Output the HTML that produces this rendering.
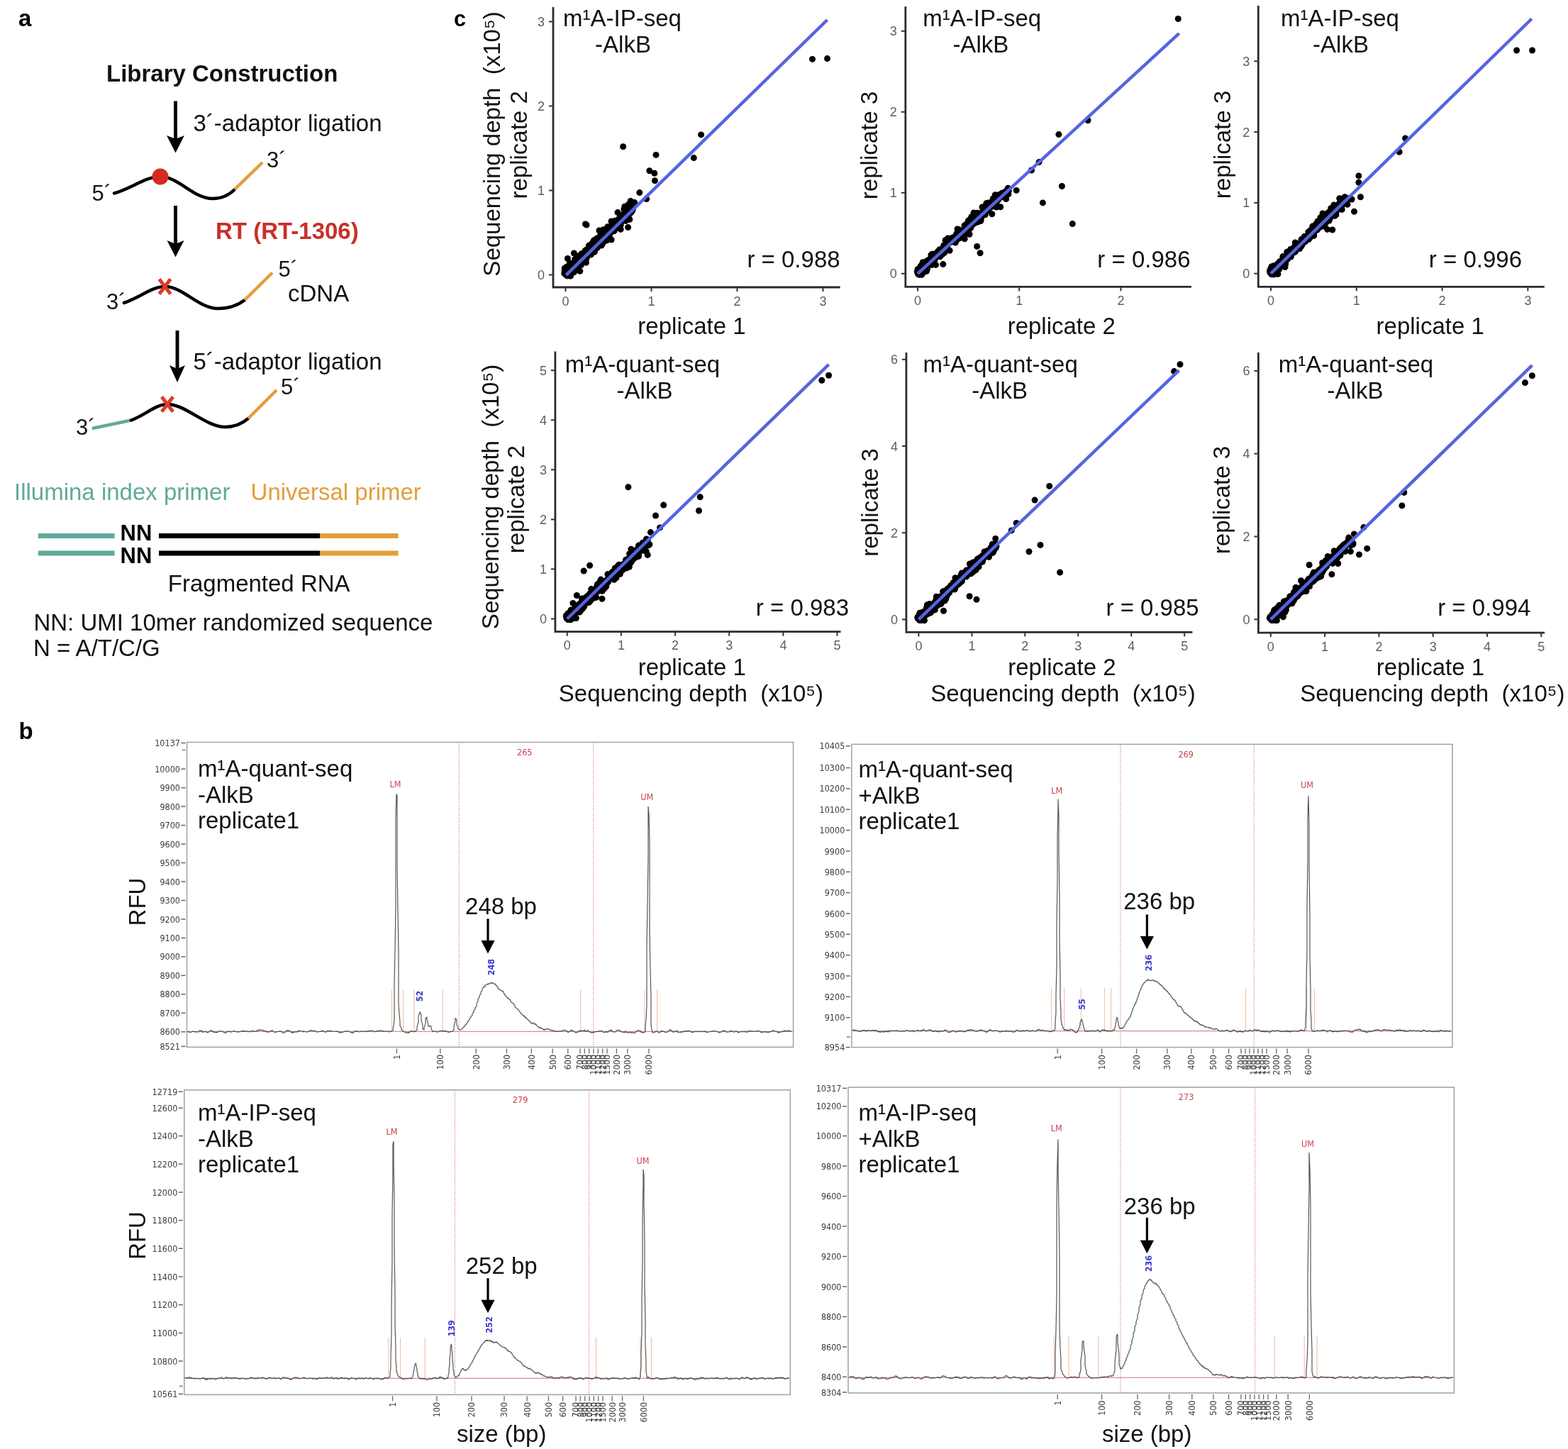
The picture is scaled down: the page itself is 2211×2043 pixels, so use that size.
<!DOCTYPE html>
<html><head><meta charset="utf-8"><title>Figure</title>
<style>
html,body{margin:0;padding:0;background:#fff;}
svg{display:block;}
text{font-family:"Liberation Sans", Arial, sans-serif;}
text.dj{font-family:"DejaVu Sans Condensed","DejaVu Sans",sans-serif;font-stretch:condensed;}
</style></head>
<body>
<svg width="2211" height="2043" viewBox="0 0 2211 2043">
<rect x="0" y="0" width="2211" height="2043" fill="#fff"/>
<text x="26.0" y="37.0" font-size="33" text-anchor="start" font-weight="bold" fill="#000" >a</text>
<text x="150.0" y="114.5" font-size="33" text-anchor="start" font-weight="bold" fill="#111" >Library Construction</text>
<line x1="247.5" y1="142.5" x2="247.5" y2="198.0" stroke="#000" stroke-width="4.9" />
<polygon points="235.0,191.0 247.5,196.0 260.0,191.0 247.5,215.5" fill="#000"/>
<text x="272.5" y="184.5" font-size="33" text-anchor="start" font-weight="normal" fill="#111" >3´-adaptor ligation</text>
<path d="M161,272.5 C185,266 205,249 226,249 C252,249 272,280 300,280 C314,280 324,274 331,267" fill="none" stroke="#000" stroke-width="4.5" stroke-linecap="round"/>
<line x1="331.0" y1="267.0" x2="370.0" y2="229.0" stroke="#e39d3b" stroke-width="4.5" />
<circle cx="226" cy="249" r="11.5" fill="#d42a20"/>
<text x="129.5" y="282.5" font-size="31" text-anchor="start" font-weight="normal" fill="#111" >5´</text>
<text x="376.0" y="236.0" font-size="31" text-anchor="start" font-weight="normal" fill="#111" >3´</text>
<line x1="247.5" y1="290.0" x2="247.5" y2="346.0" stroke="#000" stroke-width="4.9" />
<polygon points="235.5,339.0 247.5,344.0 259.5,339.0 247.5,362.5" fill="#000"/>
<text x="304.0" y="337.0" font-size="33" text-anchor="start" font-weight="bold" fill="#c9302a" >RT (RT-1306)</text>
<path d="M175,427 C198,419 215,404 232.5,404 C258,404 280,435 307.5,435 C323,435 336,430 345,423" fill="none" stroke="#000" stroke-width="4.5" stroke-linecap="round"/>
<line x1="345.0" y1="423.0" x2="384.0" y2="384.5" stroke="#e39d3b" stroke-width="4.5" />
<path d="M224.5,393.5 L240.5,414.5 M240.5,393.5 L224.5,414.5" stroke="#dc3b26" stroke-width="5" fill="none"/>
<text x="150.0" y="436.0" font-size="31" text-anchor="start" font-weight="normal" fill="#111" >3´</text>
<text x="392.5" y="390.0" font-size="31" text-anchor="start" font-weight="normal" fill="#111" >5´</text>
<text x="406.0" y="424.5" font-size="33" text-anchor="start" font-weight="normal" fill="#111" >cDNA</text>
<line x1="250.0" y1="466.0" x2="250.0" y2="522.0" stroke="#000" stroke-width="4.9" />
<polygon points="239.0,515.0 250.0,520.0 261.0,515.0 250.0,539.0" fill="#000"/>
<text x="272.5" y="521.0" font-size="33" text-anchor="start" font-weight="normal" fill="#111" >5´-adaptor ligation</text>
<line x1="130.0" y1="604.0" x2="185.0" y2="592.5" stroke="#62a99a" stroke-width="4.5" />
<path d="M185,592.5 C205,585 220,570 236,570 C262,570 290,602 317.5,602 C332,602 343,596 350,590" fill="none" stroke="#000" stroke-width="4.5" stroke-linecap="round"/>
<line x1="350.0" y1="590.0" x2="390.0" y2="550.0" stroke="#e39d3b" stroke-width="4.5" />
<path d="M228,559.5 L244,580.5 M244,559.5 L228,580.5" stroke="#dc3b26" stroke-width="5" fill="none"/>
<text x="107.0" y="612.5" font-size="31" text-anchor="start" font-weight="normal" fill="#111" >3´</text>
<text x="396.0" y="556.0" font-size="31" text-anchor="start" font-weight="normal" fill="#111" >5´</text>
<text x="20.0" y="704.8" font-size="33" text-anchor="start" font-weight="normal" fill="#62a99a" >Illumina index primer</text>
<text x="353.6" y="704.8" font-size="33" text-anchor="start" font-weight="normal" fill="#e39d3b" >Universal primer</text>
<line x1="53.8" y1="755.4" x2="161.6" y2="755.4" stroke="#62a99a" stroke-width="7" />
<line x1="224.0" y1="755.4" x2="451.0" y2="755.4" stroke="#000" stroke-width="7" />
<line x1="451.0" y1="755.4" x2="561.6" y2="755.4" stroke="#e39d3b" stroke-width="7" />
<line x1="53.8" y1="780.0" x2="161.6" y2="780.0" stroke="#62a99a" stroke-width="7" />
<line x1="224.0" y1="780.0" x2="451.0" y2="780.0" stroke="#000" stroke-width="7" />
<line x1="451.0" y1="780.0" x2="561.6" y2="780.0" stroke="#e39d3b" stroke-width="7" />
<text x="169.6" y="761.8" font-size="31" text-anchor="start" font-weight="bold" fill="#000" >NN</text>
<text x="169.6" y="794.4" font-size="31" text-anchor="start" font-weight="bold" fill="#000" >NN</text>
<text x="236.8" y="834.4" font-size="33" text-anchor="start" font-weight="normal" fill="#111" >Fragmented RNA</text>
<text x="47.4" y="888.8" font-size="33" text-anchor="start" font-weight="normal" fill="#111" >NN: UMI 10mer randomized sequence</text>
<text x="47.0" y="925.0" font-size="33" text-anchor="start" font-weight="normal" fill="#111" >N = A/T/C/G</text>
<text x="640.0" y="36.8" font-size="30.5" text-anchor="start" font-weight="bold" fill="#000" >c</text>
<path d="M780,10 L780,405 L1184.6,405" fill="none" stroke="#2b2b2b" stroke-width="2.8"/>
<line x1="797.5" y1="405.0" x2="797.5" y2="411.0" stroke="#333" stroke-width="2" />
<text x="797.5" y="430.5" font-size="18" text-anchor="middle" font-weight="normal" fill="#5c5c5c" >0</text>
<line x1="918.5" y1="405.0" x2="918.5" y2="411.0" stroke="#333" stroke-width="2" />
<text x="918.5" y="430.5" font-size="18" text-anchor="middle" font-weight="normal" fill="#5c5c5c" >1</text>
<line x1="1039.5" y1="405.0" x2="1039.5" y2="411.0" stroke="#333" stroke-width="2" />
<text x="1039.5" y="430.5" font-size="18" text-anchor="middle" font-weight="normal" fill="#5c5c5c" >2</text>
<line x1="1160.5" y1="405.0" x2="1160.5" y2="411.0" stroke="#333" stroke-width="2" />
<text x="1160.5" y="430.5" font-size="18" text-anchor="middle" font-weight="normal" fill="#5c5c5c" >3</text>
<line x1="774.0" y1="387.5" x2="780.0" y2="387.5" stroke="#333" stroke-width="2" />
<text x="768.0" y="394.0" font-size="18" text-anchor="end" font-weight="normal" fill="#5c5c5c" >0</text>
<line x1="774.0" y1="268.5" x2="780.0" y2="268.5" stroke="#333" stroke-width="2" />
<text x="768.0" y="275.0" font-size="18" text-anchor="end" font-weight="normal" fill="#5c5c5c" >1</text>
<line x1="774.0" y1="149.5" x2="780.0" y2="149.5" stroke="#333" stroke-width="2" />
<text x="768.0" y="156.0" font-size="18" text-anchor="end" font-weight="normal" fill="#5c5c5c" >2</text>
<line x1="774.0" y1="30.5" x2="780.0" y2="30.5" stroke="#333" stroke-width="2" />
<text x="768.0" y="37.0" font-size="18" text-anchor="end" font-weight="normal" fill="#5c5c5c" >3</text>
<g fill="#000"><circle cx="805.2" cy="386.2" r="4.5"/><circle cx="850.4" cy="331.6" r="4.5"/><circle cx="858.9" cy="333.7" r="4.5"/><circle cx="830.0" cy="350.4" r="4.5"/><circle cx="799.2" cy="385.5" r="4.5"/><circle cx="882.3" cy="302.4" r="4.5"/><circle cx="885.7" cy="301.7" r="4.5"/><circle cx="857.8" cy="323.2" r="4.5"/><circle cx="803.6" cy="378.3" r="4.5"/><circle cx="813.0" cy="367.7" r="4.5"/><circle cx="840.5" cy="340.4" r="4.5"/><circle cx="886.3" cy="299.7" r="4.5"/><circle cx="830.5" cy="346.1" r="4.5"/><circle cx="804.6" cy="384.1" r="4.5"/><circle cx="844.5" cy="339.4" r="4.5"/><circle cx="818.3" cy="365.0" r="4.5"/><circle cx="861.8" cy="325.8" r="4.5"/><circle cx="870.1" cy="316.1" r="4.5"/><circle cx="879.5" cy="305.2" r="4.5"/><circle cx="840.8" cy="338.1" r="4.5"/><circle cx="875.9" cy="304.8" r="4.5"/><circle cx="885.6" cy="295.2" r="4.5"/><circle cx="841.0" cy="344.9" r="4.5"/><circle cx="833.2" cy="359.0" r="4.5"/><circle cx="812.5" cy="376.1" r="4.5"/><circle cx="815.7" cy="371.1" r="4.5"/><circle cx="873.0" cy="315.6" r="4.5"/><circle cx="856.6" cy="323.7" r="4.5"/><circle cx="862.9" cy="316.3" r="4.5"/><circle cx="809.6" cy="378.3" r="4.5"/><circle cx="867.0" cy="311.3" r="4.5"/><circle cx="861.5" cy="327.3" r="4.5"/><circle cx="833.0" cy="357.5" r="4.5"/><circle cx="801.1" cy="381.9" r="4.5"/><circle cx="847.0" cy="335.4" r="4.5"/><circle cx="858.9" cy="328.0" r="4.5"/><circle cx="851.1" cy="332.2" r="4.5"/><circle cx="838.0" cy="345.0" r="4.5"/><circle cx="806.5" cy="379.4" r="4.5"/><circle cx="841.8" cy="336.1" r="4.5"/><circle cx="859.1" cy="329.5" r="4.5"/><circle cx="797.8" cy="387.2" r="4.5"/><circle cx="798.7" cy="382.4" r="4.5"/><circle cx="850.6" cy="328.2" r="4.5"/><circle cx="809.1" cy="383.2" r="4.5"/><circle cx="815.3" cy="361.0" r="4.5"/><circle cx="855.2" cy="334.6" r="4.5"/><circle cx="828.5" cy="360.3" r="4.5"/><circle cx="833.5" cy="351.4" r="4.5"/><circle cx="865.0" cy="322.5" r="4.5"/><circle cx="872.3" cy="309.5" r="4.5"/><circle cx="806.7" cy="375.8" r="4.5"/><circle cx="796.8" cy="381.9" r="4.5"/><circle cx="797.5" cy="380.3" r="4.5"/><circle cx="796.3" cy="382.7" r="4.5"/><circle cx="834.8" cy="353.7" r="4.5"/><circle cx="823.5" cy="359.5" r="4.5"/><circle cx="805.4" cy="381.2" r="4.5"/><circle cx="802.1" cy="383.0" r="4.5"/><circle cx="809.4" cy="383.7" r="4.5"/><circle cx="835.9" cy="342.3" r="4.5"/><circle cx="891.2" cy="297.3" r="4.5"/><circle cx="851.1" cy="331.1" r="4.5"/><circle cx="801.1" cy="377.3" r="4.5"/><circle cx="808.7" cy="374.8" r="4.5"/><circle cx="810.6" cy="376.7" r="4.5"/><circle cx="886.0" cy="288.4" r="4.5"/><circle cx="834.5" cy="349.5" r="4.5"/><circle cx="798.1" cy="384.4" r="4.5"/><circle cx="812.7" cy="375.1" r="4.5"/><circle cx="873.8" cy="316.5" r="4.5"/><circle cx="868.9" cy="320.4" r="4.5"/><circle cx="820.0" cy="357.8" r="4.5"/><circle cx="851.8" cy="327.3" r="4.5"/><circle cx="796.7" cy="379.9" r="4.5"/><circle cx="865.4" cy="322.4" r="4.5"/><circle cx="800.9" cy="382.0" r="4.5"/><circle cx="855.5" cy="329.3" r="4.5"/><circle cx="852.9" cy="334.6" r="4.5"/><circle cx="817.4" cy="366.4" r="4.5"/><circle cx="822.8" cy="360.3" r="4.5"/><circle cx="868.2" cy="313.8" r="4.5"/><circle cx="834.0" cy="350.9" r="4.5"/><circle cx="839.5" cy="337.9" r="4.5"/><circle cx="803.5" cy="385.4" r="4.5"/><circle cx="801.3" cy="385.3" r="4.5"/><circle cx="808.7" cy="370.5" r="4.5"/><circle cx="807.9" cy="380.4" r="4.5"/><circle cx="822.0" cy="369.1" r="4.5"/><circle cx="871.1" cy="311.8" r="4.5"/><circle cx="796.2" cy="381.9" r="4.5"/><circle cx="796.2" cy="385.4" r="4.5"/><circle cx="800.8" cy="380.8" r="4.5"/><circle cx="841.3" cy="341.6" r="4.5"/><circle cx="804.9" cy="387.9" r="4.5"/><circle cx="800.8" cy="382.1" r="4.5"/><circle cx="805.7" cy="384.2" r="4.5"/><circle cx="885.2" cy="300.4" r="4.5"/><circle cx="878.4" cy="311.4" r="4.5"/><circle cx="797.0" cy="381.4" r="4.5"/><circle cx="803.9" cy="387.6" r="4.5"/><circle cx="878.8" cy="304.0" r="4.5"/><circle cx="814.7" cy="379.5" r="4.5"/><circle cx="855.3" cy="328.4" r="4.5"/><circle cx="799.5" cy="388.2" r="4.5"/><circle cx="800.0" cy="388.9" r="4.5"/><circle cx="800.8" cy="383.6" r="4.5"/><circle cx="826.8" cy="358.2" r="4.5"/><circle cx="829.3" cy="354.2" r="4.5"/><circle cx="877.4" cy="306.2" r="4.5"/><circle cx="871.5" cy="314.4" r="4.5"/><circle cx="831.3" cy="353.3" r="4.5"/><circle cx="886.6" cy="297.9" r="4.5"/><circle cx="801.1" cy="388.4" r="4.5"/><circle cx="891.3" cy="295.7" r="4.5"/><circle cx="796.0" cy="385.4" r="4.5"/><circle cx="796.3" cy="378.1" r="4.5"/><circle cx="873.1" cy="307.9" r="4.5"/><circle cx="849.0" cy="332.5" r="4.5"/><circle cx="799.4" cy="385.1" r="4.5"/><circle cx="813.8" cy="369.1" r="4.5"/><circle cx="886.2" cy="305.8" r="4.5"/><circle cx="850.7" cy="330.0" r="4.5"/><circle cx="803.3" cy="378.0" r="4.5"/><circle cx="809.8" cy="376.4" r="4.5"/><circle cx="860.4" cy="328.8" r="4.5"/><circle cx="796.3" cy="385.0" r="4.5"/><circle cx="855.9" cy="327.8" r="4.5"/><circle cx="833.4" cy="351.8" r="4.5"/><circle cx="885.9" cy="293.6" r="4.5"/><circle cx="821.1" cy="362.4" r="4.5"/><circle cx="816.8" cy="365.8" r="4.5"/><circle cx="806.9" cy="373.6" r="4.5"/><circle cx="806.6" cy="379.7" r="4.5"/><circle cx="879.8" cy="295.1" r="4.5"/><circle cx="806.0" cy="373.6" r="4.5"/><circle cx="871.2" cy="313.0" r="4.5"/><circle cx="803.3" cy="381.1" r="4.5"/><circle cx="815.8" cy="369.7" r="4.5"/><circle cx="804.1" cy="382.7" r="4.5"/><circle cx="861.9" cy="325.9" r="4.5"/><circle cx="830.7" cy="354.1" r="4.5"/><circle cx="868.8" cy="315.5" r="4.5"/><circle cx="804.6" cy="389.0" r="4.5"/><circle cx="866.0" cy="325.7" r="4.5"/><circle cx="803.3" cy="371.1" r="4.5"/><circle cx="840.5" cy="350.6" r="4.5"/><circle cx="811.7" cy="375.4" r="4.5"/><circle cx="821.2" cy="367.5" r="4.5"/><circle cx="850.8" cy="323.8" r="4.5"/><circle cx="813.3" cy="369.2" r="4.5"/><circle cx="810.4" cy="379.8" r="4.5"/><circle cx="826.9" cy="354.2" r="4.5"/><circle cx="797.4" cy="383.8" r="4.5"/><circle cx="802.0" cy="388.2" r="4.5"/><circle cx="871.6" cy="319.4" r="4.5"/><circle cx="803.2" cy="376.0" r="4.5"/><circle cx="850.6" cy="335.3" r="4.5"/><circle cx="842.3" cy="349.3" r="4.5"/><circle cx="875.8" cy="308.0" r="4.5"/><circle cx="855.3" cy="339.0" r="4.5"/><circle cx="857.0" cy="328.1" r="4.5"/><circle cx="814.2" cy="364.4" r="4.5"/><circle cx="797.7" cy="386.2" r="4.5"/><circle cx="884.2" cy="295.3" r="4.5"/><circle cx="858.4" cy="328.4" r="4.5"/><circle cx="846.9" cy="330.4" r="4.5"/><circle cx="839.8" cy="339.3" r="4.5"/><circle cx="889.3" cy="300.0" r="4.5"/><circle cx="859.5" cy="324.6" r="4.5"/><circle cx="833.4" cy="349.6" r="4.5"/><circle cx="849.5" cy="335.9" r="4.5"/><circle cx="878.7" cy="305.5" r="4.5"/><circle cx="826.5" cy="355.4" r="4.5"/><circle cx="847.3" cy="341.1" r="4.5"/><circle cx="816.0" cy="372.1" r="4.5"/><circle cx="849.3" cy="329.3" r="4.5"/><circle cx="818.7" cy="365.4" r="4.5"/><circle cx="886.5" cy="296.0" r="4.5"/><circle cx="866.4" cy="312.8" r="4.5"/><circle cx="862.6" cy="322.2" r="4.5"/><circle cx="827.2" cy="364.1" r="4.5"/><circle cx="884.8" cy="295.3" r="4.5"/><circle cx="823.5" cy="360.2" r="4.5"/><circle cx="853.5" cy="331.7" r="4.5"/><circle cx="821.7" cy="358.9" r="4.5"/><circle cx="848.1" cy="346.0" r="4.5"/><circle cx="826.6" cy="359.1" r="4.5"/><circle cx="805.9" cy="380.5" r="4.5"/><circle cx="799.0" cy="388.1" r="4.5"/><circle cx="816.3" cy="361.9" r="4.5"/><circle cx="875.9" cy="304.6" r="4.5"/><circle cx="853.7" cy="328.1" r="4.5"/><circle cx="869.0" cy="316.6" r="4.5"/><circle cx="858.8" cy="325.4" r="4.5"/><circle cx="799.8" cy="377.9" r="4.5"/><circle cx="813.8" cy="374.5" r="4.5"/><circle cx="818.3" cy="366.1" r="4.5"/><circle cx="852.8" cy="332.7" r="4.5"/><circle cx="836.9" cy="349.4" r="4.5"/><circle cx="856.9" cy="319.7" r="4.5"/><circle cx="796.2" cy="385.4" r="4.5"/><circle cx="821.8" cy="362.7" r="4.5"/><circle cx="798.0" cy="384.6" r="4.5"/><circle cx="847.6" cy="337.4" r="4.5"/><circle cx="799.1" cy="378.2" r="4.5"/><circle cx="837.1" cy="339.5" r="4.5"/><circle cx="817.7" cy="369.2" r="4.5"/><circle cx="887.4" cy="300.2" r="4.5"/><circle cx="819.3" cy="361.2" r="4.5"/><circle cx="891.8" cy="296.6" r="4.5"/><circle cx="831.5" cy="349.8" r="4.5"/><circle cx="843.0" cy="340.8" r="4.5"/><circle cx="851.4" cy="340.7" r="4.5"/><circle cx="826.4" cy="370.3" r="4.5"/><circle cx="825.2" cy="353.4" r="4.5"/><circle cx="858.9" cy="326.2" r="4.5"/><circle cx="817.9" cy="365.2" r="4.5"/><circle cx="832.0" cy="354.7" r="4.5"/><circle cx="801.0" cy="380.3" r="4.5"/><circle cx="798.4" cy="386.4" r="4.5"/><circle cx="868.8" cy="321.8" r="4.5"/><circle cx="872.5" cy="312.3" r="4.5"/><circle cx="882.5" cy="311.4" r="4.5"/><circle cx="877.5" cy="303.1" r="4.5"/><circle cx="819.2" cy="373.9" r="4.5"/><circle cx="888.5" cy="289.8" r="4.5"/><circle cx="873.3" cy="317.2" r="4.5"/><circle cx="859.4" cy="330.5" r="4.5"/><circle cx="883.6" cy="304.3" r="4.5"/><circle cx="813.3" cy="377.3" r="4.5"/><circle cx="812.8" cy="379.8" r="4.5"/><circle cx="802.7" cy="382.5" r="4.5"/><circle cx="826.7" cy="352.3" r="4.5"/><circle cx="806.1" cy="377.2" r="4.5"/><circle cx="824.1" cy="356.9" r="4.5"/><circle cx="801.9" cy="383.2" r="4.5"/><circle cx="841.7" cy="340.1" r="4.5"/><circle cx="840.2" cy="341.6" r="4.5"/><circle cx="800.4" cy="364.5" r="4.5"/><circle cx="879.6" cy="307.4" r="4.5"/><circle cx="835.0" cy="343.1" r="4.5"/><circle cx="839.0" cy="349.8" r="4.5"/><circle cx="838.0" cy="338.8" r="4.5"/><circle cx="836.7" cy="351.3" r="4.5"/><circle cx="819.4" cy="363.9" r="4.5"/><circle cx="857.2" cy="331.3" r="4.5"/><circle cx="862.1" cy="338.0" r="4.5"/><circle cx="892.3" cy="295.0" r="4.5"/><circle cx="890.4" cy="291.5" r="4.5"/><circle cx="825.5" cy="366.9" r="4.5"/><circle cx="802.6" cy="385.4" r="4.5"/><circle cx="801.6" cy="384.9" r="4.5"/><circle cx="797.6" cy="384.9" r="4.5"/><circle cx="855.0" cy="334.6" r="4.5"/><circle cx="844.4" cy="341.6" r="4.5"/><circle cx="812.9" cy="374.1" r="4.5"/><circle cx="842.8" cy="338.7" r="4.5"/><circle cx="827.0" cy="362.3" r="4.5"/><circle cx="837.1" cy="350.0" r="4.5"/><circle cx="796.5" cy="384.7" r="4.5"/><circle cx="803.4" cy="388.9" r="4.5"/><circle cx="859.2" cy="331.7" r="4.5"/><circle cx="796.3" cy="383.2" r="4.5"/><circle cx="830.7" cy="346.6" r="4.5"/><circle cx="796.5" cy="381.4" r="4.5"/><circle cx="875.5" cy="307.2" r="4.5"/><circle cx="875.2" cy="317.2" r="4.5"/><circle cx="810.5" cy="373.7" r="4.5"/><circle cx="857.7" cy="327.6" r="4.5"/><circle cx="799.1" cy="376.2" r="4.5"/><circle cx="796.6" cy="384.0" r="4.5"/><circle cx="841.1" cy="337.2" r="4.5"/><circle cx="834.1" cy="351.4" r="4.5"/><circle cx="858.7" cy="326.1" r="4.5"/><circle cx="800.5" cy="388.5" r="4.5"/><circle cx="890.6" cy="295.5" r="4.5"/><circle cx="849.7" cy="340.2" r="4.5"/><circle cx="807.2" cy="376.0" r="4.5"/><circle cx="818.0" cy="364.3" r="4.5"/><circle cx="834.0" cy="347.5" r="4.5"/><circle cx="817.0" cy="364.8" r="4.5"/><circle cx="796.3" cy="385.8" r="4.5"/><circle cx="880.0" cy="307.8" r="4.5"/><circle cx="836.1" cy="348.7" r="4.5"/><circle cx="841.6" cy="340.8" r="4.5"/><circle cx="802.1" cy="386.0" r="4.5"/><circle cx="868.5" cy="317.9" r="4.5"/><circle cx="844.4" cy="346.2" r="4.5"/><circle cx="855.8" cy="327.2" r="4.5"/><circle cx="877.8" cy="308.8" r="4.5"/><circle cx="890.8" cy="298.3" r="4.5"/><circle cx="798.7" cy="386.7" r="4.5"/><circle cx="810.6" cy="365.7" r="4.5"/><circle cx="837.7" cy="344.8" r="4.5"/><circle cx="853.4" cy="328.2" r="4.5"/><circle cx="858.8" cy="328.9" r="4.5"/><circle cx="856.7" cy="329.5" r="4.5"/><circle cx="873.0" cy="312.5" r="4.5"/><circle cx="838.3" cy="355.2" r="4.5"/><circle cx="798.8" cy="382.3" r="4.5"/><circle cx="799.2" cy="388.0" r="4.5"/><circle cx="834.8" cy="356.0" r="4.5"/><circle cx="833.9" cy="348.9" r="4.5"/><circle cx="849.2" cy="344.3" r="4.5"/><circle cx="856.5" cy="331.0" r="4.5"/><circle cx="863.9" cy="321.0" r="4.5"/><circle cx="797.1" cy="384.1" r="4.5"/><circle cx="814.5" cy="365.9" r="4.5"/><circle cx="828.9" cy="357.7" r="4.5"/><circle cx="802.2" cy="378.6" r="4.5"/><circle cx="855.0" cy="333.4" r="4.5"/><circle cx="856.5" cy="330.3" r="4.5"/><circle cx="886.8" cy="297.7" r="4.5"/><circle cx="796.6" cy="385.2" r="4.5"/><circle cx="822.9" cy="363.5" r="4.5"/><circle cx="825.8" cy="363.8" r="4.5"/><circle cx="846.5" cy="334.8" r="4.5"/><circle cx="846.0" cy="333.9" r="4.5"/><circle cx="802.5" cy="378.9" r="4.5"/><circle cx="1145.5" cy="83.4" r="4.5"/><circle cx="1166.5" cy="82.6" r="4.5"/><circle cx="988.6" cy="189.9" r="4.5"/><circle cx="878.6" cy="206.7" r="4.5"/><circle cx="925.0" cy="218.4" r="4.5"/><circle cx="978.3" cy="222.6" r="4.5"/><circle cx="915.8" cy="240.8" r="4.5"/><circle cx="922.8" cy="244.2" r="4.5"/><circle cx="923.4" cy="254.8" r="4.5"/><circle cx="901.8" cy="271.6" r="4.5"/><circle cx="911.6" cy="280.6" r="4.5"/><circle cx="889.2" cy="283.4" r="4.5"/><circle cx="894.8" cy="285.6" r="4.5"/><circle cx="880.8" cy="291.2" r="4.5"/><circle cx="871.0" cy="299.6" r="4.5"/><circle cx="887.8" cy="309.4" r="4.5"/><circle cx="825.4" cy="315.9" r="4.5"/><circle cx="827.0" cy="317.0" r="4.5"/><circle cx="885.6" cy="320.6" r="4.5"/><circle cx="875.2" cy="323.4" r="4.5"/><circle cx="809.4" cy="357.0" r="4.5"/><circle cx="817.8" cy="382.2" r="4.5"/><circle cx="860.0" cy="328.0" r="4.5"/><circle cx="850.0" cy="335.0" r="4.5"/><circle cx="845.0" cy="325.0" r="4.5"/><circle cx="862.0" cy="312.0" r="4.5"/></g>
<line x1="798.2" y1="387.8" x2="1166.5" y2="28.0" stroke="#5763e0" stroke-width="4.5" />
<text x="877.5" y="37.0" font-size="33" text-anchor="middle" font-weight="normal" fill="#111" >m¹A-IP-seq</text>
<text x="878.5" y="73.5" font-size="33" text-anchor="middle" font-weight="normal" fill="#111" >-AlkB</text>
<text x="1184.6" y="376.8" font-size="33" text-anchor="end" font-weight="normal" fill="#111" >r = 0.988</text>
<text x="975.5" y="471.0" font-size="33" text-anchor="middle" font-weight="normal" fill="#111" >replicate 1</text>
<text transform="translate(705.4,203.0) rotate(-90)" x="0" y="0" font-size="33" text-anchor="middle" font-weight="normal" fill="#111">Sequencing depth&#160;&#160;(x10⁵)</text>
<text transform="translate(743.3,204.4) rotate(-90)" x="0" y="0" font-size="33" text-anchor="middle" font-weight="normal" fill="#111">replicate 2</text>
<path d="M1276.8,9.3 L1276.8,404.4 L1679.9,404.4" fill="none" stroke="#2b2b2b" stroke-width="2.8"/>
<line x1="1294.0" y1="404.4" x2="1294.0" y2="410.4" stroke="#333" stroke-width="2" />
<text x="1294.0" y="429.9" font-size="18" text-anchor="middle" font-weight="normal" fill="#5c5c5c" >0</text>
<line x1="1437.2" y1="404.4" x2="1437.2" y2="410.4" stroke="#333" stroke-width="2" />
<text x="1437.2" y="429.9" font-size="18" text-anchor="middle" font-weight="normal" fill="#5c5c5c" >1</text>
<line x1="1580.4" y1="404.4" x2="1580.4" y2="410.4" stroke="#333" stroke-width="2" />
<text x="1580.4" y="429.9" font-size="18" text-anchor="middle" font-weight="normal" fill="#5c5c5c" >2</text>
<line x1="1270.8" y1="385.8" x2="1276.8" y2="385.8" stroke="#333" stroke-width="2" />
<text x="1264.8" y="392.3" font-size="18" text-anchor="end" font-weight="normal" fill="#5c5c5c" >0</text>
<line x1="1270.8" y1="271.8" x2="1276.8" y2="271.8" stroke="#333" stroke-width="2" />
<text x="1264.8" y="278.3" font-size="18" text-anchor="end" font-weight="normal" fill="#5c5c5c" >1</text>
<line x1="1270.8" y1="157.8" x2="1276.8" y2="157.8" stroke="#333" stroke-width="2" />
<text x="1264.8" y="164.3" font-size="18" text-anchor="end" font-weight="normal" fill="#5c5c5c" >2</text>
<line x1="1270.8" y1="43.8" x2="1276.8" y2="43.8" stroke="#333" stroke-width="2" />
<text x="1264.8" y="50.3" font-size="18" text-anchor="end" font-weight="normal" fill="#5c5c5c" >3</text>
<g fill="#000"><circle cx="1349.0" cy="331.0" r="4.5"/><circle cx="1403.3" cy="274.8" r="4.5"/><circle cx="1335.6" cy="348.4" r="4.5"/><circle cx="1308.3" cy="374.4" r="4.5"/><circle cx="1314.2" cy="367.6" r="4.5"/><circle cx="1418.4" cy="273.4" r="4.5"/><circle cx="1295.8" cy="382.9" r="4.5"/><circle cx="1380.0" cy="304.5" r="4.5"/><circle cx="1324.1" cy="361.1" r="4.5"/><circle cx="1359.0" cy="324.8" r="4.5"/><circle cx="1326.2" cy="354.4" r="4.5"/><circle cx="1313.2" cy="363.3" r="4.5"/><circle cx="1297.1" cy="379.6" r="4.5"/><circle cx="1366.3" cy="324.2" r="4.5"/><circle cx="1402.2" cy="288.9" r="4.5"/><circle cx="1327.9" cy="351.5" r="4.5"/><circle cx="1327.0" cy="355.1" r="4.5"/><circle cx="1334.7" cy="348.2" r="4.5"/><circle cx="1344.4" cy="339.3" r="4.5"/><circle cx="1369.6" cy="315.0" r="4.5"/><circle cx="1294.9" cy="386.5" r="4.5"/><circle cx="1295.0" cy="385.2" r="4.5"/><circle cx="1302.5" cy="375.2" r="4.5"/><circle cx="1366.3" cy="317.8" r="4.5"/><circle cx="1375.8" cy="313.9" r="4.5"/><circle cx="1333.7" cy="344.2" r="4.5"/><circle cx="1337.8" cy="342.4" r="4.5"/><circle cx="1399.6" cy="290.6" r="4.5"/><circle cx="1367.9" cy="317.4" r="4.5"/><circle cx="1297.0" cy="382.8" r="4.5"/><circle cx="1297.2" cy="385.3" r="4.5"/><circle cx="1398.8" cy="287.7" r="4.5"/><circle cx="1371.0" cy="316.1" r="4.5"/><circle cx="1380.3" cy="303.2" r="4.5"/><circle cx="1303.8" cy="382.9" r="4.5"/><circle cx="1302.5" cy="375.5" r="4.5"/><circle cx="1405.6" cy="289.0" r="4.5"/><circle cx="1331.3" cy="349.1" r="4.5"/><circle cx="1415.2" cy="275.2" r="4.5"/><circle cx="1401.4" cy="287.3" r="4.5"/><circle cx="1345.4" cy="336.6" r="4.5"/><circle cx="1367.9" cy="318.1" r="4.5"/><circle cx="1312.1" cy="367.4" r="4.5"/><circle cx="1386.2" cy="292.3" r="4.5"/><circle cx="1307.2" cy="367.8" r="4.5"/><circle cx="1301.2" cy="369.7" r="4.5"/><circle cx="1400.3" cy="280.0" r="4.5"/><circle cx="1314.5" cy="361.4" r="4.5"/><circle cx="1399.9" cy="284.5" r="4.5"/><circle cx="1296.5" cy="385.8" r="4.5"/><circle cx="1337.1" cy="352.2" r="4.5"/><circle cx="1310.2" cy="373.3" r="4.5"/><circle cx="1313.5" cy="370.0" r="4.5"/><circle cx="1346.4" cy="341.4" r="4.5"/><circle cx="1317.1" cy="360.8" r="4.5"/><circle cx="1366.5" cy="319.8" r="4.5"/><circle cx="1403.3" cy="285.8" r="4.5"/><circle cx="1306.6" cy="372.7" r="4.5"/><circle cx="1295.2" cy="382.7" r="4.5"/><circle cx="1318.7" cy="360.8" r="4.5"/><circle cx="1325.5" cy="361.9" r="4.5"/><circle cx="1364.5" cy="318.4" r="4.5"/><circle cx="1369.1" cy="320.1" r="4.5"/><circle cx="1344.0" cy="334.7" r="4.5"/><circle cx="1301.2" cy="381.9" r="4.5"/><circle cx="1365.9" cy="320.1" r="4.5"/><circle cx="1374.8" cy="310.7" r="4.5"/><circle cx="1331.1" cy="346.7" r="4.5"/><circle cx="1313.9" cy="365.6" r="4.5"/><circle cx="1421.1" cy="268.0" r="4.5"/><circle cx="1378.6" cy="313.0" r="4.5"/><circle cx="1310.5" cy="367.7" r="4.5"/><circle cx="1367.6" cy="310.8" r="4.5"/><circle cx="1335.7" cy="349.0" r="4.5"/><circle cx="1418.9" cy="269.2" r="4.5"/><circle cx="1328.1" cy="354.5" r="4.5"/><circle cx="1333.3" cy="349.9" r="4.5"/><circle cx="1297.9" cy="376.0" r="4.5"/><circle cx="1376.5" cy="308.4" r="4.5"/><circle cx="1368.5" cy="317.8" r="4.5"/><circle cx="1313.4" cy="371.4" r="4.5"/><circle cx="1420.6" cy="273.6" r="4.5"/><circle cx="1387.4" cy="302.8" r="4.5"/><circle cx="1298.1" cy="375.7" r="4.5"/><circle cx="1372.8" cy="315.5" r="4.5"/><circle cx="1307.9" cy="370.8" r="4.5"/><circle cx="1306.4" cy="373.2" r="4.5"/><circle cx="1309.0" cy="373.1" r="4.5"/><circle cx="1302.7" cy="373.5" r="4.5"/><circle cx="1349.0" cy="329.1" r="4.5"/><circle cx="1361.8" cy="319.2" r="4.5"/><circle cx="1295.9" cy="386.0" r="4.5"/><circle cx="1307.5" cy="379.2" r="4.5"/><circle cx="1407.6" cy="281.5" r="4.5"/><circle cx="1340.4" cy="341.7" r="4.5"/><circle cx="1407.6" cy="275.4" r="4.5"/><circle cx="1314.5" cy="358.3" r="4.5"/><circle cx="1352.0" cy="335.5" r="4.5"/><circle cx="1336.0" cy="345.2" r="4.5"/><circle cx="1294.0" cy="383.7" r="4.5"/><circle cx="1356.8" cy="330.4" r="4.5"/><circle cx="1360.2" cy="336.8" r="4.5"/><circle cx="1422.4" cy="269.0" r="4.5"/><circle cx="1294.9" cy="383.0" r="4.5"/><circle cx="1319.5" cy="373.4" r="4.5"/><circle cx="1315.7" cy="367.5" r="4.5"/><circle cx="1308.7" cy="372.3" r="4.5"/><circle cx="1349.5" cy="338.1" r="4.5"/><circle cx="1298.5" cy="375.5" r="4.5"/><circle cx="1381.9" cy="311.6" r="4.5"/><circle cx="1410.7" cy="278.4" r="4.5"/><circle cx="1314.9" cy="365.0" r="4.5"/><circle cx="1404.7" cy="286.1" r="4.5"/><circle cx="1301.0" cy="378.2" r="4.5"/><circle cx="1306.5" cy="382.2" r="4.5"/><circle cx="1399.1" cy="285.1" r="4.5"/><circle cx="1378.7" cy="307.2" r="4.5"/><circle cx="1383.4" cy="305.6" r="4.5"/><circle cx="1307.9" cy="373.4" r="4.5"/><circle cx="1402.5" cy="285.6" r="4.5"/><circle cx="1302.1" cy="382.7" r="4.5"/><circle cx="1362.0" cy="326.0" r="4.5"/><circle cx="1368.8" cy="321.3" r="4.5"/><circle cx="1408.3" cy="274.8" r="4.5"/><circle cx="1352.3" cy="323.7" r="4.5"/><circle cx="1295.9" cy="384.4" r="4.5"/><circle cx="1362.2" cy="317.5" r="4.5"/><circle cx="1321.2" cy="356.9" r="4.5"/><circle cx="1390.8" cy="286.7" r="4.5"/><circle cx="1293.5" cy="382.9" r="4.5"/><circle cx="1294.4" cy="382.7" r="4.5"/><circle cx="1420.0" cy="269.4" r="4.5"/><circle cx="1391.0" cy="293.7" r="4.5"/><circle cx="1367.9" cy="318.6" r="4.5"/><circle cx="1385.4" cy="301.6" r="4.5"/><circle cx="1418.7" cy="273.8" r="4.5"/><circle cx="1374.5" cy="312.5" r="4.5"/><circle cx="1327.5" cy="357.4" r="4.5"/><circle cx="1381.1" cy="309.8" r="4.5"/><circle cx="1407.7" cy="281.2" r="4.5"/><circle cx="1328.4" cy="352.7" r="4.5"/><circle cx="1344.0" cy="340.2" r="4.5"/><circle cx="1368.2" cy="310.7" r="4.5"/><circle cx="1313.2" cy="367.1" r="4.5"/><circle cx="1358.3" cy="327.6" r="4.5"/><circle cx="1412.7" cy="277.6" r="4.5"/><circle cx="1307.6" cy="369.7" r="4.5"/><circle cx="1294.1" cy="381.7" r="4.5"/><circle cx="1297.8" cy="381.5" r="4.5"/><circle cx="1346.0" cy="339.2" r="4.5"/><circle cx="1404.7" cy="290.6" r="4.5"/><circle cx="1390.2" cy="294.6" r="4.5"/><circle cx="1299.1" cy="374.1" r="4.5"/><circle cx="1396.1" cy="288.1" r="4.5"/><circle cx="1395.8" cy="292.7" r="4.5"/><circle cx="1417.0" cy="276.9" r="4.5"/><circle cx="1375.4" cy="309.6" r="4.5"/><circle cx="1299.8" cy="387.2" r="4.5"/><circle cx="1296.5" cy="387.2" r="4.5"/><circle cx="1340.1" cy="336.3" r="4.5"/><circle cx="1348.7" cy="336.1" r="4.5"/><circle cx="1397.4" cy="285.0" r="4.5"/><circle cx="1421.9" cy="273.9" r="4.5"/><circle cx="1298.1" cy="383.5" r="4.5"/><circle cx="1304.0" cy="383.0" r="4.5"/><circle cx="1300.4" cy="382.1" r="4.5"/><circle cx="1302.7" cy="380.6" r="4.5"/><circle cx="1300.5" cy="379.2" r="4.5"/><circle cx="1305.0" cy="381.4" r="4.5"/><circle cx="1301.2" cy="375.2" r="4.5"/><circle cx="1385.6" cy="298.2" r="4.5"/><circle cx="1363.5" cy="319.9" r="4.5"/><circle cx="1294.3" cy="385.9" r="4.5"/><circle cx="1306.9" cy="371.2" r="4.5"/><circle cx="1399.6" cy="284.6" r="4.5"/><circle cx="1403.0" cy="279.5" r="4.5"/><circle cx="1308.3" cy="369.7" r="4.5"/><circle cx="1382.6" cy="306.4" r="4.5"/><circle cx="1353.3" cy="335.7" r="4.5"/><circle cx="1365.1" cy="312.9" r="4.5"/><circle cx="1318.4" cy="365.7" r="4.5"/><circle cx="1314.1" cy="368.1" r="4.5"/><circle cx="1409.8" cy="276.4" r="4.5"/><circle cx="1407.0" cy="281.7" r="4.5"/><circle cx="1370.5" cy="312.9" r="4.5"/><circle cx="1330.7" cy="351.3" r="4.5"/><circle cx="1400.4" cy="285.2" r="4.5"/><circle cx="1333.1" cy="351.4" r="4.5"/><circle cx="1408.2" cy="279.7" r="4.5"/><circle cx="1327.2" cy="352.8" r="4.5"/><circle cx="1363.2" cy="315.7" r="4.5"/><circle cx="1296.8" cy="387.1" r="4.5"/><circle cx="1352.0" cy="329.9" r="4.5"/><circle cx="1324.5" cy="352.1" r="4.5"/><circle cx="1357.2" cy="329.7" r="4.5"/><circle cx="1365.9" cy="316.6" r="4.5"/><circle cx="1392.6" cy="286.2" r="4.5"/><circle cx="1389.6" cy="296.7" r="4.5"/><circle cx="1296.5" cy="385.3" r="4.5"/><circle cx="1322.4" cy="359.6" r="4.5"/><circle cx="1399.5" cy="290.9" r="4.5"/><circle cx="1396.8" cy="292.2" r="4.5"/><circle cx="1303.4" cy="380.9" r="4.5"/><circle cx="1386.5" cy="297.9" r="4.5"/><circle cx="1376.8" cy="304.9" r="4.5"/><circle cx="1358.7" cy="325.0" r="4.5"/><circle cx="1312.9" cy="359.4" r="4.5"/><circle cx="1331.7" cy="356.3" r="4.5"/><circle cx="1293.5" cy="383.2" r="4.5"/><circle cx="1363.1" cy="329.0" r="4.5"/><circle cx="1321.9" cy="358.9" r="4.5"/><circle cx="1348.7" cy="333.5" r="4.5"/><circle cx="1384.8" cy="302.0" r="4.5"/><circle cx="1335.5" cy="348.0" r="4.5"/><circle cx="1305.2" cy="371.7" r="4.5"/><circle cx="1392.0" cy="292.0" r="4.5"/><circle cx="1336.6" cy="336.0" r="4.5"/><circle cx="1312.8" cy="366.8" r="4.5"/><circle cx="1403.6" cy="289.7" r="4.5"/><circle cx="1300.9" cy="379.1" r="4.5"/><circle cx="1304.3" cy="376.6" r="4.5"/><circle cx="1328.8" cy="354.5" r="4.5"/><circle cx="1347.6" cy="332.9" r="4.5"/><circle cx="1379.0" cy="311.2" r="4.5"/><circle cx="1381.6" cy="302.2" r="4.5"/><circle cx="1307.1" cy="372.2" r="4.5"/><circle cx="1322.8" cy="358.7" r="4.5"/><circle cx="1390.2" cy="296.4" r="4.5"/><circle cx="1301.0" cy="375.1" r="4.5"/><circle cx="1417.1" cy="270.8" r="4.5"/><circle cx="1345.3" cy="339.2" r="4.5"/><circle cx="1299.9" cy="376.8" r="4.5"/><circle cx="1369.5" cy="315.4" r="4.5"/><circle cx="1343.9" cy="340.6" r="4.5"/><circle cx="1294.1" cy="379.8" r="4.5"/><circle cx="1316.4" cy="358.3" r="4.5"/><circle cx="1322.0" cy="355.0" r="4.5"/><circle cx="1372.8" cy="314.9" r="4.5"/><circle cx="1348.1" cy="331.8" r="4.5"/><circle cx="1314.0" cy="373.4" r="4.5"/><circle cx="1297.3" cy="384.2" r="4.5"/><circle cx="1302.8" cy="372.4" r="4.5"/><circle cx="1298.1" cy="380.8" r="4.5"/><circle cx="1340.8" cy="339.5" r="4.5"/><circle cx="1310.9" cy="365.4" r="4.5"/><circle cx="1375.3" cy="306.4" r="4.5"/><circle cx="1339.1" cy="353.2" r="4.5"/><circle cx="1400.7" cy="284.7" r="4.5"/><circle cx="1420.3" cy="271.9" r="4.5"/><circle cx="1412.8" cy="272.3" r="4.5"/><circle cx="1364.4" cy="314.8" r="4.5"/><circle cx="1356.5" cy="328.5" r="4.5"/><circle cx="1393.5" cy="296.9" r="4.5"/><circle cx="1370.6" cy="310.4" r="4.5"/><circle cx="1369.9" cy="305.8" r="4.5"/><circle cx="1294.1" cy="382.6" r="4.5"/><circle cx="1362.9" cy="321.3" r="4.5"/><circle cx="1369.1" cy="308.5" r="4.5"/><circle cx="1307.3" cy="376.4" r="4.5"/><circle cx="1303.0" cy="373.4" r="4.5"/><circle cx="1328.2" cy="351.7" r="4.5"/><circle cx="1322.7" cy="356.3" r="4.5"/><circle cx="1389.2" cy="302.8" r="4.5"/><circle cx="1396.8" cy="290.3" r="4.5"/><circle cx="1329.9" cy="357.1" r="4.5"/><circle cx="1347.2" cy="342.1" r="4.5"/><circle cx="1394.4" cy="291.4" r="4.5"/><circle cx="1365.4" cy="319.6" r="4.5"/><circle cx="1330.7" cy="346.1" r="4.5"/><circle cx="1297.5" cy="378.4" r="4.5"/><circle cx="1410.0" cy="275.8" r="4.5"/><circle cx="1365.5" cy="311.0" r="4.5"/><circle cx="1371.7" cy="310.6" r="4.5"/><circle cx="1352.4" cy="328.0" r="4.5"/><circle cx="1318.5" cy="362.5" r="4.5"/><circle cx="1334.9" cy="343.5" r="4.5"/><circle cx="1353.4" cy="326.6" r="4.5"/><circle cx="1362.4" cy="327.5" r="4.5"/><circle cx="1298.5" cy="380.8" r="4.5"/><circle cx="1388.0" cy="293.4" r="4.5"/><circle cx="1383.3" cy="308.9" r="4.5"/><circle cx="1309.2" cy="371.5" r="4.5"/><circle cx="1382.8" cy="302.3" r="4.5"/><circle cx="1394.0" cy="288.2" r="4.5"/><circle cx="1386.9" cy="302.0" r="4.5"/><circle cx="1393.4" cy="292.7" r="4.5"/><circle cx="1399.0" cy="287.6" r="4.5"/><circle cx="1417.6" cy="272.8" r="4.5"/><circle cx="1328.6" cy="358.9" r="4.5"/><circle cx="1396.4" cy="291.3" r="4.5"/><circle cx="1385.9" cy="299.3" r="4.5"/><circle cx="1296.2" cy="384.3" r="4.5"/><circle cx="1301.3" cy="384.2" r="4.5"/><circle cx="1331.4" cy="351.8" r="4.5"/><circle cx="1378.4" cy="300.3" r="4.5"/><circle cx="1317.0" cy="361.9" r="4.5"/><circle cx="1329.7" cy="349.2" r="4.5"/><circle cx="1352.8" cy="327.7" r="4.5"/><circle cx="1301.6" cy="379.3" r="4.5"/><circle cx="1360.6" cy="329.9" r="4.5"/><circle cx="1361.7" cy="319.9" r="4.5"/><circle cx="1345.3" cy="336.9" r="4.5"/><circle cx="1384.3" cy="304.7" r="4.5"/><circle cx="1306.3" cy="379.0" r="4.5"/><circle cx="1345.0" cy="337.6" r="4.5"/><circle cx="1300.1" cy="382.7" r="4.5"/><circle cx="1312.0" cy="367.7" r="4.5"/><circle cx="1330.1" cy="354.3" r="4.5"/><circle cx="1366.2" cy="317.4" r="4.5"/><circle cx="1408.4" cy="277.6" r="4.5"/><circle cx="1308.5" cy="372.7" r="4.5"/><circle cx="1329.7" cy="357.5" r="4.5"/><circle cx="1353.8" cy="333.7" r="4.5"/><circle cx="1333.1" cy="338.8" r="4.5"/><circle cx="1386.7" cy="300.1" r="4.5"/><circle cx="1309.9" cy="370.4" r="4.5"/><circle cx="1413.2" cy="276.7" r="4.5"/><circle cx="1367.5" cy="313.8" r="4.5"/><circle cx="1372.0" cy="315.4" r="4.5"/><circle cx="1308.7" cy="369.3" r="4.5"/><circle cx="1661.3" cy="26.5" r="4.5"/><circle cx="1534.0" cy="169.7" r="4.5"/><circle cx="1492.9" cy="189.6" r="4.5"/><circle cx="1465.1" cy="228.6" r="4.5"/><circle cx="1454.5" cy="240.0" r="4.5"/><circle cx="1497.4" cy="262.5" r="4.5"/><circle cx="1433.2" cy="268.4" r="4.5"/><circle cx="1421.3" cy="265.2" r="4.5"/><circle cx="1470.4" cy="285.9" r="4.5"/><circle cx="1418.7" cy="280.6" r="4.5"/><circle cx="1410.7" cy="291.7" r="4.5"/><circle cx="1398.8" cy="301.8" r="4.5"/><circle cx="1512.3" cy="315.6" r="4.5"/><circle cx="1382.9" cy="311.6" r="4.5"/><circle cx="1377.6" cy="347.4" r="4.5"/><circle cx="1382.1" cy="356.7" r="4.5"/><circle cx="1367.0" cy="330.2" r="4.5"/><circle cx="1329.8" cy="372.6" r="4.5"/><circle cx="1405.0" cy="292.0" r="4.5"/><circle cx="1395.0" cy="286.0" r="4.5"/><circle cx="1385.0" cy="292.0" r="4.5"/><circle cx="1373.0" cy="300.0" r="4.5"/><circle cx="1360.0" cy="318.0" r="4.5"/><circle cx="1350.0" cy="323.0" r="4.5"/></g>
<line x1="1294.0" y1="385.8" x2="1662.6" y2="47.2" stroke="#5763e0" stroke-width="4.5" />
<text x="1384.8" y="37.0" font-size="33" text-anchor="middle" font-weight="normal" fill="#111" >m¹A-IP-seq</text>
<text x="1382.8" y="73.5" font-size="33" text-anchor="middle" font-weight="normal" fill="#111" >-AlkB</text>
<text x="1678.5" y="376.8" font-size="33" text-anchor="end" font-weight="normal" fill="#111" >r = 0.986</text>
<text x="1496.8" y="471.0" font-size="33" text-anchor="middle" font-weight="normal" fill="#111" >replicate 2</text>
<text transform="translate(1237.0,205.0) rotate(-90)" x="0" y="0" font-size="33" text-anchor="middle" font-weight="normal" fill="#111">replicate 3</text>
<path d="M1774.3,8 L1774.3,404.3 L2177.8,404.3" fill="none" stroke="#2b2b2b" stroke-width="2.8"/>
<line x1="1792.0" y1="404.3" x2="1792.0" y2="410.3" stroke="#333" stroke-width="2" />
<text x="1792.0" y="429.8" font-size="18" text-anchor="middle" font-weight="normal" fill="#5c5c5c" >0</text>
<line x1="1912.8" y1="404.3" x2="1912.8" y2="410.3" stroke="#333" stroke-width="2" />
<text x="1912.8" y="429.8" font-size="18" text-anchor="middle" font-weight="normal" fill="#5c5c5c" >1</text>
<line x1="2033.6" y1="404.3" x2="2033.6" y2="410.3" stroke="#333" stroke-width="2" />
<text x="2033.6" y="429.8" font-size="18" text-anchor="middle" font-weight="normal" fill="#5c5c5c" >2</text>
<line x1="2154.4" y1="404.3" x2="2154.4" y2="410.3" stroke="#333" stroke-width="2" />
<text x="2154.4" y="429.8" font-size="18" text-anchor="middle" font-weight="normal" fill="#5c5c5c" >3</text>
<line x1="1768.3" y1="385.7" x2="1774.3" y2="385.7" stroke="#333" stroke-width="2" />
<text x="1762.3" y="392.2" font-size="18" text-anchor="end" font-weight="normal" fill="#5c5c5c" >0</text>
<line x1="1768.3" y1="285.9" x2="1774.3" y2="285.9" stroke="#333" stroke-width="2" />
<text x="1762.3" y="292.4" font-size="18" text-anchor="end" font-weight="normal" fill="#5c5c5c" >1</text>
<line x1="1768.3" y1="186.1" x2="1774.3" y2="186.1" stroke="#333" stroke-width="2" />
<text x="1762.3" y="192.6" font-size="18" text-anchor="end" font-weight="normal" fill="#5c5c5c" >2</text>
<line x1="1768.3" y1="86.3" x2="1774.3" y2="86.3" stroke="#333" stroke-width="2" />
<text x="1762.3" y="92.8" font-size="18" text-anchor="end" font-weight="normal" fill="#5c5c5c" >3</text>
<g fill="#000"><circle cx="1798.3" cy="379.8" r="4.5"/><circle cx="1857.3" cy="322.0" r="4.5"/><circle cx="1844.6" cy="336.7" r="4.5"/><circle cx="1835.9" cy="338.1" r="4.5"/><circle cx="1794.8" cy="386.6" r="4.5"/><circle cx="1832.4" cy="345.8" r="4.5"/><circle cx="1881.0" cy="297.8" r="4.5"/><circle cx="1804.8" cy="375.3" r="4.5"/><circle cx="1795.2" cy="379.1" r="4.5"/><circle cx="1845.5" cy="337.2" r="4.5"/><circle cx="1824.4" cy="355.2" r="4.5"/><circle cx="1833.2" cy="344.1" r="4.5"/><circle cx="1799.2" cy="381.0" r="4.5"/><circle cx="1852.6" cy="328.6" r="4.5"/><circle cx="1803.2" cy="370.6" r="4.5"/><circle cx="1852.3" cy="323.6" r="4.5"/><circle cx="1830.8" cy="346.4" r="4.5"/><circle cx="1820.5" cy="360.3" r="4.5"/><circle cx="1884.5" cy="292.7" r="4.5"/><circle cx="1839.3" cy="336.0" r="4.5"/><circle cx="1847.9" cy="334.0" r="4.5"/><circle cx="1822.1" cy="353.0" r="4.5"/><circle cx="1848.0" cy="324.4" r="4.5"/><circle cx="1848.9" cy="333.1" r="4.5"/><circle cx="1824.4" cy="348.9" r="4.5"/><circle cx="1845.6" cy="333.2" r="4.5"/><circle cx="1879.9" cy="300.0" r="4.5"/><circle cx="1862.4" cy="318.8" r="4.5"/><circle cx="1839.6" cy="333.5" r="4.5"/><circle cx="1834.9" cy="345.0" r="4.5"/><circle cx="1897.4" cy="285.0" r="4.5"/><circle cx="1890.1" cy="289.1" r="4.5"/><circle cx="1890.5" cy="287.4" r="4.5"/><circle cx="1876.9" cy="300.1" r="4.5"/><circle cx="1882.3" cy="298.2" r="4.5"/><circle cx="1851.8" cy="324.0" r="4.5"/><circle cx="1889.7" cy="287.9" r="4.5"/><circle cx="1847.9" cy="325.8" r="4.5"/><circle cx="1803.4" cy="374.9" r="4.5"/><circle cx="1826.8" cy="349.3" r="4.5"/><circle cx="1801.7" cy="371.7" r="4.5"/><circle cx="1796.7" cy="377.9" r="4.5"/><circle cx="1794.6" cy="379.5" r="4.5"/><circle cx="1809.2" cy="364.4" r="4.5"/><circle cx="1859.9" cy="320.3" r="4.5"/><circle cx="1799.5" cy="375.6" r="4.5"/><circle cx="1808.9" cy="367.9" r="4.5"/><circle cx="1827.0" cy="352.6" r="4.5"/><circle cx="1868.9" cy="307.2" r="4.5"/><circle cx="1877.0" cy="304.8" r="4.5"/><circle cx="1847.0" cy="330.3" r="4.5"/><circle cx="1798.1" cy="376.7" r="4.5"/><circle cx="1870.2" cy="313.3" r="4.5"/><circle cx="1892.3" cy="281.9" r="4.5"/><circle cx="1887.2" cy="291.8" r="4.5"/><circle cx="1807.0" cy="369.5" r="4.5"/><circle cx="1804.1" cy="375.8" r="4.5"/><circle cx="1889.6" cy="293.6" r="4.5"/><circle cx="1853.0" cy="319.7" r="4.5"/><circle cx="1827.4" cy="351.0" r="4.5"/><circle cx="1874.8" cy="304.4" r="4.5"/><circle cx="1855.5" cy="316.0" r="4.5"/><circle cx="1877.8" cy="298.3" r="4.5"/><circle cx="1891.3" cy="286.5" r="4.5"/><circle cx="1799.5" cy="381.7" r="4.5"/><circle cx="1826.9" cy="348.8" r="4.5"/><circle cx="1879.2" cy="296.0" r="4.5"/><circle cx="1797.1" cy="380.2" r="4.5"/><circle cx="1887.5" cy="293.7" r="4.5"/><circle cx="1796.5" cy="379.1" r="4.5"/><circle cx="1792.7" cy="386.2" r="4.5"/><circle cx="1837.1" cy="341.8" r="4.5"/><circle cx="1892.2" cy="295.4" r="4.5"/><circle cx="1792.7" cy="382.7" r="4.5"/><circle cx="1862.8" cy="314.9" r="4.5"/><circle cx="1796.5" cy="385.9" r="4.5"/><circle cx="1841.6" cy="336.0" r="4.5"/><circle cx="1827.0" cy="351.3" r="4.5"/><circle cx="1876.7" cy="293.8" r="4.5"/><circle cx="1852.8" cy="320.5" r="4.5"/><circle cx="1794.3" cy="383.2" r="4.5"/><circle cx="1851.6" cy="321.3" r="4.5"/><circle cx="1846.1" cy="327.7" r="4.5"/><circle cx="1801.1" cy="374.6" r="4.5"/><circle cx="1798.8" cy="376.5" r="4.5"/><circle cx="1895.7" cy="282.0" r="4.5"/><circle cx="1792.9" cy="375.9" r="4.5"/><circle cx="1814.4" cy="365.8" r="4.5"/><circle cx="1893.8" cy="284.3" r="4.5"/><circle cx="1805.3" cy="373.8" r="4.5"/><circle cx="1795.1" cy="381.0" r="4.5"/><circle cx="1854.7" cy="325.3" r="4.5"/><circle cx="1852.1" cy="322.1" r="4.5"/><circle cx="1791.6" cy="379.5" r="4.5"/><circle cx="1897.9" cy="279.1" r="4.5"/><circle cx="1797.2" cy="386.2" r="4.5"/><circle cx="1871.6" cy="302.1" r="4.5"/><circle cx="1895.4" cy="283.6" r="4.5"/><circle cx="1796.2" cy="387.1" r="4.5"/><circle cx="1817.2" cy="358.5" r="4.5"/><circle cx="1824.7" cy="355.7" r="4.5"/><circle cx="1870.3" cy="306.7" r="4.5"/><circle cx="1895.2" cy="283.1" r="4.5"/><circle cx="1867.9" cy="307.0" r="4.5"/><circle cx="1859.8" cy="315.9" r="4.5"/><circle cx="1888.8" cy="294.8" r="4.5"/><circle cx="1876.6" cy="303.7" r="4.5"/><circle cx="1795.1" cy="383.5" r="4.5"/><circle cx="1875.4" cy="298.0" r="4.5"/><circle cx="1809.1" cy="373.6" r="4.5"/><circle cx="1859.0" cy="316.6" r="4.5"/><circle cx="1792.2" cy="385.1" r="4.5"/><circle cx="1798.6" cy="376.7" r="4.5"/><circle cx="1869.4" cy="303.4" r="4.5"/><circle cx="1873.6" cy="308.4" r="4.5"/><circle cx="1900.0" cy="288.2" r="4.5"/><circle cx="1820.4" cy="351.5" r="4.5"/><circle cx="1805.8" cy="373.5" r="4.5"/><circle cx="1839.0" cy="336.6" r="4.5"/><circle cx="1869.2" cy="305.7" r="4.5"/><circle cx="1793.3" cy="386.8" r="4.5"/><circle cx="1808.1" cy="369.5" r="4.5"/><circle cx="1794.7" cy="384.9" r="4.5"/><circle cx="1794.8" cy="382.0" r="4.5"/><circle cx="1819.2" cy="358.4" r="4.5"/><circle cx="1867.5" cy="311.9" r="4.5"/><circle cx="1795.6" cy="384.2" r="4.5"/><circle cx="1877.1" cy="300.5" r="4.5"/><circle cx="1883.0" cy="295.7" r="4.5"/><circle cx="1812.9" cy="366.9" r="4.5"/><circle cx="1875.2" cy="308.2" r="4.5"/><circle cx="1858.3" cy="319.9" r="4.5"/><circle cx="1803.8" cy="379.6" r="4.5"/><circle cx="1809.1" cy="361.6" r="4.5"/><circle cx="1875.9" cy="302.0" r="4.5"/><circle cx="1829.7" cy="347.0" r="4.5"/><circle cx="1810.2" cy="371.6" r="4.5"/><circle cx="1793.9" cy="386.0" r="4.5"/><circle cx="1832.4" cy="350.4" r="4.5"/><circle cx="1872.7" cy="299.9" r="4.5"/><circle cx="1881.7" cy="296.9" r="4.5"/><circle cx="1845.9" cy="335.1" r="4.5"/><circle cx="1835.9" cy="343.5" r="4.5"/><circle cx="1846.9" cy="328.5" r="4.5"/><circle cx="1883.3" cy="295.0" r="4.5"/><circle cx="1796.4" cy="376.6" r="4.5"/><circle cx="1815.9" cy="362.2" r="4.5"/><circle cx="1847.0" cy="329.5" r="4.5"/><circle cx="1812.7" cy="363.1" r="4.5"/><circle cx="1860.8" cy="319.6" r="4.5"/><circle cx="1895.7" cy="281.4" r="4.5"/><circle cx="1893.7" cy="282.0" r="4.5"/><circle cx="1819.6" cy="358.3" r="4.5"/><circle cx="1872.3" cy="304.0" r="4.5"/><circle cx="1809.8" cy="363.5" r="4.5"/><circle cx="1801.2" cy="378.5" r="4.5"/><circle cx="1896.2" cy="277.7" r="4.5"/><circle cx="1843.7" cy="337.4" r="4.5"/><circle cx="1861.2" cy="314.5" r="4.5"/><circle cx="1804.5" cy="372.8" r="4.5"/><circle cx="1868.1" cy="319.1" r="4.5"/><circle cx="1871.3" cy="301.6" r="4.5"/><circle cx="1830.8" cy="343.7" r="4.5"/><circle cx="1839.8" cy="333.4" r="4.5"/><circle cx="1838.9" cy="337.8" r="4.5"/><circle cx="1884.8" cy="297.7" r="4.5"/><circle cx="1839.3" cy="334.5" r="4.5"/><circle cx="1796.0" cy="374.7" r="4.5"/><circle cx="1883.7" cy="292.6" r="4.5"/><circle cx="1801.6" cy="376.0" r="4.5"/><circle cx="1856.9" cy="324.4" r="4.5"/><circle cx="1861.5" cy="315.5" r="4.5"/><circle cx="1810.8" cy="362.8" r="4.5"/><circle cx="1878.8" cy="296.2" r="4.5"/><circle cx="1891.0" cy="282.9" r="4.5"/><circle cx="1809.4" cy="363.6" r="4.5"/><circle cx="1895.8" cy="284.3" r="4.5"/><circle cx="1811.4" cy="364.3" r="4.5"/><circle cx="1830.0" cy="344.3" r="4.5"/><circle cx="1809.0" cy="362.1" r="4.5"/><circle cx="1860.4" cy="317.0" r="4.5"/><circle cx="1847.3" cy="326.1" r="4.5"/><circle cx="1802.3" cy="375.9" r="4.5"/><circle cx="1814.8" cy="355.3" r="4.5"/><circle cx="1815.7" cy="365.3" r="4.5"/><circle cx="1880.4" cy="301.8" r="4.5"/><circle cx="1835.0" cy="337.6" r="4.5"/><circle cx="1891.2" cy="293.6" r="4.5"/><circle cx="1887.9" cy="292.6" r="4.5"/><circle cx="1820.3" cy="362.0" r="4.5"/><circle cx="1793.4" cy="379.6" r="4.5"/><circle cx="1813.5" cy="365.1" r="4.5"/><circle cx="1835.3" cy="341.8" r="4.5"/><circle cx="1798.9" cy="384.4" r="4.5"/><circle cx="1861.9" cy="306.7" r="4.5"/><circle cx="1892.3" cy="290.0" r="4.5"/><circle cx="1836.4" cy="337.2" r="4.5"/><circle cx="1877.7" cy="303.7" r="4.5"/><circle cx="1898.8" cy="281.3" r="4.5"/><circle cx="1861.1" cy="315.5" r="4.5"/><circle cx="1888.2" cy="287.0" r="4.5"/><circle cx="1825.1" cy="354.3" r="4.5"/><circle cx="1795.2" cy="379.4" r="4.5"/><circle cx="1797.1" cy="381.7" r="4.5"/><circle cx="1793.1" cy="379.8" r="4.5"/><circle cx="1868.7" cy="311.0" r="4.5"/><circle cx="1796.3" cy="386.1" r="4.5"/><circle cx="1864.5" cy="312.8" r="4.5"/><circle cx="1803.6" cy="379.6" r="4.5"/><circle cx="1885.7" cy="292.0" r="4.5"/><circle cx="1797.7" cy="385.3" r="4.5"/><circle cx="1846.3" cy="335.3" r="4.5"/><circle cx="1867.4" cy="311.9" r="4.5"/><circle cx="1790.9" cy="382.7" r="4.5"/><circle cx="1801.9" cy="379.1" r="4.5"/><circle cx="1890.3" cy="288.1" r="4.5"/><circle cx="1857.8" cy="319.2" r="4.5"/><circle cx="1794.3" cy="383.1" r="4.5"/><circle cx="1792.5" cy="385.5" r="4.5"/><circle cx="1861.9" cy="320.1" r="4.5"/><circle cx="1857.8" cy="323.5" r="4.5"/><circle cx="1856.3" cy="319.8" r="4.5"/><circle cx="1839.0" cy="334.9" r="4.5"/><circle cx="1880.1" cy="300.9" r="4.5"/><circle cx="1873.5" cy="308.1" r="4.5"/><circle cx="1875.5" cy="302.8" r="4.5"/><circle cx="1791.0" cy="383.8" r="4.5"/><circle cx="1839.9" cy="339.3" r="4.5"/><circle cx="1835.0" cy="347.0" r="4.5"/><circle cx="1852.7" cy="332.2" r="4.5"/><circle cx="1800.1" cy="378.5" r="4.5"/><circle cx="1816.5" cy="359.4" r="4.5"/><circle cx="1861.9" cy="319.0" r="4.5"/><circle cx="1880.4" cy="302.1" r="4.5"/><circle cx="1899.5" cy="279.4" r="4.5"/><circle cx="1844.8" cy="327.1" r="4.5"/><circle cx="1790.6" cy="382.6" r="4.5"/><circle cx="1851.0" cy="326.2" r="4.5"/><circle cx="1793.8" cy="378.8" r="4.5"/><circle cx="1894.0" cy="283.4" r="4.5"/><circle cx="1858.3" cy="319.2" r="4.5"/><circle cx="1840.7" cy="340.6" r="4.5"/><circle cx="1850.8" cy="319.1" r="4.5"/><circle cx="1824.9" cy="354.2" r="4.5"/><circle cx="1883.9" cy="302.9" r="4.5"/><circle cx="1814.9" cy="361.5" r="4.5"/><circle cx="1818.6" cy="360.9" r="4.5"/><circle cx="1898.8" cy="280.3" r="4.5"/><circle cx="1836.6" cy="344.4" r="4.5"/><circle cx="1823.2" cy="355.0" r="4.5"/><circle cx="1826.5" cy="354.9" r="4.5"/><circle cx="1818.4" cy="353.7" r="4.5"/><circle cx="1806.5" cy="374.7" r="4.5"/><circle cx="1816.1" cy="356.0" r="4.5"/><circle cx="1843.6" cy="337.4" r="4.5"/><circle cx="1844.8" cy="331.4" r="4.5"/><circle cx="1859.0" cy="314.4" r="4.5"/><circle cx="1824.7" cy="355.6" r="4.5"/><circle cx="1840.6" cy="334.8" r="4.5"/><circle cx="1802.2" cy="373.8" r="4.5"/><circle cx="1865.7" cy="313.5" r="4.5"/><circle cx="1832.5" cy="344.7" r="4.5"/><circle cx="1805.1" cy="368.7" r="4.5"/><circle cx="1796.9" cy="376.6" r="4.5"/><circle cx="1794.0" cy="382.5" r="4.5"/><circle cx="1847.7" cy="326.9" r="4.5"/><circle cx="1803.6" cy="373.4" r="4.5"/><circle cx="1840.7" cy="338.6" r="4.5"/><circle cx="1836.5" cy="337.2" r="4.5"/><circle cx="1900.8" cy="280.6" r="4.5"/><circle cx="1854.7" cy="320.6" r="4.5"/><circle cx="1836.7" cy="337.9" r="4.5"/><circle cx="1847.7" cy="332.7" r="4.5"/><circle cx="1832.5" cy="348.1" r="4.5"/><circle cx="1799.7" cy="379.4" r="4.5"/><circle cx="1802.0" cy="386.4" r="4.5"/><circle cx="1826.3" cy="341.9" r="4.5"/><circle cx="1832.6" cy="350.6" r="4.5"/><circle cx="1813.2" cy="361.6" r="4.5"/><circle cx="1818.9" cy="360.4" r="4.5"/><circle cx="1825.3" cy="347.7" r="4.5"/><circle cx="1840.6" cy="333.8" r="4.5"/><circle cx="1845.5" cy="333.3" r="4.5"/><circle cx="1898.7" cy="280.4" r="4.5"/><circle cx="1874.2" cy="311.0" r="4.5"/><circle cx="1801.9" cy="376.9" r="4.5"/><circle cx="1815.5" cy="363.8" r="4.5"/><circle cx="1795.5" cy="379.3" r="4.5"/><circle cx="1882.2" cy="304.3" r="4.5"/><circle cx="1819.7" cy="351.6" r="4.5"/><circle cx="1845.3" cy="335.4" r="4.5"/><circle cx="1869.3" cy="308.7" r="4.5"/><circle cx="1844.6" cy="333.5" r="4.5"/><circle cx="1850.2" cy="331.6" r="4.5"/><circle cx="1857.5" cy="315.2" r="4.5"/><circle cx="1794.5" cy="382.3" r="4.5"/><circle cx="1816.0" cy="360.5" r="4.5"/><circle cx="1793.8" cy="379.5" r="4.5"/><circle cx="1857.1" cy="320.7" r="4.5"/><circle cx="1798.1" cy="376.0" r="4.5"/><circle cx="1873.5" cy="305.2" r="4.5"/><circle cx="1805.0" cy="368.5" r="4.5"/><circle cx="1876.5" cy="304.8" r="4.5"/><circle cx="1824.2" cy="354.2" r="4.5"/><circle cx="1790.9" cy="380.9" r="4.5"/><circle cx="1836.0" cy="339.9" r="4.5"/><circle cx="1863.0" cy="314.8" r="4.5"/><circle cx="1874.3" cy="299.2" r="4.5"/><circle cx="1791.3" cy="384.9" r="4.5"/><circle cx="1792.8" cy="385.5" r="4.5"/><circle cx="1830.3" cy="349.7" r="4.5"/><circle cx="1845.2" cy="330.0" r="4.5"/><circle cx="1792.3" cy="385.6" r="4.5"/><circle cx="1891.4" cy="288.5" r="4.5"/><circle cx="1826.1" cy="350.0" r="4.5"/><circle cx="1817.9" cy="354.7" r="4.5"/><circle cx="1793.2" cy="382.8" r="4.5"/><circle cx="1877.2" cy="305.0" r="4.5"/><circle cx="1860.9" cy="312.9" r="4.5"/><circle cx="1812.7" cy="372.0" r="4.5"/><circle cx="2138.6" cy="71.0" r="4.5"/><circle cx="2160.6" cy="71.0" r="4.5"/><circle cx="1981.6" cy="194.9" r="4.5"/><circle cx="1973.1" cy="214.2" r="4.5"/><circle cx="1915.9" cy="247.9" r="4.5"/><circle cx="1915.9" cy="257.2" r="4.5"/><circle cx="1918.5" cy="277.8" r="4.5"/><circle cx="1906.1" cy="281.0" r="4.5"/><circle cx="1909.5" cy="298.2" r="4.5"/><circle cx="1871.6" cy="323.4" r="4.5"/><circle cx="1878.8" cy="324.0" r="4.5"/><circle cx="1865.0" cy="300.9" r="4.5"/><circle cx="1888.8" cy="279.7" r="4.5"/><circle cx="1895.5" cy="279.7" r="4.5"/><circle cx="1880.9" cy="289.0" r="4.5"/><circle cx="1812.0" cy="376.5" r="4.5"/><circle cx="1870.0" cy="305.0" r="4.5"/><circle cx="1858.0" cy="312.0" r="4.5"/></g>
<line x1="1792.0" y1="385.7" x2="2159.8" y2="26.5" stroke="#5763e0" stroke-width="4.5" />
<text x="1889.5" y="37.0" font-size="33" text-anchor="middle" font-weight="normal" fill="#111" >m¹A-IP-seq</text>
<text x="1890.5" y="73.5" font-size="33" text-anchor="middle" font-weight="normal" fill="#111" >-AlkB</text>
<text x="2146.0" y="376.5" font-size="33" text-anchor="end" font-weight="normal" fill="#111" >r = 0.996</text>
<text x="2016.7" y="471.0" font-size="33" text-anchor="middle" font-weight="normal" fill="#111" >replicate 1</text>
<text transform="translate(1735.0,204.0) rotate(-90)" x="0" y="0" font-size="33" text-anchor="middle" font-weight="normal" fill="#111">replicate 3</text>
<path d="M782.9,495.5 L782.9,890.7 L1185.5,890.7" fill="none" stroke="#2b2b2b" stroke-width="2.8"/>
<line x1="799.8" y1="890.7" x2="799.8" y2="896.7" stroke="#333" stroke-width="2" />
<text x="799.8" y="916.2" font-size="18" text-anchor="middle" font-weight="normal" fill="#5c5c5c" >0</text>
<line x1="875.9" y1="890.7" x2="875.9" y2="896.7" stroke="#333" stroke-width="2" />
<text x="875.9" y="916.2" font-size="18" text-anchor="middle" font-weight="normal" fill="#5c5c5c" >1</text>
<line x1="952.1" y1="890.7" x2="952.1" y2="896.7" stroke="#333" stroke-width="2" />
<text x="952.1" y="916.2" font-size="18" text-anchor="middle" font-weight="normal" fill="#5c5c5c" >2</text>
<line x1="1028.2" y1="890.7" x2="1028.2" y2="896.7" stroke="#333" stroke-width="2" />
<text x="1028.2" y="916.2" font-size="18" text-anchor="middle" font-weight="normal" fill="#5c5c5c" >3</text>
<line x1="1104.4" y1="890.7" x2="1104.4" y2="896.7" stroke="#333" stroke-width="2" />
<text x="1104.4" y="916.2" font-size="18" text-anchor="middle" font-weight="normal" fill="#5c5c5c" >4</text>
<line x1="1180.5" y1="890.7" x2="1180.5" y2="896.7" stroke="#333" stroke-width="2" />
<text x="1180.5" y="916.2" font-size="18" text-anchor="middle" font-weight="normal" fill="#5c5c5c" >5</text>
<line x1="776.9" y1="872.5" x2="782.9" y2="872.5" stroke="#333" stroke-width="2" />
<text x="770.9" y="879.0" font-size="18" text-anchor="end" font-weight="normal" fill="#5c5c5c" >0</text>
<line x1="776.9" y1="802.4" x2="782.9" y2="802.4" stroke="#333" stroke-width="2" />
<text x="770.9" y="808.9" font-size="18" text-anchor="end" font-weight="normal" fill="#5c5c5c" >1</text>
<line x1="776.9" y1="732.4" x2="782.9" y2="732.4" stroke="#333" stroke-width="2" />
<text x="770.9" y="738.9" font-size="18" text-anchor="end" font-weight="normal" fill="#5c5c5c" >2</text>
<line x1="776.9" y1="662.3" x2="782.9" y2="662.3" stroke="#333" stroke-width="2" />
<text x="770.9" y="668.8" font-size="18" text-anchor="end" font-weight="normal" fill="#5c5c5c" >3</text>
<line x1="776.9" y1="592.3" x2="782.9" y2="592.3" stroke="#333" stroke-width="2" />
<text x="770.9" y="598.8" font-size="18" text-anchor="end" font-weight="normal" fill="#5c5c5c" >4</text>
<line x1="776.9" y1="522.2" x2="782.9" y2="522.2" stroke="#333" stroke-width="2" />
<text x="770.9" y="528.7" font-size="18" text-anchor="end" font-weight="normal" fill="#5c5c5c" >5</text>
<g fill="#000"><circle cx="914.5" cy="768.8" r="4.5"/><circle cx="871.6" cy="802.2" r="4.5"/><circle cx="809.4" cy="859.6" r="4.5"/><circle cx="804.0" cy="867.1" r="4.5"/><circle cx="824.3" cy="843.6" r="4.5"/><circle cx="807.9" cy="871.5" r="4.5"/><circle cx="802.5" cy="869.9" r="4.5"/><circle cx="798.4" cy="868.8" r="4.5"/><circle cx="804.7" cy="867.1" r="4.5"/><circle cx="842.9" cy="830.2" r="4.5"/><circle cx="870.3" cy="801.4" r="4.5"/><circle cx="873.9" cy="808.1" r="4.5"/><circle cx="848.2" cy="823.1" r="4.5"/><circle cx="886.5" cy="789.6" r="4.5"/><circle cx="849.0" cy="822.0" r="4.5"/><circle cx="907.4" cy="772.7" r="4.5"/><circle cx="816.5" cy="860.9" r="4.5"/><circle cx="816.2" cy="855.3" r="4.5"/><circle cx="889.9" cy="774.2" r="4.5"/><circle cx="900.5" cy="782.5" r="4.5"/><circle cx="819.5" cy="855.9" r="4.5"/><circle cx="837.4" cy="834.7" r="4.5"/><circle cx="813.3" cy="857.3" r="4.5"/><circle cx="803.3" cy="868.9" r="4.5"/><circle cx="884.8" cy="792.2" r="4.5"/><circle cx="865.4" cy="806.1" r="4.5"/><circle cx="912.8" cy="761.4" r="4.5"/><circle cx="915.9" cy="767.6" r="4.5"/><circle cx="870.1" cy="808.3" r="4.5"/><circle cx="821.2" cy="858.4" r="4.5"/><circle cx="829.6" cy="846.6" r="4.5"/><circle cx="888.5" cy="794.2" r="4.5"/><circle cx="801.2" cy="870.2" r="4.5"/><circle cx="831.5" cy="837.2" r="4.5"/><circle cx="892.9" cy="781.7" r="4.5"/><circle cx="849.0" cy="831.4" r="4.5"/><circle cx="814.2" cy="862.2" r="4.5"/><circle cx="830.6" cy="849.3" r="4.5"/><circle cx="828.7" cy="848.6" r="4.5"/><circle cx="839.5" cy="837.9" r="4.5"/><circle cx="861.7" cy="809.0" r="4.5"/><circle cx="823.6" cy="854.0" r="4.5"/><circle cx="849.1" cy="833.4" r="4.5"/><circle cx="913.2" cy="767.0" r="4.5"/><circle cx="805.0" cy="860.1" r="4.5"/><circle cx="825.3" cy="848.6" r="4.5"/><circle cx="856.1" cy="820.2" r="4.5"/><circle cx="890.5" cy="779.7" r="4.5"/><circle cx="824.8" cy="851.8" r="4.5"/><circle cx="822.9" cy="852.5" r="4.5"/><circle cx="801.6" cy="873.3" r="4.5"/><circle cx="896.0" cy="782.1" r="4.5"/><circle cx="833.5" cy="842.9" r="4.5"/><circle cx="817.1" cy="854.7" r="4.5"/><circle cx="872.2" cy="805.9" r="4.5"/><circle cx="874.5" cy="802.6" r="4.5"/><circle cx="842.1" cy="829.9" r="4.5"/><circle cx="830.9" cy="846.7" r="4.5"/><circle cx="882.5" cy="795.5" r="4.5"/><circle cx="829.3" cy="840.5" r="4.5"/><circle cx="894.6" cy="776.3" r="4.5"/><circle cx="868.8" cy="814.9" r="4.5"/><circle cx="904.9" cy="774.1" r="4.5"/><circle cx="801.0" cy="873.5" r="4.5"/><circle cx="822.5" cy="851.8" r="4.5"/><circle cx="817.1" cy="863.1" r="4.5"/><circle cx="891.1" cy="783.6" r="4.5"/><circle cx="807.9" cy="850.4" r="4.5"/><circle cx="879.0" cy="795.7" r="4.5"/><circle cx="846.7" cy="827.3" r="4.5"/><circle cx="903.3" cy="772.4" r="4.5"/><circle cx="842.2" cy="828.0" r="4.5"/><circle cx="877.7" cy="803.7" r="4.5"/><circle cx="883.1" cy="792.9" r="4.5"/><circle cx="831.6" cy="839.8" r="4.5"/><circle cx="876.4" cy="797.4" r="4.5"/><circle cx="854.3" cy="827.6" r="4.5"/><circle cx="837.1" cy="835.5" r="4.5"/><circle cx="858.0" cy="811.5" r="4.5"/><circle cx="843.5" cy="833.1" r="4.5"/><circle cx="911.1" cy="777.2" r="4.5"/><circle cx="805.2" cy="870.0" r="4.5"/><circle cx="863.2" cy="806.6" r="4.5"/><circle cx="815.7" cy="854.2" r="4.5"/><circle cx="878.0" cy="799.8" r="4.5"/><circle cx="801.9" cy="872.0" r="4.5"/><circle cx="880.5" cy="794.5" r="4.5"/><circle cx="840.9" cy="828.5" r="4.5"/><circle cx="822.5" cy="853.5" r="4.5"/><circle cx="825.8" cy="850.5" r="4.5"/><circle cx="803.6" cy="868.3" r="4.5"/><circle cx="861.3" cy="815.9" r="4.5"/><circle cx="866.7" cy="804.6" r="4.5"/><circle cx="818.6" cy="859.0" r="4.5"/><circle cx="820.9" cy="852.0" r="4.5"/><circle cx="861.0" cy="811.0" r="4.5"/><circle cx="803.4" cy="867.9" r="4.5"/><circle cx="864.8" cy="813.9" r="4.5"/><circle cx="833.7" cy="830.6" r="4.5"/><circle cx="865.9" cy="817.3" r="4.5"/><circle cx="868.1" cy="808.6" r="4.5"/><circle cx="858.0" cy="815.0" r="4.5"/><circle cx="874.7" cy="800.6" r="4.5"/><circle cx="827.8" cy="840.8" r="4.5"/><circle cx="886.4" cy="790.6" r="4.5"/><circle cx="871.1" cy="798.6" r="4.5"/><circle cx="905.0" cy="773.0" r="4.5"/><circle cx="832.4" cy="842.4" r="4.5"/><circle cx="814.0" cy="858.1" r="4.5"/><circle cx="897.5" cy="779.5" r="4.5"/><circle cx="801.6" cy="873.2" r="4.5"/><circle cx="838.1" cy="840.4" r="4.5"/><circle cx="801.4" cy="873.5" r="4.5"/><circle cx="813.4" cy="855.9" r="4.5"/><circle cx="887.5" cy="793.3" r="4.5"/><circle cx="817.2" cy="858.4" r="4.5"/><circle cx="820.7" cy="856.0" r="4.5"/><circle cx="907.0" cy="768.8" r="4.5"/><circle cx="810.4" cy="860.2" r="4.5"/><circle cx="894.1" cy="784.4" r="4.5"/><circle cx="892.8" cy="788.6" r="4.5"/><circle cx="833.5" cy="834.9" r="4.5"/><circle cx="821.1" cy="856.9" r="4.5"/><circle cx="815.8" cy="862.7" r="4.5"/><circle cx="881.3" cy="795.7" r="4.5"/><circle cx="860.9" cy="814.8" r="4.5"/><circle cx="818.8" cy="861.1" r="4.5"/><circle cx="870.9" cy="798.8" r="4.5"/><circle cx="869.4" cy="806.9" r="4.5"/><circle cx="811.7" cy="858.9" r="4.5"/><circle cx="851.2" cy="820.8" r="4.5"/><circle cx="874.0" cy="806.9" r="4.5"/><circle cx="803.1" cy="869.9" r="4.5"/><circle cx="800.4" cy="870.7" r="4.5"/><circle cx="812.9" cy="858.6" r="4.5"/><circle cx="807.7" cy="868.2" r="4.5"/><circle cx="884.4" cy="788.4" r="4.5"/><circle cx="900.5" cy="769.1" r="4.5"/><circle cx="800.8" cy="873.2" r="4.5"/><circle cx="810.5" cy="857.0" r="4.5"/><circle cx="891.4" cy="784.9" r="4.5"/><circle cx="810.6" cy="863.2" r="4.5"/><circle cx="843.0" cy="830.0" r="4.5"/><circle cx="826.9" cy="849.8" r="4.5"/><circle cx="800.8" cy="872.5" r="4.5"/><circle cx="825.2" cy="843.7" r="4.5"/><circle cx="851.3" cy="826.6" r="4.5"/><circle cx="804.1" cy="873.3" r="4.5"/><circle cx="856.9" cy="816.7" r="4.5"/><circle cx="829.2" cy="844.2" r="4.5"/><circle cx="873.2" cy="805.7" r="4.5"/><circle cx="799.7" cy="870.9" r="4.5"/><circle cx="891.1" cy="786.0" r="4.5"/><circle cx="906.9" cy="767.1" r="4.5"/><circle cx="847.3" cy="817.1" r="4.5"/><circle cx="845.8" cy="822.4" r="4.5"/><circle cx="821.2" cy="857.1" r="4.5"/><circle cx="850.8" cy="824.5" r="4.5"/><circle cx="833.3" cy="846.1" r="4.5"/><circle cx="817.4" cy="852.0" r="4.5"/><circle cx="887.1" cy="789.2" r="4.5"/><circle cx="812.4" cy="871.6" r="4.5"/><circle cx="892.2" cy="784.7" r="4.5"/><circle cx="901.3" cy="777.8" r="4.5"/><circle cx="840.6" cy="833.0" r="4.5"/><circle cx="913.4" cy="760.9" r="4.5"/><circle cx="882.2" cy="792.8" r="4.5"/><circle cx="798.8" cy="867.9" r="4.5"/><circle cx="895.9" cy="786.0" r="4.5"/><circle cx="899.9" cy="777.5" r="4.5"/><circle cx="840.6" cy="842.2" r="4.5"/><circle cx="906.7" cy="776.1" r="4.5"/><circle cx="873.5" cy="799.4" r="4.5"/><circle cx="828.5" cy="843.2" r="4.5"/><circle cx="810.8" cy="869.2" r="4.5"/><circle cx="854.8" cy="826.0" r="4.5"/><circle cx="800.8" cy="872.4" r="4.5"/><circle cx="870.3" cy="810.7" r="4.5"/><circle cx="812.0" cy="857.9" r="4.5"/><circle cx="803.8" cy="873.7" r="4.5"/><circle cx="883.2" cy="801.1" r="4.5"/><circle cx="809.2" cy="867.0" r="4.5"/><circle cx="808.0" cy="871.0" r="4.5"/><circle cx="875.3" cy="796.9" r="4.5"/><circle cx="804.0" cy="873.0" r="4.5"/><circle cx="845.5" cy="831.7" r="4.5"/><circle cx="802.4" cy="868.2" r="4.5"/><circle cx="820.7" cy="848.5" r="4.5"/><circle cx="912.7" cy="768.0" r="4.5"/><circle cx="809.8" cy="864.3" r="4.5"/><circle cx="845.8" cy="832.4" r="4.5"/><circle cx="909.7" cy="767.2" r="4.5"/><circle cx="841.5" cy="832.4" r="4.5"/><circle cx="890.4" cy="792.0" r="4.5"/><circle cx="801.5" cy="866.7" r="4.5"/><circle cx="808.8" cy="866.5" r="4.5"/><circle cx="850.9" cy="820.1" r="4.5"/><circle cx="803.2" cy="869.0" r="4.5"/><circle cx="805.5" cy="873.4" r="4.5"/><circle cx="872.7" cy="796.3" r="4.5"/><circle cx="857.4" cy="820.7" r="4.5"/><circle cx="852.8" cy="820.2" r="4.5"/><circle cx="843.7" cy="831.8" r="4.5"/><circle cx="842.2" cy="824.1" r="4.5"/><circle cx="864.2" cy="810.5" r="4.5"/><circle cx="822.5" cy="850.5" r="4.5"/><circle cx="873.6" cy="806.7" r="4.5"/><circle cx="845.5" cy="826.3" r="4.5"/><circle cx="805.5" cy="872.2" r="4.5"/><circle cx="876.4" cy="798.8" r="4.5"/><circle cx="900.8" cy="770.2" r="4.5"/><circle cx="867.3" cy="801.0" r="4.5"/><circle cx="907.4" cy="765.9" r="4.5"/><circle cx="836.8" cy="838.1" r="4.5"/><circle cx="842.5" cy="827.7" r="4.5"/><circle cx="799.9" cy="870.3" r="4.5"/><circle cx="831.9" cy="847.6" r="4.5"/><circle cx="882.5" cy="789.4" r="4.5"/><circle cx="887.6" cy="780.7" r="4.5"/><circle cx="836.2" cy="835.1" r="4.5"/><circle cx="802.9" cy="867.9" r="4.5"/><circle cx="845.3" cy="826.4" r="4.5"/><circle cx="828.5" cy="842.1" r="4.5"/><circle cx="823.7" cy="855.1" r="4.5"/><circle cx="896.5" cy="782.4" r="4.5"/><circle cx="837.6" cy="843.1" r="4.5"/><circle cx="809.6" cy="867.4" r="4.5"/><circle cx="844.5" cy="828.4" r="4.5"/><circle cx="839.8" cy="830.6" r="4.5"/><circle cx="897.4" cy="775.5" r="4.5"/><circle cx="891.1" cy="785.9" r="4.5"/><circle cx="826.5" cy="847.9" r="4.5"/><circle cx="816.7" cy="851.8" r="4.5"/><circle cx="905.3" cy="770.5" r="4.5"/><circle cx="912.5" cy="764.9" r="4.5"/><circle cx="894.3" cy="778.0" r="4.5"/><circle cx="845.8" cy="824.5" r="4.5"/><circle cx="807.8" cy="866.3" r="4.5"/><circle cx="824.0" cy="851.0" r="4.5"/><circle cx="841.1" cy="832.4" r="4.5"/><circle cx="820.2" cy="858.1" r="4.5"/><circle cx="839.3" cy="839.6" r="4.5"/><circle cx="804.4" cy="870.4" r="4.5"/><circle cx="888.1" cy="787.3" r="4.5"/><circle cx="810.8" cy="860.6" r="4.5"/><circle cx="906.2" cy="765.2" r="4.5"/><circle cx="848.6" cy="823.7" r="4.5"/><circle cx="812.6" cy="860.9" r="4.5"/><circle cx="806.2" cy="870.3" r="4.5"/><circle cx="801.4" cy="873.1" r="4.5"/><circle cx="856.3" cy="820.2" r="4.5"/><circle cx="856.9" cy="809.6" r="4.5"/><circle cx="803.0" cy="864.2" r="4.5"/><circle cx="821.4" cy="851.9" r="4.5"/><circle cx="880.6" cy="798.4" r="4.5"/><circle cx="866.8" cy="808.5" r="4.5"/><circle cx="819.0" cy="859.3" r="4.5"/><circle cx="837.7" cy="837.7" r="4.5"/><circle cx="804.0" cy="870.4" r="4.5"/><circle cx="813.4" cy="854.0" r="4.5"/><circle cx="909.0" cy="765.4" r="4.5"/><circle cx="843.9" cy="833.2" r="4.5"/><circle cx="892.2" cy="780.2" r="4.5"/><circle cx="873.6" cy="807.7" r="4.5"/><circle cx="901.4" cy="777.2" r="4.5"/><circle cx="855.2" cy="817.9" r="4.5"/><circle cx="798.7" cy="867.8" r="4.5"/><circle cx="826.5" cy="845.8" r="4.5"/><circle cx="849.7" cy="823.9" r="4.5"/><circle cx="895.6" cy="783.5" r="4.5"/><circle cx="911.3" cy="760.1" r="4.5"/><circle cx="852.0" cy="828.6" r="4.5"/><circle cx="834.2" cy="838.2" r="4.5"/><circle cx="810.9" cy="859.6" r="4.5"/><circle cx="820.4" cy="844.1" r="4.5"/><circle cx="829.2" cy="840.7" r="4.5"/><circle cx="802.1" cy="868.5" r="4.5"/><circle cx="801.4" cy="869.1" r="4.5"/><circle cx="864.5" cy="813.0" r="4.5"/><circle cx="820.4" cy="848.3" r="4.5"/><circle cx="826.5" cy="844.6" r="4.5"/><circle cx="901.8" cy="777.8" r="4.5"/><circle cx="864.1" cy="811.5" r="4.5"/><circle cx="851.9" cy="830.0" r="4.5"/><circle cx="820.8" cy="853.9" r="4.5"/><circle cx="815.1" cy="860.1" r="4.5"/><circle cx="882.8" cy="792.7" r="4.5"/><circle cx="880.0" cy="796.6" r="4.5"/><circle cx="833.9" cy="838.5" r="4.5"/><circle cx="846.0" cy="819.9" r="4.5"/><circle cx="813.9" cy="858.8" r="4.5"/><circle cx="868.8" cy="807.6" r="4.5"/><circle cx="871.5" cy="804.5" r="4.5"/><circle cx="821.7" cy="857.4" r="4.5"/><circle cx="812.1" cy="861.6" r="4.5"/><circle cx="803.5" cy="873.4" r="4.5"/><circle cx="884.1" cy="798.3" r="4.5"/><circle cx="839.2" cy="837.9" r="4.5"/><circle cx="883.7" cy="797.5" r="4.5"/><circle cx="815.7" cy="856.9" r="4.5"/><circle cx="811.8" cy="854.4" r="4.5"/><circle cx="802.4" cy="872.4" r="4.5"/><circle cx="891.6" cy="782.9" r="4.5"/><circle cx="905.5" cy="771.2" r="4.5"/><circle cx="816.7" cy="855.2" r="4.5"/><circle cx="802.3" cy="868.9" r="4.5"/><circle cx="798.9" cy="871.5" r="4.5"/><circle cx="800.2" cy="869.2" r="4.5"/><circle cx="874.8" cy="798.0" r="4.5"/><circle cx="808.3" cy="865.6" r="4.5"/><circle cx="802.6" cy="866.2" r="4.5"/><circle cx="802.6" cy="871.2" r="4.5"/><circle cx="801.1" cy="864.7" r="4.5"/><circle cx="807.7" cy="866.1" r="4.5"/><circle cx="830.4" cy="843.8" r="4.5"/><circle cx="826.6" cy="850.2" r="4.5"/><circle cx="888.3" cy="789.4" r="4.5"/><circle cx="844.3" cy="832.3" r="4.5"/><circle cx="889.5" cy="789.9" r="4.5"/><circle cx="812.1" cy="862.8" r="4.5"/><circle cx="1158.8" cy="536.3" r="4.5"/><circle cx="1168.6" cy="529.2" r="4.5"/><circle cx="885.9" cy="686.8" r="4.5"/><circle cx="987.2" cy="700.8" r="4.5"/><circle cx="985.5" cy="720.0" r="4.5"/><circle cx="935.7" cy="712.1" r="4.5"/><circle cx="924.5" cy="727.0" r="4.5"/><circle cx="930.6" cy="743.9" r="4.5"/><circle cx="917.4" cy="750.6" r="4.5"/><circle cx="823.2" cy="805.0" r="4.5"/><circle cx="831.6" cy="797.3" r="4.5"/><circle cx="813.3" cy="839.5" r="4.5"/><circle cx="849.0" cy="844.3" r="4.5"/><circle cx="913.2" cy="782.4" r="4.5"/><circle cx="902.0" cy="769.8" r="4.5"/><circle cx="900.5" cy="784.4" r="4.5"/><circle cx="887.3" cy="799.3" r="4.5"/><circle cx="874.4" cy="809.2" r="4.5"/></g>
<line x1="799.8" y1="872.5" x2="1168.6" y2="513.8" stroke="#5763e0" stroke-width="4.5" />
<text x="906.0" y="525.0" font-size="33" text-anchor="middle" font-weight="normal" fill="#111" >m¹A-quant-seq</text>
<text x="909.0" y="561.5" font-size="33" text-anchor="middle" font-weight="normal" fill="#111" >-AlkB</text>
<text x="1197.0" y="868.2" font-size="33" text-anchor="end" font-weight="normal" fill="#111" >r = 0.983</text>
<text x="975.8" y="951.5" font-size="33" text-anchor="middle" font-weight="normal" fill="#111" >replicate 1</text>
<text x="974.4" y="988.5" font-size="33" text-anchor="middle" font-weight="normal" fill="#111" >Sequencing depth&#160;&#160;(x10⁵)</text>
<text transform="translate(702.5,700.5) rotate(-90)" x="0" y="0" font-size="33" text-anchor="middle" font-weight="normal" fill="#111">Sequencing depth&#160;&#160;(x10⁵)</text>
<text transform="translate(738.5,704.0) rotate(-90)" x="0" y="0" font-size="33" text-anchor="middle" font-weight="normal" fill="#111">replicate 2</text>
<path d="M1277.9,496.9 L1277.9,891.4 L1681.4,891.4" fill="none" stroke="#2b2b2b" stroke-width="2.8"/>
<line x1="1295.4" y1="891.4" x2="1295.4" y2="897.4" stroke="#333" stroke-width="2" />
<text x="1295.4" y="916.9" font-size="18" text-anchor="middle" font-weight="normal" fill="#5c5c5c" >0</text>
<line x1="1370.4" y1="891.4" x2="1370.4" y2="897.4" stroke="#333" stroke-width="2" />
<text x="1370.4" y="916.9" font-size="18" text-anchor="middle" font-weight="normal" fill="#5c5c5c" >1</text>
<line x1="1445.3" y1="891.4" x2="1445.3" y2="897.4" stroke="#333" stroke-width="2" />
<text x="1445.3" y="916.9" font-size="18" text-anchor="middle" font-weight="normal" fill="#5c5c5c" >2</text>
<line x1="1520.3" y1="891.4" x2="1520.3" y2="897.4" stroke="#333" stroke-width="2" />
<text x="1520.3" y="916.9" font-size="18" text-anchor="middle" font-weight="normal" fill="#5c5c5c" >3</text>
<line x1="1595.2" y1="891.4" x2="1595.2" y2="897.4" stroke="#333" stroke-width="2" />
<text x="1595.2" y="916.9" font-size="18" text-anchor="middle" font-weight="normal" fill="#5c5c5c" >4</text>
<line x1="1670.2" y1="891.4" x2="1670.2" y2="897.4" stroke="#333" stroke-width="2" />
<text x="1670.2" y="916.9" font-size="18" text-anchor="middle" font-weight="normal" fill="#5c5c5c" >5</text>
<line x1="1271.9" y1="873.4" x2="1277.9" y2="873.4" stroke="#333" stroke-width="2" />
<text x="1265.9" y="879.9" font-size="18" text-anchor="end" font-weight="normal" fill="#5c5c5c" >0</text>
<line x1="1271.9" y1="751.2" x2="1277.9" y2="751.2" stroke="#333" stroke-width="2" />
<text x="1265.9" y="757.7" font-size="18" text-anchor="end" font-weight="normal" fill="#5c5c5c" >2</text>
<line x1="1271.9" y1="629.0" x2="1277.9" y2="629.0" stroke="#333" stroke-width="2" />
<text x="1265.9" y="635.5" font-size="18" text-anchor="end" font-weight="normal" fill="#5c5c5c" >4</text>
<line x1="1271.9" y1="506.8" x2="1277.9" y2="506.8" stroke="#333" stroke-width="2" />
<text x="1265.9" y="513.3" font-size="18" text-anchor="end" font-weight="normal" fill="#5c5c5c" >6</text>
<g fill="#000"><circle cx="1397.0" cy="772.2" r="4.5"/><circle cx="1309.5" cy="864.2" r="4.5"/><circle cx="1317.1" cy="854.1" r="4.5"/><circle cx="1298.8" cy="873.8" r="4.5"/><circle cx="1296.6" cy="865.7" r="4.5"/><circle cx="1355.1" cy="818.8" r="4.5"/><circle cx="1381.3" cy="786.7" r="4.5"/><circle cx="1345.5" cy="828.0" r="4.5"/><circle cx="1348.4" cy="820.7" r="4.5"/><circle cx="1352.0" cy="822.7" r="4.5"/><circle cx="1337.6" cy="830.9" r="4.5"/><circle cx="1308.9" cy="858.5" r="4.5"/><circle cx="1296.8" cy="867.9" r="4.5"/><circle cx="1345.2" cy="823.6" r="4.5"/><circle cx="1312.6" cy="863.4" r="4.5"/><circle cx="1323.4" cy="843.7" r="4.5"/><circle cx="1404.9" cy="770.2" r="4.5"/><circle cx="1305.0" cy="863.7" r="4.5"/><circle cx="1355.9" cy="816.4" r="4.5"/><circle cx="1377.5" cy="799.8" r="4.5"/><circle cx="1392.4" cy="782.2" r="4.5"/><circle cx="1404.0" cy="767.6" r="4.5"/><circle cx="1294.3" cy="870.5" r="4.5"/><circle cx="1320.4" cy="848.2" r="4.5"/><circle cx="1349.0" cy="820.5" r="4.5"/><circle cx="1298.0" cy="870.7" r="4.5"/><circle cx="1376.0" cy="795.9" r="4.5"/><circle cx="1306.4" cy="858.4" r="4.5"/><circle cx="1361.3" cy="808.2" r="4.5"/><circle cx="1352.7" cy="822.9" r="4.5"/><circle cx="1363.3" cy="809.8" r="4.5"/><circle cx="1312.9" cy="853.6" r="4.5"/><circle cx="1385.3" cy="792.1" r="4.5"/><circle cx="1386.8" cy="783.6" r="4.5"/><circle cx="1338.8" cy="835.5" r="4.5"/><circle cx="1365.0" cy="807.6" r="4.5"/><circle cx="1392.3" cy="781.1" r="4.5"/><circle cx="1307.1" cy="866.1" r="4.5"/><circle cx="1298.3" cy="870.2" r="4.5"/><circle cx="1346.6" cy="830.0" r="4.5"/><circle cx="1349.9" cy="824.8" r="4.5"/><circle cx="1318.3" cy="859.9" r="4.5"/><circle cx="1353.2" cy="821.8" r="4.5"/><circle cx="1378.0" cy="788.9" r="4.5"/><circle cx="1305.9" cy="863.0" r="4.5"/><circle cx="1303.2" cy="867.1" r="4.5"/><circle cx="1297.2" cy="869.7" r="4.5"/><circle cx="1305.9" cy="863.0" r="4.5"/><circle cx="1372.7" cy="796.8" r="4.5"/><circle cx="1297.9" cy="870.7" r="4.5"/><circle cx="1334.5" cy="834.9" r="4.5"/><circle cx="1308.8" cy="863.2" r="4.5"/><circle cx="1305.3" cy="864.5" r="4.5"/><circle cx="1329.6" cy="834.0" r="4.5"/><circle cx="1340.3" cy="827.2" r="4.5"/><circle cx="1326.9" cy="851.6" r="4.5"/><circle cx="1335.0" cy="838.2" r="4.5"/><circle cx="1322.3" cy="846.9" r="4.5"/><circle cx="1368.7" cy="799.9" r="4.5"/><circle cx="1348.9" cy="823.5" r="4.5"/><circle cx="1297.0" cy="864.3" r="4.5"/><circle cx="1318.1" cy="850.4" r="4.5"/><circle cx="1333.6" cy="844.7" r="4.5"/><circle cx="1297.3" cy="874.5" r="4.5"/><circle cx="1298.1" cy="873.2" r="4.5"/><circle cx="1295.7" cy="872.1" r="4.5"/><circle cx="1372.9" cy="797.3" r="4.5"/><circle cx="1315.3" cy="856.6" r="4.5"/><circle cx="1298.0" cy="874.4" r="4.5"/><circle cx="1373.8" cy="797.7" r="4.5"/><circle cx="1335.3" cy="839.7" r="4.5"/><circle cx="1375.1" cy="792.3" r="4.5"/><circle cx="1296.0" cy="870.1" r="4.5"/><circle cx="1313.8" cy="854.0" r="4.5"/><circle cx="1332.0" cy="847.1" r="4.5"/><circle cx="1353.9" cy="813.2" r="4.5"/><circle cx="1400.2" cy="775.1" r="4.5"/><circle cx="1343.4" cy="829.3" r="4.5"/><circle cx="1303.3" cy="867.6" r="4.5"/><circle cx="1394.8" cy="779.3" r="4.5"/><circle cx="1312.8" cy="854.8" r="4.5"/><circle cx="1306.6" cy="864.2" r="4.5"/><circle cx="1307.4" cy="859.0" r="4.5"/><circle cx="1369.3" cy="808.8" r="4.5"/><circle cx="1342.6" cy="826.6" r="4.5"/><circle cx="1295.0" cy="871.7" r="4.5"/><circle cx="1392.3" cy="776.8" r="4.5"/><circle cx="1294.2" cy="871.3" r="4.5"/><circle cx="1301.6" cy="862.7" r="4.5"/><circle cx="1296.3" cy="870.2" r="4.5"/><circle cx="1296.4" cy="874.3" r="4.5"/><circle cx="1358.3" cy="808.8" r="4.5"/><circle cx="1296.3" cy="872.9" r="4.5"/><circle cx="1326.2" cy="846.1" r="4.5"/><circle cx="1325.9" cy="845.9" r="4.5"/><circle cx="1367.6" cy="808.1" r="4.5"/><circle cx="1400.3" cy="778.8" r="4.5"/><circle cx="1335.7" cy="833.1" r="4.5"/><circle cx="1336.5" cy="834.3" r="4.5"/><circle cx="1354.7" cy="813.0" r="4.5"/><circle cx="1328.1" cy="843.9" r="4.5"/><circle cx="1388.8" cy="785.3" r="4.5"/><circle cx="1328.7" cy="841.3" r="4.5"/><circle cx="1312.7" cy="860.5" r="4.5"/><circle cx="1299.3" cy="874.0" r="4.5"/><circle cx="1372.1" cy="793.0" r="4.5"/><circle cx="1375.2" cy="803.9" r="4.5"/><circle cx="1378.6" cy="788.1" r="4.5"/><circle cx="1379.5" cy="797.9" r="4.5"/><circle cx="1301.4" cy="869.1" r="4.5"/><circle cx="1295.5" cy="872.1" r="4.5"/><circle cx="1335.4" cy="835.0" r="4.5"/><circle cx="1399.4" cy="779.6" r="4.5"/><circle cx="1369.0" cy="805.9" r="4.5"/><circle cx="1396.9" cy="777.1" r="4.5"/><circle cx="1391.3" cy="777.5" r="4.5"/><circle cx="1316.9" cy="854.0" r="4.5"/><circle cx="1303.8" cy="868.9" r="4.5"/><circle cx="1305.8" cy="864.0" r="4.5"/><circle cx="1386.3" cy="785.8" r="4.5"/><circle cx="1318.5" cy="850.9" r="4.5"/><circle cx="1294.0" cy="870.0" r="4.5"/><circle cx="1300.3" cy="872.6" r="4.5"/><circle cx="1322.5" cy="846.4" r="4.5"/><circle cx="1312.1" cy="857.5" r="4.5"/><circle cx="1304.7" cy="866.5" r="4.5"/><circle cx="1382.1" cy="791.7" r="4.5"/><circle cx="1318.8" cy="849.3" r="4.5"/><circle cx="1307.8" cy="862.1" r="4.5"/><circle cx="1294.8" cy="871.8" r="4.5"/><circle cx="1344.7" cy="825.6" r="4.5"/><circle cx="1340.6" cy="830.6" r="4.5"/><circle cx="1347.8" cy="825.9" r="4.5"/><circle cx="1403.6" cy="771.1" r="4.5"/><circle cx="1303.0" cy="863.7" r="4.5"/><circle cx="1401.2" cy="774.9" r="4.5"/><circle cx="1335.4" cy="838.3" r="4.5"/><circle cx="1297.4" cy="870.6" r="4.5"/><circle cx="1306.6" cy="857.2" r="4.5"/><circle cx="1335.0" cy="833.6" r="4.5"/><circle cx="1331.8" cy="839.9" r="4.5"/><circle cx="1368.9" cy="803.4" r="4.5"/><circle cx="1394.5" cy="785.4" r="4.5"/><circle cx="1343.4" cy="826.8" r="4.5"/><circle cx="1391.6" cy="777.1" r="4.5"/><circle cx="1305.5" cy="864.4" r="4.5"/><circle cx="1385.0" cy="785.4" r="4.5"/><circle cx="1297.3" cy="868.7" r="4.5"/><circle cx="1362.0" cy="805.7" r="4.5"/><circle cx="1325.6" cy="844.5" r="4.5"/><circle cx="1325.1" cy="850.7" r="4.5"/><circle cx="1298.5" cy="872.3" r="4.5"/><circle cx="1401.2" cy="776.9" r="4.5"/><circle cx="1359.0" cy="810.4" r="4.5"/><circle cx="1313.8" cy="854.9" r="4.5"/><circle cx="1364.0" cy="808.7" r="4.5"/><circle cx="1303.0" cy="863.6" r="4.5"/><circle cx="1313.8" cy="861.5" r="4.5"/><circle cx="1381.4" cy="791.1" r="4.5"/><circle cx="1303.5" cy="874.8" r="4.5"/><circle cx="1324.4" cy="848.8" r="4.5"/><circle cx="1302.2" cy="870.8" r="4.5"/><circle cx="1299.0" cy="874.2" r="4.5"/><circle cx="1318.9" cy="849.4" r="4.5"/><circle cx="1298.1" cy="867.6" r="4.5"/><circle cx="1397.4" cy="774.0" r="4.5"/><circle cx="1343.1" cy="829.3" r="4.5"/><circle cx="1307.5" cy="852.8" r="4.5"/><circle cx="1301.0" cy="867.5" r="4.5"/><circle cx="1391.7" cy="780.8" r="4.5"/><circle cx="1336.0" cy="830.1" r="4.5"/><circle cx="1297.8" cy="871.7" r="4.5"/><circle cx="1320.8" cy="850.2" r="4.5"/><circle cx="1297.0" cy="870.1" r="4.5"/><circle cx="1355.6" cy="810.0" r="4.5"/><circle cx="1311.2" cy="864.3" r="4.5"/><circle cx="1348.8" cy="822.5" r="4.5"/><circle cx="1388.0" cy="777.9" r="4.5"/><circle cx="1294.2" cy="871.9" r="4.5"/><circle cx="1399.3" cy="767.3" r="4.5"/><circle cx="1379.2" cy="788.7" r="4.5"/><circle cx="1368.9" cy="801.2" r="4.5"/><circle cx="1345.9" cy="831.1" r="4.5"/><circle cx="1297.8" cy="872.8" r="4.5"/><circle cx="1340.5" cy="825.8" r="4.5"/><circle cx="1319.6" cy="851.0" r="4.5"/><circle cx="1298.8" cy="866.0" r="4.5"/><circle cx="1400.0" cy="776.8" r="4.5"/><circle cx="1401.0" cy="775.0" r="4.5"/><circle cx="1380.1" cy="799.0" r="4.5"/><circle cx="1368.3" cy="808.3" r="4.5"/><circle cx="1370.4" cy="798.9" r="4.5"/><circle cx="1309.9" cy="858.4" r="4.5"/><circle cx="1323.5" cy="851.2" r="4.5"/><circle cx="1326.3" cy="842.7" r="4.5"/><circle cx="1296.8" cy="872.8" r="4.5"/><circle cx="1331.4" cy="833.4" r="4.5"/><circle cx="1390.4" cy="778.2" r="4.5"/><circle cx="1320.5" cy="852.5" r="4.5"/><circle cx="1384.8" cy="783.7" r="4.5"/><circle cx="1350.2" cy="818.4" r="4.5"/><circle cx="1331.6" cy="840.8" r="4.5"/><circle cx="1358.2" cy="813.5" r="4.5"/><circle cx="1320.3" cy="853.1" r="4.5"/><circle cx="1382.3" cy="792.5" r="4.5"/><circle cx="1311.2" cy="862.1" r="4.5"/><circle cx="1318.5" cy="849.0" r="4.5"/><circle cx="1297.7" cy="869.8" r="4.5"/><circle cx="1308.8" cy="863.9" r="4.5"/><circle cx="1383.3" cy="792.6" r="4.5"/><circle cx="1343.1" cy="829.6" r="4.5"/><circle cx="1377.3" cy="792.2" r="4.5"/><circle cx="1294.7" cy="872.1" r="4.5"/><circle cx="1299.9" cy="865.8" r="4.5"/><circle cx="1321.7" cy="845.5" r="4.5"/><circle cx="1382.2" cy="786.2" r="4.5"/><circle cx="1322.4" cy="847.6" r="4.5"/><circle cx="1299.4" cy="869.8" r="4.5"/><circle cx="1301.3" cy="867.2" r="4.5"/><circle cx="1344.5" cy="829.3" r="4.5"/><circle cx="1385.8" cy="790.3" r="4.5"/><circle cx="1340.8" cy="831.4" r="4.5"/><circle cx="1356.1" cy="819.1" r="4.5"/><circle cx="1302.2" cy="869.4" r="4.5"/><circle cx="1401.3" cy="773.2" r="4.5"/><circle cx="1376.2" cy="803.4" r="4.5"/><circle cx="1309.1" cy="864.9" r="4.5"/><circle cx="1302.7" cy="864.8" r="4.5"/><circle cx="1379.3" cy="797.9" r="4.5"/><circle cx="1392.0" cy="780.7" r="4.5"/><circle cx="1316.4" cy="855.9" r="4.5"/><circle cx="1296.9" cy="867.8" r="4.5"/><circle cx="1308.3" cy="858.6" r="4.5"/><circle cx="1347.0" cy="814.8" r="4.5"/><circle cx="1374.9" cy="799.4" r="4.5"/><circle cx="1321.3" cy="851.0" r="4.5"/><circle cx="1399.3" cy="777.8" r="4.5"/><circle cx="1327.9" cy="845.5" r="4.5"/><circle cx="1389.5" cy="782.4" r="4.5"/><circle cx="1356.1" cy="808.1" r="4.5"/><circle cx="1362.1" cy="805.4" r="4.5"/><circle cx="1338.3" cy="832.5" r="4.5"/><circle cx="1326.7" cy="846.7" r="4.5"/><circle cx="1372.3" cy="806.1" r="4.5"/><circle cx="1307.5" cy="861.5" r="4.5"/><circle cx="1352.9" cy="819.3" r="4.5"/><circle cx="1304.5" cy="866.7" r="4.5"/><circle cx="1299.2" cy="865.5" r="4.5"/><circle cx="1364.3" cy="810.8" r="4.5"/><circle cx="1334.7" cy="841.2" r="4.5"/><circle cx="1380.4" cy="792.3" r="4.5"/><circle cx="1356.3" cy="819.6" r="4.5"/><circle cx="1310.8" cy="861.1" r="4.5"/><circle cx="1302.0" cy="868.7" r="4.5"/><circle cx="1345.4" cy="822.0" r="4.5"/><circle cx="1303.7" cy="867.3" r="4.5"/><circle cx="1350.9" cy="818.5" r="4.5"/><circle cx="1362.9" cy="803.9" r="4.5"/><circle cx="1306.5" cy="863.9" r="4.5"/><circle cx="1353.0" cy="814.6" r="4.5"/><circle cx="1356.8" cy="810.0" r="4.5"/><circle cx="1395.1" cy="779.5" r="4.5"/><circle cx="1306.3" cy="863.1" r="4.5"/><circle cx="1367.4" cy="795.0" r="4.5"/><circle cx="1321.2" cy="846.1" r="4.5"/><circle cx="1323.6" cy="845.4" r="4.5"/><circle cx="1298.9" cy="873.5" r="4.5"/><circle cx="1317.9" cy="853.5" r="4.5"/><circle cx="1322.0" cy="845.5" r="4.5"/><circle cx="1347.6" cy="823.8" r="4.5"/><circle cx="1296.7" cy="871.1" r="4.5"/><circle cx="1393.6" cy="780.5" r="4.5"/><circle cx="1325.7" cy="846.0" r="4.5"/><circle cx="1369.1" cy="806.7" r="4.5"/><circle cx="1403.4" cy="766.5" r="4.5"/><circle cx="1320.3" cy="851.5" r="4.5"/><circle cx="1359.7" cy="811.3" r="4.5"/><circle cx="1333.4" cy="840.1" r="4.5"/><circle cx="1349.9" cy="822.0" r="4.5"/><circle cx="1344.0" cy="821.6" r="4.5"/><circle cx="1299.5" cy="872.6" r="4.5"/><circle cx="1301.2" cy="869.7" r="4.5"/><circle cx="1303.0" cy="864.5" r="4.5"/><circle cx="1303.3" cy="865.0" r="4.5"/><circle cx="1373.3" cy="800.3" r="4.5"/><circle cx="1331.0" cy="839.7" r="4.5"/><circle cx="1309.4" cy="864.0" r="4.5"/><circle cx="1320.3" cy="844.4" r="4.5"/><circle cx="1354.9" cy="819.8" r="4.5"/><circle cx="1324.5" cy="845.7" r="4.5"/><circle cx="1331.3" cy="841.2" r="4.5"/><circle cx="1322.0" cy="853.7" r="4.5"/><circle cx="1300.9" cy="864.9" r="4.5"/><circle cx="1313.2" cy="859.1" r="4.5"/><circle cx="1390.5" cy="783.6" r="4.5"/><circle cx="1326.3" cy="840.9" r="4.5"/><circle cx="1311.5" cy="857.9" r="4.5"/><circle cx="1320.4" cy="841.2" r="4.5"/><circle cx="1325.7" cy="844.4" r="4.5"/><circle cx="1362.5" cy="813.1" r="4.5"/><circle cx="1313.4" cy="855.2" r="4.5"/><circle cx="1388.3" cy="782.0" r="4.5"/><circle cx="1309.7" cy="856.3" r="4.5"/><circle cx="1310.7" cy="851.5" r="4.5"/><circle cx="1311.9" cy="852.4" r="4.5"/><circle cx="1360.4" cy="811.5" r="4.5"/><circle cx="1332.3" cy="846.2" r="4.5"/><circle cx="1331.8" cy="836.5" r="4.5"/><circle cx="1309.8" cy="863.6" r="4.5"/><circle cx="1317.9" cy="849.3" r="4.5"/><circle cx="1347.8" cy="825.0" r="4.5"/><circle cx="1369.4" cy="801.0" r="4.5"/><circle cx="1373.1" cy="803.8" r="4.5"/><circle cx="1404.0" cy="772.8" r="4.5"/><circle cx="1322.8" cy="846.9" r="4.5"/><circle cx="1365.0" cy="804.5" r="4.5"/><circle cx="1307.0" cy="855.7" r="4.5"/><circle cx="1302.4" cy="867.1" r="4.5"/><circle cx="1369.5" cy="805.7" r="4.5"/><circle cx="1305.6" cy="864.1" r="4.5"/><circle cx="1664.0" cy="513.8" r="4.5"/><circle cx="1655.6" cy="523.6" r="4.5"/><circle cx="1479.7" cy="685.4" r="4.5"/><circle cx="1459.1" cy="705.1" r="4.5"/><circle cx="1433.2" cy="737.5" r="4.5"/><circle cx="1426.2" cy="747.9" r="4.5"/><circle cx="1467.0" cy="768.4" r="4.5"/><circle cx="1451.0" cy="777.7" r="4.5"/><circle cx="1494.6" cy="807.0" r="4.5"/><circle cx="1367.1" cy="840.7" r="4.5"/><circle cx="1377.0" cy="845.2" r="4.5"/><circle cx="1330.5" cy="861.3" r="4.5"/><circle cx="1403.7" cy="759.4" r="4.5"/><circle cx="1398.1" cy="778.3" r="4.5"/></g>
<line x1="1295.4" y1="873.4" x2="1662.6" y2="522.2" stroke="#5763e0" stroke-width="4.5" />
<text x="1410.7" y="525.0" font-size="33" text-anchor="middle" font-weight="normal" fill="#111" >m¹A-quant-seq</text>
<text x="1409.7" y="561.5" font-size="33" text-anchor="middle" font-weight="normal" fill="#111" >-AlkB</text>
<text x="1690.7" y="868.3" font-size="33" text-anchor="end" font-weight="normal" fill="#111" >r = 0.985</text>
<text x="1497.4" y="951.5" font-size="33" text-anchor="middle" font-weight="normal" fill="#111" >replicate 2</text>
<text x="1499.0" y="988.5" font-size="33" text-anchor="middle" font-weight="normal" fill="#111" >Sequencing depth&#160;&#160;(x10⁵)</text>
<text transform="translate(1237.5,708.6) rotate(-90)" x="0" y="0" font-size="33" text-anchor="middle" font-weight="normal" fill="#111">replicate 3</text>
<path d="M1774.4,496.9 L1774.4,892.1 L2178.1,892.1" fill="none" stroke="#2b2b2b" stroke-width="2.8"/>
<line x1="1791.8" y1="892.1" x2="1791.8" y2="898.1" stroke="#333" stroke-width="2" />
<text x="1791.8" y="917.6" font-size="18" text-anchor="middle" font-weight="normal" fill="#5c5c5c" >0</text>
<line x1="1868.1" y1="892.1" x2="1868.1" y2="898.1" stroke="#333" stroke-width="2" />
<text x="1868.1" y="917.6" font-size="18" text-anchor="middle" font-weight="normal" fill="#5c5c5c" >1</text>
<line x1="1944.4" y1="892.1" x2="1944.4" y2="898.1" stroke="#333" stroke-width="2" />
<text x="1944.4" y="917.6" font-size="18" text-anchor="middle" font-weight="normal" fill="#5c5c5c" >2</text>
<line x1="2020.7" y1="892.1" x2="2020.7" y2="898.1" stroke="#333" stroke-width="2" />
<text x="2020.7" y="917.6" font-size="18" text-anchor="middle" font-weight="normal" fill="#5c5c5c" >3</text>
<line x1="2097.0" y1="892.1" x2="2097.0" y2="898.1" stroke="#333" stroke-width="2" />
<text x="2097.0" y="917.6" font-size="18" text-anchor="middle" font-weight="normal" fill="#5c5c5c" >4</text>
<line x1="2173.3" y1="892.1" x2="2173.3" y2="898.1" stroke="#333" stroke-width="2" />
<text x="2173.3" y="917.6" font-size="18" text-anchor="middle" font-weight="normal" fill="#5c5c5c" >5</text>
<line x1="1768.4" y1="873.3" x2="1774.4" y2="873.3" stroke="#333" stroke-width="2" />
<text x="1762.4" y="879.8" font-size="18" text-anchor="end" font-weight="normal" fill="#5c5c5c" >0</text>
<line x1="1768.4" y1="756.5" x2="1774.4" y2="756.5" stroke="#333" stroke-width="2" />
<text x="1762.4" y="763.0" font-size="18" text-anchor="end" font-weight="normal" fill="#5c5c5c" >2</text>
<line x1="1768.4" y1="639.7" x2="1774.4" y2="639.7" stroke="#333" stroke-width="2" />
<text x="1762.4" y="646.2" font-size="18" text-anchor="end" font-weight="normal" fill="#5c5c5c" >4</text>
<line x1="1768.4" y1="522.9" x2="1774.4" y2="522.9" stroke="#333" stroke-width="2" />
<text x="1762.4" y="529.4" font-size="18" text-anchor="end" font-weight="normal" fill="#5c5c5c" >6</text>
<g fill="#000"><circle cx="1887.7" cy="783.9" r="4.5"/><circle cx="1895.3" cy="767.6" r="4.5"/><circle cx="1811.5" cy="853.7" r="4.5"/><circle cx="1801.0" cy="867.6" r="4.5"/><circle cx="1815.3" cy="850.5" r="4.5"/><circle cx="1854.0" cy="814.9" r="4.5"/><circle cx="1814.7" cy="849.2" r="4.5"/><circle cx="1817.6" cy="844.9" r="4.5"/><circle cx="1824.5" cy="835.5" r="4.5"/><circle cx="1806.9" cy="864.1" r="4.5"/><circle cx="1907.5" cy="767.9" r="4.5"/><circle cx="1879.1" cy="794.4" r="4.5"/><circle cx="1835.4" cy="831.0" r="4.5"/><circle cx="1901.7" cy="758.1" r="4.5"/><circle cx="1845.7" cy="815.9" r="4.5"/><circle cx="1866.0" cy="796.7" r="4.5"/><circle cx="1881.2" cy="776.7" r="4.5"/><circle cx="1864.7" cy="803.9" r="4.5"/><circle cx="1822.0" cy="848.2" r="4.5"/><circle cx="1868.0" cy="800.1" r="4.5"/><circle cx="1847.4" cy="817.2" r="4.5"/><circle cx="1845.5" cy="825.0" r="4.5"/><circle cx="1898.8" cy="767.2" r="4.5"/><circle cx="1862.6" cy="812.6" r="4.5"/><circle cx="1798.1" cy="869.8" r="4.5"/><circle cx="1806.4" cy="857.6" r="4.5"/><circle cx="1795.4" cy="866.6" r="4.5"/><circle cx="1869.6" cy="795.0" r="4.5"/><circle cx="1881.8" cy="781.2" r="4.5"/><circle cx="1792.5" cy="873.6" r="4.5"/><circle cx="1797.9" cy="860.5" r="4.5"/><circle cx="1811.2" cy="851.9" r="4.5"/><circle cx="1864.4" cy="807.3" r="4.5"/><circle cx="1880.9" cy="785.3" r="4.5"/><circle cx="1850.4" cy="811.8" r="4.5"/><circle cx="1814.9" cy="848.6" r="4.5"/><circle cx="1902.2" cy="766.3" r="4.5"/><circle cx="1891.7" cy="773.6" r="4.5"/><circle cx="1819.4" cy="840.8" r="4.5"/><circle cx="1890.9" cy="773.8" r="4.5"/><circle cx="1829.4" cy="833.1" r="4.5"/><circle cx="1811.3" cy="848.1" r="4.5"/><circle cx="1802.1" cy="856.1" r="4.5"/><circle cx="1803.8" cy="859.6" r="4.5"/><circle cx="1798.4" cy="870.6" r="4.5"/><circle cx="1903.4" cy="760.6" r="4.5"/><circle cx="1803.9" cy="863.6" r="4.5"/><circle cx="1884.2" cy="785.5" r="4.5"/><circle cx="1832.1" cy="837.0" r="4.5"/><circle cx="1839.7" cy="833.1" r="4.5"/><circle cx="1827.6" cy="836.3" r="4.5"/><circle cx="1857.6" cy="809.3" r="4.5"/><circle cx="1868.1" cy="800.2" r="4.5"/><circle cx="1865.8" cy="801.9" r="4.5"/><circle cx="1879.3" cy="784.5" r="4.5"/><circle cx="1855.8" cy="815.8" r="4.5"/><circle cx="1816.2" cy="851.1" r="4.5"/><circle cx="1849.9" cy="815.1" r="4.5"/><circle cx="1813.9" cy="850.9" r="4.5"/><circle cx="1808.5" cy="859.6" r="4.5"/><circle cx="1795.3" cy="871.1" r="4.5"/><circle cx="1874.3" cy="786.9" r="4.5"/><circle cx="1889.4" cy="773.1" r="4.5"/><circle cx="1839.4" cy="825.8" r="4.5"/><circle cx="1812.9" cy="847.7" r="4.5"/><circle cx="1812.8" cy="854.9" r="4.5"/><circle cx="1880.2" cy="791.2" r="4.5"/><circle cx="1828.7" cy="836.0" r="4.5"/><circle cx="1825.9" cy="833.5" r="4.5"/><circle cx="1810.2" cy="854.3" r="4.5"/><circle cx="1825.2" cy="838.7" r="4.5"/><circle cx="1791.8" cy="869.1" r="4.5"/><circle cx="1791.5" cy="871.8" r="4.5"/><circle cx="1852.6" cy="807.0" r="4.5"/><circle cx="1860.2" cy="803.5" r="4.5"/><circle cx="1862.9" cy="802.1" r="4.5"/><circle cx="1865.9" cy="802.7" r="4.5"/><circle cx="1818.3" cy="847.1" r="4.5"/><circle cx="1895.4" cy="768.8" r="4.5"/><circle cx="1817.3" cy="851.7" r="4.5"/><circle cx="1846.9" cy="823.3" r="4.5"/><circle cx="1882.7" cy="786.8" r="4.5"/><circle cx="1837.7" cy="823.9" r="4.5"/><circle cx="1856.8" cy="806.8" r="4.5"/><circle cx="1800.4" cy="874.8" r="4.5"/><circle cx="1852.1" cy="816.3" r="4.5"/><circle cx="1856.9" cy="813.8" r="4.5"/><circle cx="1903.5" cy="764.3" r="4.5"/><circle cx="1809.6" cy="857.6" r="4.5"/><circle cx="1833.7" cy="832.2" r="4.5"/><circle cx="1855.2" cy="815.3" r="4.5"/><circle cx="1811.8" cy="863.2" r="4.5"/><circle cx="1803.7" cy="863.8" r="4.5"/><circle cx="1890.2" cy="775.2" r="4.5"/><circle cx="1809.4" cy="869.7" r="4.5"/><circle cx="1820.4" cy="843.1" r="4.5"/><circle cx="1828.7" cy="840.3" r="4.5"/><circle cx="1811.8" cy="852.3" r="4.5"/><circle cx="1878.6" cy="787.6" r="4.5"/><circle cx="1874.5" cy="792.8" r="4.5"/><circle cx="1864.0" cy="806.8" r="4.5"/><circle cx="1828.0" cy="836.2" r="4.5"/><circle cx="1808.2" cy="860.5" r="4.5"/><circle cx="1843.1" cy="822.1" r="4.5"/><circle cx="1814.6" cy="852.1" r="4.5"/><circle cx="1904.5" cy="764.4" r="4.5"/><circle cx="1793.7" cy="874.6" r="4.5"/><circle cx="1795.2" cy="866.1" r="4.5"/><circle cx="1801.3" cy="864.8" r="4.5"/><circle cx="1812.4" cy="851.6" r="4.5"/><circle cx="1903.7" cy="760.4" r="4.5"/><circle cx="1899.6" cy="767.8" r="4.5"/><circle cx="1837.3" cy="823.4" r="4.5"/><circle cx="1867.8" cy="798.8" r="4.5"/><circle cx="1796.2" cy="868.1" r="4.5"/><circle cx="1890.0" cy="776.9" r="4.5"/><circle cx="1827.6" cy="838.2" r="4.5"/><circle cx="1791.5" cy="869.5" r="4.5"/><circle cx="1796.6" cy="860.7" r="4.5"/><circle cx="1866.7" cy="798.3" r="4.5"/><circle cx="1827.1" cy="842.3" r="4.5"/><circle cx="1804.0" cy="863.6" r="4.5"/><circle cx="1839.1" cy="823.4" r="4.5"/><circle cx="1838.8" cy="832.6" r="4.5"/><circle cx="1824.4" cy="835.9" r="4.5"/><circle cx="1822.0" cy="850.8" r="4.5"/><circle cx="1844.9" cy="820.6" r="4.5"/><circle cx="1864.2" cy="801.4" r="4.5"/><circle cx="1863.4" cy="806.7" r="4.5"/><circle cx="1797.2" cy="872.1" r="4.5"/><circle cx="1819.4" cy="846.1" r="4.5"/><circle cx="1799.0" cy="865.2" r="4.5"/><circle cx="1821.6" cy="847.5" r="4.5"/><circle cx="1794.0" cy="866.3" r="4.5"/><circle cx="1803.4" cy="867.5" r="4.5"/><circle cx="1819.7" cy="846.7" r="4.5"/><circle cx="1877.1" cy="788.1" r="4.5"/><circle cx="1844.6" cy="817.3" r="4.5"/><circle cx="1815.2" cy="853.5" r="4.5"/><circle cx="1869.0" cy="794.5" r="4.5"/><circle cx="1832.5" cy="830.7" r="4.5"/><circle cx="1794.8" cy="871.4" r="4.5"/><circle cx="1794.6" cy="866.3" r="4.5"/><circle cx="1798.2" cy="874.5" r="4.5"/><circle cx="1846.5" cy="826.7" r="4.5"/><circle cx="1906.4" cy="763.6" r="4.5"/><circle cx="1799.4" cy="865.8" r="4.5"/><circle cx="1824.6" cy="836.8" r="4.5"/><circle cx="1904.2" cy="768.8" r="4.5"/><circle cx="1843.5" cy="823.0" r="4.5"/><circle cx="1801.8" cy="868.2" r="4.5"/><circle cx="1837.8" cy="829.8" r="4.5"/><circle cx="1873.2" cy="787.7" r="4.5"/><circle cx="1802.7" cy="860.7" r="4.5"/><circle cx="1791.0" cy="871.8" r="4.5"/><circle cx="1797.5" cy="859.8" r="4.5"/><circle cx="1825.6" cy="842.7" r="4.5"/><circle cx="1884.2" cy="778.5" r="4.5"/><circle cx="1834.6" cy="818.8" r="4.5"/><circle cx="1846.6" cy="820.1" r="4.5"/><circle cx="1837.1" cy="828.9" r="4.5"/><circle cx="1849.7" cy="818.9" r="4.5"/><circle cx="1896.5" cy="777.6" r="4.5"/><circle cx="1792.6" cy="873.2" r="4.5"/><circle cx="1881.6" cy="787.5" r="4.5"/><circle cx="1834.2" cy="828.5" r="4.5"/><circle cx="1879.8" cy="787.6" r="4.5"/><circle cx="1884.9" cy="779.0" r="4.5"/><circle cx="1857.8" cy="811.2" r="4.5"/><circle cx="1859.2" cy="814.0" r="4.5"/><circle cx="1799.2" cy="865.8" r="4.5"/><circle cx="1806.7" cy="863.3" r="4.5"/><circle cx="1904.4" cy="768.0" r="4.5"/><circle cx="1792.2" cy="869.8" r="4.5"/><circle cx="1817.2" cy="848.7" r="4.5"/><circle cx="1857.6" cy="806.9" r="4.5"/><circle cx="1820.0" cy="846.0" r="4.5"/><circle cx="1888.4" cy="777.3" r="4.5"/><circle cx="1809.1" cy="859.5" r="4.5"/><circle cx="1873.4" cy="792.9" r="4.5"/><circle cx="1790.3" cy="871.4" r="4.5"/><circle cx="1805.5" cy="864.0" r="4.5"/><circle cx="1868.2" cy="797.7" r="4.5"/><circle cx="1847.0" cy="819.2" r="4.5"/><circle cx="1803.7" cy="858.1" r="4.5"/><circle cx="1795.1" cy="865.3" r="4.5"/><circle cx="1869.4" cy="790.2" r="4.5"/><circle cx="1881.3" cy="786.9" r="4.5"/><circle cx="1866.5" cy="803.5" r="4.5"/><circle cx="1836.5" cy="828.8" r="4.5"/><circle cx="1852.7" cy="818.8" r="4.5"/><circle cx="1795.1" cy="866.4" r="4.5"/><circle cx="1842.8" cy="828.1" r="4.5"/><circle cx="1807.8" cy="859.7" r="4.5"/><circle cx="1805.3" cy="863.4" r="4.5"/><circle cx="1869.6" cy="799.8" r="4.5"/><circle cx="1908.1" cy="766.5" r="4.5"/><circle cx="1821.2" cy="845.9" r="4.5"/><circle cx="1853.5" cy="814.2" r="4.5"/><circle cx="1877.3" cy="790.9" r="4.5"/><circle cx="1860.4" cy="806.3" r="4.5"/><circle cx="1818.6" cy="845.0" r="4.5"/><circle cx="1818.8" cy="841.4" r="4.5"/><circle cx="1834.6" cy="835.0" r="4.5"/><circle cx="1856.7" cy="812.6" r="4.5"/><circle cx="1809.3" cy="855.7" r="4.5"/><circle cx="1872.7" cy="790.6" r="4.5"/><circle cx="1812.6" cy="852.0" r="4.5"/><circle cx="1814.3" cy="848.8" r="4.5"/><circle cx="1800.3" cy="869.7" r="4.5"/><circle cx="1904.7" cy="762.7" r="4.5"/><circle cx="1795.0" cy="870.4" r="4.5"/><circle cx="1817.1" cy="846.6" r="4.5"/><circle cx="1881.3" cy="784.1" r="4.5"/><circle cx="1821.7" cy="840.5" r="4.5"/><circle cx="1886.8" cy="794.5" r="4.5"/><circle cx="1885.3" cy="787.4" r="4.5"/><circle cx="1892.1" cy="775.5" r="4.5"/><circle cx="1796.8" cy="870.2" r="4.5"/><circle cx="1901.2" cy="766.5" r="4.5"/><circle cx="1846.1" cy="819.3" r="4.5"/><circle cx="1842.8" cy="821.9" r="4.5"/><circle cx="1820.1" cy="842.4" r="4.5"/><circle cx="1828.0" cy="839.3" r="4.5"/><circle cx="1851.3" cy="814.0" r="4.5"/><circle cx="1810.4" cy="848.5" r="4.5"/><circle cx="1796.6" cy="874.6" r="4.5"/><circle cx="1813.1" cy="858.5" r="4.5"/><circle cx="1842.9" cy="825.6" r="4.5"/><circle cx="1810.6" cy="848.0" r="4.5"/><circle cx="1851.1" cy="816.0" r="4.5"/><circle cx="1800.1" cy="858.0" r="4.5"/><circle cx="1896.5" cy="769.7" r="4.5"/><circle cx="1856.9" cy="806.8" r="4.5"/><circle cx="1820.2" cy="845.2" r="4.5"/><circle cx="1905.7" cy="764.8" r="4.5"/><circle cx="1833.3" cy="831.3" r="4.5"/><circle cx="1822.4" cy="845.0" r="4.5"/><circle cx="1827.1" cy="828.3" r="4.5"/><circle cx="1822.4" cy="847.5" r="4.5"/><circle cx="1820.7" cy="846.1" r="4.5"/><circle cx="1797.1" cy="867.0" r="4.5"/><circle cx="1865.1" cy="796.8" r="4.5"/><circle cx="1821.2" cy="840.4" r="4.5"/><circle cx="1801.6" cy="864.5" r="4.5"/><circle cx="1848.7" cy="816.2" r="4.5"/><circle cx="1808.6" cy="860.1" r="4.5"/><circle cx="1849.3" cy="820.0" r="4.5"/><circle cx="1795.0" cy="870.4" r="4.5"/><circle cx="1824.5" cy="843.9" r="4.5"/><circle cx="1895.1" cy="768.4" r="4.5"/><circle cx="1828.1" cy="838.4" r="4.5"/><circle cx="1838.2" cy="833.7" r="4.5"/><circle cx="1813.3" cy="860.1" r="4.5"/><circle cx="1793.4" cy="874.5" r="4.5"/><circle cx="1833.2" cy="835.0" r="4.5"/><circle cx="1815.2" cy="850.5" r="4.5"/><circle cx="1890.0" cy="783.0" r="4.5"/><circle cx="1845.8" cy="823.0" r="4.5"/><circle cx="1807.2" cy="854.9" r="4.5"/><circle cx="1798.2" cy="863.9" r="4.5"/><circle cx="1841.6" cy="824.1" r="4.5"/><circle cx="1881.4" cy="786.8" r="4.5"/><circle cx="1842.7" cy="820.4" r="4.5"/><circle cx="1818.0" cy="848.3" r="4.5"/><circle cx="1801.6" cy="863.7" r="4.5"/><circle cx="1799.9" cy="866.8" r="4.5"/><circle cx="1804.1" cy="853.2" r="4.5"/><circle cx="1849.8" cy="819.0" r="4.5"/><circle cx="1850.4" cy="818.3" r="4.5"/><circle cx="1892.5" cy="770.3" r="4.5"/><circle cx="1815.6" cy="848.6" r="4.5"/><circle cx="1821.2" cy="842.7" r="4.5"/><circle cx="1814.7" cy="852.9" r="4.5"/><circle cx="1891.8" cy="772.1" r="4.5"/><circle cx="1851.2" cy="817.6" r="4.5"/><circle cx="1797.1" cy="864.5" r="4.5"/><circle cx="1886.7" cy="776.5" r="4.5"/><circle cx="1868.7" cy="797.6" r="4.5"/><circle cx="1851.8" cy="808.8" r="4.5"/><circle cx="1824.3" cy="840.9" r="4.5"/><circle cx="1870.9" cy="792.8" r="4.5"/><circle cx="1895.7" cy="770.2" r="4.5"/><circle cx="1795.6" cy="866.4" r="4.5"/><circle cx="1825.6" cy="843.3" r="4.5"/><circle cx="1800.4" cy="866.7" r="4.5"/><circle cx="1796.3" cy="868.9" r="4.5"/><circle cx="1791.6" cy="870.5" r="4.5"/><circle cx="1815.8" cy="846.2" r="4.5"/><circle cx="1882.2" cy="784.7" r="4.5"/><circle cx="1863.7" cy="800.8" r="4.5"/><circle cx="1836.2" cy="826.3" r="4.5"/><circle cx="1805.1" cy="858.1" r="4.5"/><circle cx="1896.4" cy="774.2" r="4.5"/><circle cx="1811.3" cy="859.0" r="4.5"/><circle cx="1875.6" cy="790.9" r="4.5"/><circle cx="1824.5" cy="846.6" r="4.5"/><circle cx="1870.9" cy="797.7" r="4.5"/><circle cx="1816.8" cy="847.8" r="4.5"/><circle cx="1814.4" cy="852.8" r="4.5"/><circle cx="1869.9" cy="798.7" r="4.5"/><circle cx="1799.5" cy="869.1" r="4.5"/><circle cx="1905.3" cy="763.6" r="4.5"/><circle cx="1840.0" cy="826.5" r="4.5"/><circle cx="1809.9" cy="852.9" r="4.5"/><circle cx="1850.7" cy="820.3" r="4.5"/><circle cx="1864.7" cy="793.5" r="4.5"/><circle cx="1800.1" cy="863.9" r="4.5"/><circle cx="1825.1" cy="840.8" r="4.5"/><circle cx="1808.0" cy="860.5" r="4.5"/><circle cx="1890.6" cy="775.1" r="4.5"/><circle cx="1798.3" cy="860.2" r="4.5"/><circle cx="1894.0" cy="774.6" r="4.5"/><circle cx="1830.0" cy="840.4" r="4.5"/><circle cx="1879.6" cy="787.0" r="4.5"/><circle cx="1828.7" cy="835.0" r="4.5"/><circle cx="1900.9" cy="766.4" r="4.5"/><circle cx="1794.6" cy="873.6" r="4.5"/><circle cx="1821.3" cy="848.9" r="4.5"/><circle cx="1793.2" cy="871.2" r="4.5"/><circle cx="2150.5" cy="539.6" r="4.5"/><circle cx="2160.4" cy="529.8" r="4.5"/><circle cx="1979.8" cy="694.4" r="4.5"/><circle cx="1976.9" cy="712.9" r="4.5"/><circle cx="1922.9" cy="743.6" r="4.5"/><circle cx="1909.4" cy="752.9" r="4.5"/><circle cx="1927.7" cy="773.4" r="4.5"/><circle cx="1916.5" cy="781.9" r="4.5"/><circle cx="1904.4" cy="777.6" r="4.5"/><circle cx="1846.1" cy="796.5" r="4.5"/><circle cx="1877.9" cy="809.7" r="4.5"/><circle cx="1841.9" cy="833.6" r="4.5"/><circle cx="1899.6" cy="764.1" r="4.5"/><circle cx="1872.3" cy="784.4" r="4.5"/></g>
<line x1="1791.8" y1="873.3" x2="2160.4" y2="515.2" stroke="#5763e0" stroke-width="4.5" />
<text x="1912.0" y="525.0" font-size="33" text-anchor="middle" font-weight="normal" fill="#111" >m¹A-quant-seq</text>
<text x="1911.0" y="561.5" font-size="33" text-anchor="middle" font-weight="normal" fill="#111" >-AlkB</text>
<text x="2158.4" y="867.7" font-size="33" text-anchor="end" font-weight="normal" fill="#111" >r = 0.994</text>
<text x="2017.0" y="951.5" font-size="33" text-anchor="middle" font-weight="normal" fill="#111" >replicate 1</text>
<text x="2019.8" y="988.5" font-size="33" text-anchor="middle" font-weight="normal" fill="#111" >Sequencing depth&#160;&#160;(x10⁵)</text>
<text transform="translate(1734.0,705.0) rotate(-90)" x="0" y="0" font-size="33" text-anchor="middle" font-weight="normal" fill="#111">replicate 3</text>
<text x="26.4" y="1042.0" font-size="33" text-anchor="start" font-weight="bold" fill="#000" >b</text>
<rect x="263.5" y="1046.5" width="855.0999999999999" height="429.9000000000001" fill="none" stroke="#a6a6a6" stroke-width="1.6"/>
<line x1="255.5" y1="1047.5" x2="261.5" y2="1047.5" stroke="#666" stroke-width="1.5" />
<text x="254.0" y="1052.0" font-size="12.5" text-anchor="end" font-weight="normal" fill="#3c3c3c" class="dj">10137</text>
<line x1="255.5" y1="1084.2" x2="261.5" y2="1084.2" stroke="#666" stroke-width="1.5" />
<text x="254.0" y="1088.7" font-size="12.5" text-anchor="end" font-weight="normal" fill="#3c3c3c" class="dj">10000</text>
<line x1="255.5" y1="1110.7" x2="261.5" y2="1110.7" stroke="#666" stroke-width="1.5" />
<text x="254.0" y="1115.2" font-size="12.5" text-anchor="end" font-weight="normal" fill="#3c3c3c" class="dj">9900</text>
<line x1="255.5" y1="1137.1" x2="261.5" y2="1137.1" stroke="#666" stroke-width="1.5" />
<text x="254.0" y="1141.6" font-size="12.5" text-anchor="end" font-weight="normal" fill="#3c3c3c" class="dj">9800</text>
<line x1="255.5" y1="1163.6" x2="261.5" y2="1163.6" stroke="#666" stroke-width="1.5" />
<text x="254.0" y="1168.1" font-size="12.5" text-anchor="end" font-weight="normal" fill="#3c3c3c" class="dj">9700</text>
<line x1="255.5" y1="1190.1" x2="261.5" y2="1190.1" stroke="#666" stroke-width="1.5" />
<text x="254.0" y="1194.6" font-size="12.5" text-anchor="end" font-weight="normal" fill="#3c3c3c" class="dj">9600</text>
<line x1="255.5" y1="1216.5" x2="261.5" y2="1216.5" stroke="#666" stroke-width="1.5" />
<text x="254.0" y="1221.0" font-size="12.5" text-anchor="end" font-weight="normal" fill="#3c3c3c" class="dj">9500</text>
<line x1="255.5" y1="1243.0" x2="261.5" y2="1243.0" stroke="#666" stroke-width="1.5" />
<text x="254.0" y="1247.5" font-size="12.5" text-anchor="end" font-weight="normal" fill="#3c3c3c" class="dj">9400</text>
<line x1="255.5" y1="1269.5" x2="261.5" y2="1269.5" stroke="#666" stroke-width="1.5" />
<text x="254.0" y="1274.0" font-size="12.5" text-anchor="end" font-weight="normal" fill="#3c3c3c" class="dj">9300</text>
<line x1="255.5" y1="1296.0" x2="261.5" y2="1296.0" stroke="#666" stroke-width="1.5" />
<text x="254.0" y="1300.5" font-size="12.5" text-anchor="end" font-weight="normal" fill="#3c3c3c" class="dj">9200</text>
<line x1="255.5" y1="1322.4" x2="261.5" y2="1322.4" stroke="#666" stroke-width="1.5" />
<text x="254.0" y="1326.9" font-size="12.5" text-anchor="end" font-weight="normal" fill="#3c3c3c" class="dj">9100</text>
<line x1="255.5" y1="1348.9" x2="261.5" y2="1348.9" stroke="#666" stroke-width="1.5" />
<text x="254.0" y="1353.4" font-size="12.5" text-anchor="end" font-weight="normal" fill="#3c3c3c" class="dj">9000</text>
<line x1="255.5" y1="1375.4" x2="261.5" y2="1375.4" stroke="#666" stroke-width="1.5" />
<text x="254.0" y="1379.9" font-size="12.5" text-anchor="end" font-weight="normal" fill="#3c3c3c" class="dj">8900</text>
<line x1="255.5" y1="1401.8" x2="261.5" y2="1401.8" stroke="#666" stroke-width="1.5" />
<text x="254.0" y="1406.3" font-size="12.5" text-anchor="end" font-weight="normal" fill="#3c3c3c" class="dj">8800</text>
<line x1="255.5" y1="1428.3" x2="261.5" y2="1428.3" stroke="#666" stroke-width="1.5" />
<text x="254.0" y="1432.8" font-size="12.5" text-anchor="end" font-weight="normal" fill="#3c3c3c" class="dj">8700</text>
<line x1="255.5" y1="1454.8" x2="261.5" y2="1454.8" stroke="#666" stroke-width="1.5" />
<text x="254.0" y="1459.3" font-size="12.5" text-anchor="end" font-weight="normal" fill="#3c3c3c" class="dj">8600</text>
<line x1="255.5" y1="1475.4" x2="261.5" y2="1475.4" stroke="#666" stroke-width="1.5" />
<text x="254.0" y="1479.9" font-size="12.5" text-anchor="end" font-weight="normal" fill="#3c3c3c" class="dj">8521</text>
<line x1="256.5" y1="1057.5" x2="261.5" y2="1057.5" stroke="#777" stroke-width="1.4" />
<line x1="647.3" y1="1046.5" x2="647.3" y2="1476.4" stroke="#e08e98" stroke-width="1.2" stroke-dasharray="1.6,1.6"/>
<line x1="836.8" y1="1046.5" x2="836.8" y2="1476.4" stroke="#e08e98" stroke-width="1.2" stroke-dasharray="1.6,1.6"/>
<text x="739.8" y="1064.5" font-size="12.5" text-anchor="middle" font-weight="normal" fill="#c8414e" class="dj">265</text>
<line x1="552.5" y1="1395.0" x2="552.5" y2="1454.3" stroke="#f0bfa8" stroke-width="1.1" />
<line x1="568.7" y1="1395.0" x2="568.7" y2="1454.3" stroke="#f0bfa8" stroke-width="1.1" />
<line x1="584.0" y1="1395.0" x2="584.0" y2="1454.3" stroke="#f0bfa8" stroke-width="1.1" />
<line x1="624.2" y1="1395.0" x2="624.2" y2="1454.3" stroke="#f0bfa8" stroke-width="1.1" />
<line x1="818.7" y1="1395.0" x2="818.7" y2="1454.3" stroke="#f0bfa8" stroke-width="1.1" />
<line x1="908.8" y1="1395.0" x2="908.8" y2="1454.3" stroke="#f0bfa8" stroke-width="1.1" />
<line x1="926.6" y1="1395.0" x2="926.6" y2="1454.3" stroke="#f0bfa8" stroke-width="1.1" />
<line x1="264.5" y1="1454.3" x2="1117.6" y2="1454.3" stroke="#d98c90" stroke-width="1.2" />
<polyline fill="none" stroke="#505050" stroke-width="1.15" points="264,1454.6 265,1454.5 266,1454.4 266,1454.7 266,1455.1 267,1455.4 268,1455.5 268,1455.6 268,1455.5 269,1455.5 270,1455.1 270,1455.3 270,1454.7 271,1454.5 272,1454.1 272,1454.4 272,1454.2 273,1454.5 274,1454.6 274,1454.7 274,1454.6 275,1454.9 276,1454.9 276,1455.2 276,1455.2 277,1454.5 278,1454.5 278,1454.6 278,1454.8 279,1455.2 280,1455.0 280,1454.7 280,1454.5 281,1453.6 282,1453.2 282,1453.2 282,1452.8 283,1453.3 284,1453.2 284,1453.8 284,1454.3 285,1453.9 286,1454.4 286,1455.6 286,1455.6 287,1455.3 288,1454.6 288,1454.6 288,1454.6 289,1454.4 290,1454.4 290,1455.1 290,1455.0 291,1454.9 292,1455.5 292,1455.8 292,1456.0 293,1455.6 294,1455.4 294,1455.4 294,1455.1 295,1454.8 296,1454.0 296,1453.6 296,1453.4 297,1452.8 298,1453.1 298,1453.2 298,1453.7 299,1453.7 300,1453.6 300,1454.4 300,1454.8 301,1454.7 302,1454.8 302,1454.7 302,1455.4 303,1455.1 304,1455.4 304,1455.4 304,1455.5 305,1455.4 306,1455.5 306,1455.6 306,1455.6 307,1454.7 308,1454.8 308,1454.5 308,1454.3 309,1454.2 310,1454.0 310,1454.0 310,1454.0 311,1453.8 312,1453.7 312,1453.6 312,1453.6 313,1454.0 314,1454.3 314,1454.4 314,1454.6 315,1454.9 316,1455.4 316,1456.1 316,1456.1 317,1456.1 318,1456.1 318,1456.1 318,1456.2 319,1455.9 320,1455.6 320,1454.9 320,1454.3 321,1454.2 322,1454.2 322,1454.6 322,1454.1 323,1454.1 324,1454.1 324,1453.8 324,1454.7 325,1455.2 326,1455.2 326,1454.8 326,1454.5 327,1454.2 328,1454.2 328,1454.4 328,1454.3 329,1453.7 330,1453.5 330,1453.3 330,1453.8 331,1453.9 332,1454.4 332,1454.3 332,1454.6 333,1454.8 334,1454.7 334,1454.8 334,1454.7 335,1454.6 336,1454.7 336,1454.7 336,1455.3 337,1454.7 338,1454.7 338,1454.5 338,1454.5 339,1454.7 340,1454.5 340,1453.9 340,1453.9 341,1453.5 342,1453.4 342,1453.7 342,1453.8 343,1453.7 344,1453.9 344,1453.7 344,1454.1 345,1453.7 346,1453.4 346,1454.0 346,1454.0 347,1454.5 348,1454.5 348,1454.2 348,1454.1 349,1453.8 350,1454.2 350,1454.3 350,1454.5 351,1454.6 352,1454.6 352,1454.6 352,1454.2 353,1454.4 354,1454.7 354,1454.5 354,1454.4 355,1453.4 356,1453.1 356,1453.1 356,1453.5 357,1454.0 358,1453.9 358,1454.0 358,1454.2 359,1454.0 360,1454.7 360,1454.8 360,1454.3 361,1454.1 362,1454.2 362,1454.2 362,1453.3 363,1452.7 364,1453.3 364,1452.7 364,1452.5 365,1452.5 366,1452.1 366,1452.1 366,1451.7 367,1452.5 368,1452.6 368,1452.1 368,1452.2 369,1452.2 370,1452.6 370,1452.6 370,1452.4 371,1453.4 372,1453.1 372,1453.0 372,1453.3 373,1453.6 374,1453.6 374,1453.2 374,1453.8 375,1454.4 376,1454.0 376,1454.2 376,1455.0 377,1454.7 378,1454.7 378,1454.9 378,1455.3 379,1455.5 380,1454.8 380,1454.5 380,1454.4 381,1453.8 382,1453.8 382,1454.0 382,1453.5 383,1453.4 384,1452.7 384,1453.2 384,1453.7 385,1454.2 386,1454.4 386,1454.5 386,1454.6 387,1455.2 388,1455.2 388,1455.8 388,1455.7 389,1455.5 390,1455.0 390,1454.8 390,1454.8 391,1454.7 392,1454.4 392,1454.5 392,1454.3 393,1454.3 394,1454.1 394,1454.1 394,1454.3 395,1454.3 396,1453.9 396,1454.1 396,1454.3 397,1454.8 398,1454.6 398,1455.4 398,1455.7 399,1456.1 400,1456.3 400,1457.1 400,1456.8 401,1455.9 402,1455.5 402,1455.4 402,1454.7 403,1454.7 404,1454.3 404,1453.7 404,1452.8 405,1452.9 406,1453.5 406,1453.1 406,1453.0 407,1453.3 408,1452.9 408,1452.9 408,1453.9 409,1454.2 410,1454.5 410,1454.3 410,1455.1 411,1455.4 412,1455.2 412,1455.8 412,1456.3 413,1455.9 414,1455.9 414,1455.4 414,1455.0 415,1454.8 416,1455.0 416,1455.3 416,1455.3 417,1455.0 418,1454.9 418,1454.7 418,1454.6 419,1454.9 420,1454.7 420,1454.0 420,1453.7 421,1453.1 422,1453.4 422,1453.1 422,1453.2 423,1453.6 424,1453.7 424,1453.2 424,1453.7 425,1453.7 426,1454.0 426,1454.0 426,1454.1 427,1454.3 428,1453.9 428,1454.2 428,1454.9 429,1454.2 430,1454.2 430,1454.6 430,1454.5 431,1454.8 432,1454.9 432,1455.1 432,1455.1 433,1454.8 434,1455.0 434,1455.5 434,1455.1 435,1454.4 436,1454.4 436,1454.0 436,1453.8 437,1453.1 438,1453.2 438,1453.1 438,1452.7 439,1453.1 440,1453.4 440,1453.3 440,1453.3 441,1453.0 442,1453.5 442,1453.3 442,1453.2 443,1453.1 444,1453.2 444,1453.6 444,1453.5 445,1453.7 446,1454.5 446,1454.4 446,1454.4 447,1454.9 448,1455.0 448,1454.9 448,1454.6 449,1454.7 450,1454.6 450,1454.2 450,1454.5 451,1454.4 452,1454.0 452,1453.8 452,1453.7 453,1453.7 454,1453.5 454,1453.8 454,1453.7 455,1453.4 456,1453.4 456,1454.0 456,1454.4 457,1454.8 458,1455.0 458,1454.8 458,1454.8 459,1455.1 460,1455.1 460,1454.6 460,1454.1 461,1454.0 462,1453.1 462,1452.7 462,1453.6 463,1453.3 464,1453.4 464,1453.4 464,1453.6 465,1453.6 466,1453.6 466,1454.0 466,1454.1 467,1453.5 468,1453.7 468,1453.7 468,1453.7 469,1454.1 470,1454.3 470,1454.5 470,1454.3 471,1454.5 472,1454.5 472,1454.4 472,1454.4 473,1454.3 474,1454.0 474,1454.2 474,1453.9 475,1454.4 476,1454.2 476,1454.8 476,1454.1 477,1454.2 478,1455.1 478,1455.7 478,1455.9 479,1455.6 480,1455.8 480,1455.9 480,1455.4 481,1456.4 482,1456.1 482,1455.9 482,1455.6 483,1455.0 484,1455.2 484,1454.9 484,1454.7 485,1454.6 486,1454.1 486,1454.5 486,1454.3 487,1454.0 488,1454.0 488,1454.0 488,1453.9 489,1454.1 490,1454.0 490,1454.2 490,1454.0 491,1454.3 492,1454.5 492,1454.5 492,1454.3 493,1454.5 494,1454.7 494,1455.4 494,1455.2 495,1455.8 496,1455.6 496,1455.8 496,1456.2 497,1456.7 498,1456.4 498,1455.3 498,1455.1 499,1455.2 500,1454.8 500,1454.7 500,1454.0 501,1453.7 502,1453.8 502,1453.5 502,1453.9 503,1453.9 504,1454.4 504,1454.1 504,1453.8 505,1454.2 506,1454.4 506,1453.9 506,1454.4 507,1455.0 508,1454.3 508,1453.7 508,1454.1 509,1454.4 510,1454.4 510,1454.0 510,1454.0 511,1454.0 512,1454.0 512,1454.6 512,1454.3 513,1454.1 514,1454.3 514,1454.0 514,1454.3 515,1454.6 516,1454.1 516,1454.3 516,1454.2 517,1454.3 518,1454.1 518,1453.9 518,1453.7 519,1454.0 520,1453.6 520,1453.9 520,1453.5 521,1453.8 522,1453.6 522,1453.5 522,1453.2 523,1453.6 524,1453.5 524,1453.2 524,1453.1 525,1453.3 526,1453.4 526,1453.4 526,1453.6 527,1454.1 528,1454.2 528,1454.2 528,1454.7 529,1454.4 530,1454.4 530,1454.1 530,1454.2 531,1454.4 532,1453.3 532,1453.5 532,1453.7 533,1453.8 534,1454.2 534,1454.2 534,1453.8 535,1453.6 536,1453.1 536,1453.7 536,1453.4 537,1453.2 538,1453.0 538,1453.1 538,1453.0 539,1453.4 540,1453.6 540,1454.4 540,1454.5 541,1454.3 542,1454.2 542,1454.6 542,1454.4 543,1454.1 544,1454.3 544,1454.8 544,1454.3 545,1454.0 546,1454.3 546,1454.1 546,1454.2 547,1454.5 548,1454.7 548,1454.7 548,1454.1 549,1454.1 550,1454.2 550,1454.2 550,1454.7 551,1454.2 552,1454.1 552,1453.8 552,1453.3 553,1453.2 554,1452.8 554,1452.1 554,1450.5 555,1446.6 556,1436.9 556,1418.0 556,1386.4 557,1338.9 558,1277.0 558,1209.8 558,1152.6 559,1119.5 560,1122.3 560,1159.1 560,1218.2 561,1284.2 562,1342.6 562,1386.3 562,1414.6 563,1430.7 564,1439.7 564,1443.7 564,1446.1 565,1448.0 566,1449.3 566,1450.5 566,1451.7 567,1452.6 568,1453.6 568,1453.8 568,1453.8 569,1454.6 570,1454.6 570,1454.4 570,1454.9 571,1455.1 572,1455.8 572,1455.4 572,1455.5 573,1455.7 574,1455.8 574,1455.9 574,1456.3 575,1456.7 576,1456.6 576,1456.0 576,1455.3 577,1455.7 578,1455.3 578,1454.5 578,1454.7 579,1454.3 580,1453.4 580,1452.9 580,1453.2 581,1454.1 582,1454.0 582,1453.8 582,1454.5 583,1454.0 584,1454.3 584,1454.3 584,1454.6 585,1454.6 586,1454.1 586,1453.8 586,1453.8 587,1452.9 588,1452.2 588,1450.6 588,1448.1 589,1444.7 590,1441.2 590,1437.6 590,1433.4 591,1430.3 592,1427.7 592,1426.8 592,1426.6 593,1428.5 594,1431.4 594,1434.6 594,1438.4 595,1442.2 596,1445.4 596,1448.1 596,1449.9 597,1451.6 598,1451.9 598,1451.2 598,1449.1 599,1446.4 600,1443.2 600,1439.7 600,1436.5 601,1434.5 602,1434.3 602,1435.2 602,1438.0 603,1441.2 604,1444.1 604,1446.5 604,1447.3 605,1447.2 606,1446.7 606,1445.7 606,1446.0 607,1446.5 608,1447.5 608,1449.0 608,1450.3 609,1452.2 610,1453.8 610,1454.6 610,1454.6 611,1454.2 612,1454.2 612,1454.3 612,1454.0 613,1454.2 614,1454.3 614,1454.0 614,1453.9 615,1454.5 616,1455.1 616,1454.7 616,1454.9 617,1455.0 618,1454.8 618,1454.4 618,1454.4 619,1454.1 620,1453.9 620,1453.5 620,1453.7 621,1453.6 622,1453.3 622,1453.2 622,1453.3 623,1453.0 624,1453.6 624,1453.7 624,1454.0 625,1453.6 626,1453.7 626,1453.9 626,1453.6 627,1453.9 628,1454.2 628,1454.0 628,1453.6 629,1453.5 630,1454.0 630,1454.0 630,1454.1 631,1455.0 632,1454.7 632,1454.9 632,1454.7 633,1455.3 634,1455.3 634,1454.8 634,1455.0 635,1454.4 636,1454.3 636,1454.1 636,1454.3 637,1454.3 638,1454.4 638,1454.3 638,1454.2 639,1453.4 640,1452.1 640,1449.4 640,1447.0 641,1443.1 642,1440.0 642,1436.7 642,1435.9 643,1436.3 644,1438.0 644,1441.1 644,1444.2 645,1446.7 646,1448.8 646,1449.8 646,1451.0 647,1451.0 648,1451.2 648,1451.4 648,1451.7 649,1452.1 650,1451.6 650,1451.9 650,1451.2 651,1451.0 652,1450.7 652,1450.8 652,1449.8 653,1449.1 654,1448.5 654,1448.1 654,1447.3 655,1447.2 656,1446.4 656,1445.7 656,1444.7 657,1444.4 658,1444.1 658,1443.4 658,1442.8 659,1441.8 660,1440.8 660,1440.3 660,1439.4 661,1439.1 662,1437.9 662,1437.1 662,1436.3 663,1435.4 664,1434.6 664,1434.4 664,1433.3 665,1432.4 666,1431.2 666,1430.7 666,1429.5 667,1428.0 668,1427.3 668,1426.4 668,1424.8 669,1424.0 670,1422.8 670,1422.1 670,1421.2 671,1419.8 672,1418.8 672,1416.6 672,1415.3 673,1413.8 674,1412.2 674,1411.0 674,1408.7 675,1407.3 676,1406.1 676,1405.0 676,1404.2 677,1402.4 678,1401.3 678,1400.1 678,1399.0 679,1397.7 680,1396.7 680,1395.7 680,1394.3 681,1393.0 682,1392.5 682,1392.1 682,1391.2 683,1390.8 684,1391.2 684,1390.0 684,1389.2 685,1388.7 686,1388.6 686,1388.5 686,1388.1 687,1388.1 688,1387.9 688,1387.0 688,1386.9 689,1387.2 690,1387.2 690,1387.2 690,1386.6 691,1386.4 692,1386.0 692,1385.7 692,1385.6 693,1386.1 694,1385.5 694,1385.5 694,1386.0 695,1386.4 696,1386.4 696,1386.8 696,1386.9 697,1387.2 698,1387.0 698,1387.5 698,1388.3 699,1388.5 700,1389.3 700,1389.4 700,1390.2 701,1390.5 702,1391.5 702,1392.5 702,1393.5 703,1393.9 704,1394.2 704,1394.1 704,1395.2 705,1395.5 706,1395.9 706,1396.2 706,1395.9 707,1396.5 708,1396.8 708,1397.3 708,1397.5 709,1397.4 710,1398.5 710,1399.4 710,1400.0 711,1401.4 712,1401.6 712,1402.2 712,1403.3 713,1403.7 714,1405.1 714,1405.6 714,1405.8 715,1406.7 716,1406.5 716,1406.7 716,1407.3 717,1407.6 718,1408.8 718,1408.7 718,1408.7 719,1409.5 720,1410.0 720,1411.1 720,1412.3 721,1413.2 722,1413.1 722,1413.0 722,1413.7 723,1414.1 724,1414.9 724,1415.2 724,1416.0 725,1416.5 726,1417.2 726,1418.5 726,1419.7 727,1420.4 728,1421.1 728,1421.6 728,1421.6 729,1422.0 730,1422.3 730,1422.7 730,1423.5 731,1423.8 732,1424.9 732,1425.5 732,1425.8 733,1426.8 734,1427.0 734,1427.9 734,1428.6 735,1429.0 736,1429.7 736,1429.4 736,1430.7 737,1431.2 738,1431.3 738,1432.2 738,1432.5 739,1432.6 740,1432.9 740,1433.6 740,1434.3 741,1434.2 742,1434.7 742,1435.6 742,1436.1 743,1436.6 744,1436.9 744,1437.4 744,1437.5 745,1438.0 746,1438.6 746,1438.9 746,1439.6 747,1440.2 748,1440.8 748,1441.6 748,1441.8 749,1442.1 750,1442.3 750,1442.4 750,1443.4 751,1443.2 752,1443.1 752,1442.8 752,1442.3 753,1442.7 754,1443.5 754,1444.2 754,1444.3 755,1443.8 756,1443.9 756,1444.5 756,1445.2 757,1446.2 758,1447.1 758,1447.1 758,1446.9 759,1447.7 760,1448.2 760,1448.9 760,1448.9 761,1449.3 762,1449.1 762,1448.8 762,1448.6 763,1449.5 764,1449.8 764,1450.1 764,1450.2 765,1450.9 766,1450.9 766,1451.1 766,1451.6 767,1452.1 768,1452.0 768,1451.3 768,1451.1 769,1451.6 770,1451.1 770,1450.9 770,1451.3 771,1450.6 772,1450.6 772,1450.4 772,1450.6 773,1450.7 774,1451.0 774,1451.1 774,1451.5 775,1451.3 776,1451.8 776,1452.0 776,1452.7 777,1452.8 778,1452.7 778,1452.5 778,1452.9 779,1452.8 780,1452.9 780,1453.0 780,1453.4 781,1453.3 782,1453.6 782,1453.8 782,1453.9 783,1453.8 784,1453.9 784,1454.0 784,1454.2 785,1454.0 786,1454.1 786,1453.9 786,1454.0 787,1454.2 788,1454.2 788,1453.6 788,1453.8 789,1454.1 790,1453.7 790,1453.4 790,1453.6 791,1453.9 792,1453.4 792,1453.2 792,1453.8 793,1453.6 794,1452.6 794,1452.9 794,1452.9 795,1452.7 796,1452.4 796,1453.0 796,1452.6 797,1452.5 798,1453.0 798,1454.0 798,1453.9 799,1453.9 800,1454.1 800,1454.7 800,1454.8 801,1455.4 802,1455.3 802,1454.9 802,1454.5 803,1454.5 804,1454.0 804,1453.9 804,1453.2 805,1452.7 806,1452.3 806,1452.9 806,1453.2 807,1452.8 808,1453.0 808,1453.6 808,1454.3 809,1454.5 810,1455.0 810,1455.2 810,1454.8 811,1454.9 812,1456.1 812,1455.7 812,1455.7 813,1455.5 814,1455.1 814,1454.8 814,1455.2 815,1454.9 816,1454.9 816,1454.0 816,1453.9 817,1453.4 818,1453.1 818,1453.7 818,1453.5 819,1454.0 820,1453.5 820,1453.5 820,1453.0 821,1453.3 822,1453.5 822,1453.6 822,1453.3 823,1453.4 824,1452.2 824,1452.9 824,1453.5 825,1453.6 826,1453.5 826,1453.7 826,1453.8 827,1453.8 828,1453.3 828,1453.8 828,1453.6 829,1452.8 830,1453.2 830,1453.6 830,1454.3 831,1454.5 832,1454.5 832,1455.1 832,1455.6 833,1455.8 834,1456.3 834,1456.3 834,1456.1 835,1455.9 836,1455.4 836,1455.9 836,1456.0 837,1455.5 838,1455.3 838,1455.0 838,1455.0 839,1455.0 840,1454.6 840,1454.9 840,1454.8 841,1454.6 842,1454.5 842,1454.6 842,1454.5 843,1454.4 844,1454.5 844,1454.2 844,1454.1 845,1453.8 846,1453.6 846,1453.4 846,1453.2 847,1453.8 848,1453.5 848,1453.5 848,1453.5 849,1453.9 850,1454.1 850,1454.9 850,1455.3 851,1455.5 852,1455.0 852,1454.7 852,1455.0 853,1455.7 854,1455.5 854,1455.4 854,1454.6 855,1454.4 856,1454.4 856,1455.0 856,1455.5 857,1455.5 858,1454.3 858,1453.5 858,1453.7 859,1453.7 860,1453.4 860,1453.1 860,1452.6 861,1452.5 862,1452.1 862,1452.9 862,1453.5 863,1453.3 864,1454.1 864,1454.2 864,1454.7 865,1455.0 866,1455.0 866,1454.9 866,1454.9 867,1455.1 868,1454.9 868,1454.0 868,1454.3 869,1453.8 870,1453.0 870,1452.8 870,1452.5 871,1452.3 872,1452.1 872,1452.0 872,1452.7 873,1452.8 874,1452.7 874,1453.2 874,1453.5 875,1454.0 876,1454.3 876,1454.3 876,1454.5 877,1455.2 878,1455.3 878,1455.8 878,1455.1 879,1455.4 880,1455.4 880,1455.7 880,1455.2 881,1455.8 882,1454.9 882,1454.3 882,1454.1 883,1455.3 884,1455.4 884,1455.5 884,1455.5 885,1455.8 886,1455.6 886,1455.5 886,1456.0 887,1456.2 888,1455.9 888,1455.8 888,1455.9 889,1455.2 890,1455.9 890,1455.7 890,1455.9 891,1455.6 892,1455.8 892,1455.8 892,1455.9 893,1455.9 894,1456.1 894,1456.3 894,1456.6 895,1456.2 896,1456.1 896,1455.7 896,1455.2 897,1454.6 898,1454.2 898,1453.9 898,1453.6 899,1453.2 900,1452.8 900,1452.7 900,1452.6 901,1453.0 902,1453.4 902,1453.6 902,1453.9 903,1453.4 904,1454.2 904,1455.1 904,1455.4 905,1455.8 906,1455.6 906,1455.8 906,1455.9 907,1455.9 908,1455.9 908,1455.5 908,1455.6 909,1455.4 910,1454.3 910,1452.2 910,1447.3 911,1436.9 912,1416.8 912,1383.5 912,1334.9 913,1273.9 914,1211.1 914,1160.4 914,1137.0 915,1147.7 916,1189.1 916,1249.7 916,1313.2 917,1367.5 918,1406.9 918,1431.4 918,1444.9 919,1451.7 920,1454.2 920,1455.5 920,1455.7 921,1455.9 922,1455.8 922,1455.9 922,1455.8 923,1455.7 924,1454.8 924,1454.7 924,1454.1 925,1454.0 926,1453.7 926,1453.4 926,1453.6 927,1454.0 928,1454.2 928,1455.1 928,1455.5 929,1455.8 930,1455.8 930,1456.2 930,1455.8 931,1455.4 932,1454.1 932,1454.3 932,1454.1 933,1453.9 934,1453.7 934,1454.2 934,1453.7 935,1454.1 936,1454.6 936,1455.1 936,1455.0 937,1454.9 938,1455.1 938,1455.4 938,1454.9 939,1455.4 940,1455.6 940,1455.2 940,1455.4 941,1455.0 942,1454.5 942,1454.2 942,1454.0 943,1453.5 944,1452.8 944,1452.7 944,1451.7 945,1451.5 946,1452.3 946,1452.8 946,1453.1 947,1452.9 948,1453.5 948,1453.8 948,1453.8 949,1455.2 950,1455.2 950,1454.3 950,1454.5 951,1454.4 952,1454.6 952,1454.1 952,1454.1 953,1453.8 954,1453.2 954,1453.4 954,1453.8 955,1453.8 956,1454.1 956,1455.0 956,1455.8 957,1455.7 958,1455.7 958,1455.9 958,1455.7 959,1455.7 960,1455.7 960,1455.2 960,1454.6 961,1454.7 962,1454.9 962,1454.7 962,1454.5 963,1455.1 964,1454.9 964,1454.6 964,1454.4 965,1453.9 966,1453.6 966,1453.9 966,1454.2 967,1454.1 968,1454.1 968,1454.0 968,1453.8 969,1453.8 970,1454.2 970,1454.1 970,1453.2 971,1453.2 972,1453.4 972,1453.5 972,1453.5 973,1453.8 974,1454.2 974,1454.5 974,1454.6 975,1455.2 976,1455.3 976,1455.1 976,1454.6 977,1455.4 978,1455.2 978,1455.0 978,1454.6 979,1454.5 980,1454.1 980,1454.4 980,1454.6 981,1454.7 982,1454.3 982,1454.4 982,1454.7 983,1454.2 984,1454.4 984,1454.9 984,1454.4 985,1454.4 986,1454.5 986,1454.4 986,1454.6 987,1454.3 988,1454.6 988,1454.4 988,1454.0 989,1454.6 990,1454.3 990,1454.7 990,1454.6 991,1454.6 992,1454.3 992,1454.5 992,1454.3 993,1454.6 994,1453.7 994,1454.1 994,1454.5 995,1454.6 996,1454.7 996,1454.9 996,1455.2 997,1455.7 998,1455.4 998,1455.4 998,1455.5 999,1454.8 1000,1454.8 1000,1454.9 1000,1454.7 1001,1454.6 1002,1454.4 1002,1454.3 1002,1454.4 1003,1454.5 1004,1454.5 1004,1454.3 1004,1453.9 1005,1453.9 1006,1453.5 1006,1453.2 1006,1453.5 1007,1453.7 1008,1453.5 1008,1453.3 1008,1453.6 1009,1454.0 1010,1454.1 1010,1454.2 1010,1454.6 1011,1454.5 1012,1454.5 1012,1454.6 1012,1455.1 1013,1455.3 1014,1455.9 1014,1455.3 1014,1455.8 1015,1455.6 1016,1455.5 1016,1455.9 1016,1455.5 1017,1454.8 1018,1454.7 1018,1454.1 1018,1454.4 1019,1453.5 1020,1453.0 1020,1453.3 1020,1453.3 1021,1453.4 1022,1454.0 1022,1453.6 1022,1453.5 1023,1454.0 1024,1454.9 1024,1455.5 1024,1455.3 1025,1455.0 1026,1454.8 1026,1455.3 1026,1455.2 1027,1455.1 1028,1454.7 1028,1454.5 1028,1454.5 1029,1454.5 1030,1454.8 1030,1453.9 1030,1453.0 1031,1453.7 1032,1453.7 1032,1454.1 1032,1453.9 1033,1453.9 1034,1454.1 1034,1453.9 1034,1454.9 1035,1455.2 1036,1455.0 1036,1454.6 1036,1454.5 1037,1454.1 1038,1453.8 1038,1453.9 1038,1454.0 1039,1454.4 1040,1454.6 1040,1454.9 1040,1455.4 1041,1455.2 1042,1455.8 1042,1455.6 1042,1455.2 1043,1455.2 1044,1454.8 1044,1454.9 1044,1454.8 1045,1454.4 1046,1454.4 1046,1454.6 1046,1454.6 1047,1454.8 1048,1454.8 1048,1454.9 1048,1454.5 1049,1453.9 1050,1454.6 1050,1455.2 1050,1454.8 1051,1454.8 1052,1454.9 1052,1454.7 1052,1454.3 1053,1454.9 1054,1455.3 1054,1454.5 1054,1454.3 1055,1453.7 1056,1453.7 1056,1453.4 1056,1453.5 1057,1454.2 1058,1453.5 1058,1453.9 1058,1454.0 1059,1453.6 1060,1454.1 1060,1454.2 1060,1454.4 1061,1454.3 1062,1453.9 1062,1454.1 1062,1453.8 1063,1454.0 1064,1454.2 1064,1454.3 1064,1454.2 1065,1454.0 1066,1454.1 1066,1454.3 1066,1454.0 1067,1454.0 1068,1453.6 1068,1453.4 1068,1453.2 1069,1453.1 1070,1453.7 1070,1453.6 1070,1453.8 1071,1454.1 1072,1454.1 1072,1454.6 1072,1455.2 1073,1455.3 1074,1455.0 1074,1455.0 1074,1455.3 1075,1455.3 1076,1455.2 1076,1455.1 1076,1454.8 1077,1454.8 1078,1455.0 1078,1455.3 1078,1455.0 1079,1454.9 1080,1454.4 1080,1454.6 1080,1455.1 1081,1455.5 1082,1454.9 1082,1454.8 1082,1455.0 1083,1455.3 1084,1455.2 1084,1455.3 1084,1455.5 1085,1455.0 1086,1454.6 1086,1454.7 1086,1454.6 1087,1454.6 1088,1454.1 1088,1454.3 1088,1453.9 1089,1453.2 1090,1453.1 1090,1453.4 1090,1453.5 1091,1453.3 1092,1453.4 1092,1453.5 1092,1453.2 1093,1454.1 1094,1454.2 1094,1454.1 1094,1454.2 1095,1454.3 1096,1454.3 1096,1454.6 1096,1455.1 1097,1455.3 1098,1454.9 1098,1455.8 1098,1456.3 1099,1455.7 1100,1455.3 1100,1455.7 1100,1455.3 1101,1454.6 1102,1455.2 1102,1455.1 1102,1454.6 1103,1454.0 1104,1454.3 1104,1454.1 1104,1453.9 1105,1453.8 1106,1454.2 1106,1453.8 1106,1453.3 1107,1452.9 1108,1453.4 1108,1453.7 1108,1454.1 1109,1454.2 1110,1454.1 1110,1453.9 1110,1453.3 1111,1453.3 1112,1453.8 1112,1453.6 1112,1453.0 1113,1453.3 1114,1453.3 1114,1453.6 1114,1454.0 1115,1454.5 1116,1454.5 1116,1454.4 1116,1454.4 1117,1454.8"/>
<text x="557.4" y="1109.9" font-size="12.5" text-anchor="middle" font-weight="normal" fill="#c8414e" class="dj">LM</text>
<text x="912.2" y="1128.1" font-size="12.5" text-anchor="middle" font-weight="normal" fill="#c8414e" class="dj">UM</text>
<text class="dj" transform="translate(596.0,1404.5) rotate(-90)" x="0" y="0" font-size="12.5" text-anchor="middle" font-weight="bold" fill="#3a3ad0">52</text>
<text class="dj" transform="translate(697.3,1363.6) rotate(-90)" x="0" y="0" font-size="12.5" text-anchor="middle" font-weight="bold" fill="#3a3ad0">248</text>
<line x1="559.4" y1="1478.4" x2="559.4" y2="1485.4" stroke="#666" stroke-width="1.3" />
<text class="dj" transform="translate(563.7,1486.9) rotate(-90)" x="0" y="0" font-size="12.5" text-anchor="end" font-weight="normal" fill="#3c3c3c">1</text>
<line x1="620.8" y1="1478.4" x2="620.8" y2="1485.4" stroke="#666" stroke-width="1.3" />
<text class="dj" transform="translate(625.1,1486.9) rotate(-90)" x="0" y="0" font-size="12.5" text-anchor="end" font-weight="normal" fill="#3c3c3c">100</text>
<line x1="671.2" y1="1478.4" x2="671.2" y2="1485.4" stroke="#666" stroke-width="1.3" />
<text class="dj" transform="translate(675.5,1486.9) rotate(-90)" x="0" y="0" font-size="12.5" text-anchor="end" font-weight="normal" fill="#3c3c3c">200</text>
<line x1="714.4" y1="1478.4" x2="714.4" y2="1485.4" stroke="#666" stroke-width="1.3" />
<text class="dj" transform="translate(718.7,1486.9) rotate(-90)" x="0" y="0" font-size="12.5" text-anchor="end" font-weight="normal" fill="#3c3c3c">300</text>
<line x1="749.4" y1="1478.4" x2="749.4" y2="1485.4" stroke="#666" stroke-width="1.3" />
<text class="dj" transform="translate(753.7,1486.9) rotate(-90)" x="0" y="0" font-size="12.5" text-anchor="end" font-weight="normal" fill="#3c3c3c">400</text>
<line x1="779.2" y1="1478.4" x2="779.2" y2="1485.4" stroke="#666" stroke-width="1.3" />
<text class="dj" transform="translate(783.5,1486.9) rotate(-90)" x="0" y="0" font-size="12.5" text-anchor="end" font-weight="normal" fill="#3c3c3c">500</text>
<line x1="800.8" y1="1478.4" x2="800.8" y2="1485.4" stroke="#666" stroke-width="1.3" />
<text class="dj" transform="translate(805.1,1486.9) rotate(-90)" x="0" y="0" font-size="12.5" text-anchor="end" font-weight="normal" fill="#3c3c3c">600</text>
<line x1="818.0" y1="1478.4" x2="818.0" y2="1485.4" stroke="#666" stroke-width="1.3" />
<text class="dj" transform="translate(822.3,1486.9) rotate(-90)" x="0" y="0" font-size="12.5" text-anchor="end" font-weight="normal" fill="#3c3c3c">700</text>
<line x1="824.3" y1="1478.4" x2="824.3" y2="1485.4" stroke="#666" stroke-width="1.3" />
<text class="dj" transform="translate(828.6,1486.9) rotate(-90)" x="0" y="0" font-size="12.5" text-anchor="end" font-weight="normal" fill="#3c3c3c">800</text>
<line x1="830.7" y1="1478.4" x2="830.7" y2="1485.4" stroke="#666" stroke-width="1.3" />
<text class="dj" transform="translate(835.0,1486.9) rotate(-90)" x="0" y="0" font-size="12.5" text-anchor="end" font-weight="normal" fill="#3c3c3c">900</text>
<line x1="837.0" y1="1478.4" x2="837.0" y2="1485.4" stroke="#666" stroke-width="1.3" />
<text class="dj" transform="translate(841.3,1486.9) rotate(-90)" x="0" y="0" font-size="12.5" text-anchor="end" font-weight="normal" fill="#3c3c3c">1000</text>
<line x1="843.3" y1="1478.4" x2="843.3" y2="1485.4" stroke="#666" stroke-width="1.3" />
<text class="dj" transform="translate(847.6,1486.9) rotate(-90)" x="0" y="0" font-size="12.5" text-anchor="end" font-weight="normal" fill="#3c3c3c">1100</text>
<line x1="849.7" y1="1478.4" x2="849.7" y2="1485.4" stroke="#666" stroke-width="1.3" />
<text class="dj" transform="translate(854.0,1486.9) rotate(-90)" x="0" y="0" font-size="12.5" text-anchor="end" font-weight="normal" fill="#3c3c3c">1200</text>
<line x1="856.0" y1="1478.4" x2="856.0" y2="1485.4" stroke="#666" stroke-width="1.3" />
<text class="dj" transform="translate(860.3,1486.9) rotate(-90)" x="0" y="0" font-size="12.5" text-anchor="end" font-weight="normal" fill="#3c3c3c">1500</text>
<line x1="869.4" y1="1478.4" x2="869.4" y2="1485.4" stroke="#666" stroke-width="1.3" />
<text class="dj" transform="translate(873.7,1486.9) rotate(-90)" x="0" y="0" font-size="12.5" text-anchor="end" font-weight="normal" fill="#3c3c3c">2000</text>
<line x1="884.8" y1="1478.4" x2="884.8" y2="1485.4" stroke="#666" stroke-width="1.3" />
<text class="dj" transform="translate(889.1,1486.9) rotate(-90)" x="0" y="0" font-size="12.5" text-anchor="end" font-weight="normal" fill="#3c3c3c">3000</text>
<line x1="915.0" y1="1478.4" x2="915.0" y2="1485.4" stroke="#666" stroke-width="1.3" />
<text class="dj" transform="translate(919.3,1486.9) rotate(-90)" x="0" y="0" font-size="12.5" text-anchor="end" font-weight="normal" fill="#3c3c3c">6000</text>
<text x="279.0" y="1095.4" font-size="33" text-anchor="start" font-weight="normal" fill="#111" >m¹A-quant-seq</text>
<text x="279.0" y="1131.9" font-size="33" text-anchor="start" font-weight="normal" fill="#111" >-AlkB</text>
<text x="279.0" y="1168.4" font-size="33" text-anchor="start" font-weight="normal" fill="#111" >replicate1</text>
<text x="706.5" y="1289.2" font-size="33" text-anchor="middle" font-weight="normal" fill="#111" >248 bp</text>
<line x1="688.0" y1="1295.4" x2="688.0" y2="1327.9" stroke="#000" stroke-width="3.2" />
<polygon points="678.4,1325.9 688.0,1325.9 697.6,1325.9 688.0,1344.4" fill="#000"/>
<text transform="translate(204.5,1271.5) rotate(-90)" x="0" y="0" font-size="33" text-anchor="middle" font-weight="normal" fill="#111">RFU</text>
<rect x="1200.8" y="1049.4" width="847.2" height="427.1999999999998" fill="none" stroke="#a6a6a6" stroke-width="1.6"/>
<line x1="1192.8" y1="1051.8" x2="1198.8" y2="1051.8" stroke="#666" stroke-width="1.5" />
<text x="1191.3" y="1056.3" font-size="12.5" text-anchor="end" font-weight="normal" fill="#3c3c3c" class="dj">10405</text>
<line x1="1192.8" y1="1082.6" x2="1198.8" y2="1082.6" stroke="#666" stroke-width="1.5" />
<text x="1191.3" y="1087.1" font-size="12.5" text-anchor="end" font-weight="normal" fill="#3c3c3c" class="dj">10300</text>
<line x1="1192.8" y1="1111.9" x2="1198.8" y2="1111.9" stroke="#666" stroke-width="1.5" />
<text x="1191.3" y="1116.4" font-size="12.5" text-anchor="end" font-weight="normal" fill="#3c3c3c" class="dj">10200</text>
<line x1="1192.8" y1="1141.3" x2="1198.8" y2="1141.3" stroke="#666" stroke-width="1.5" />
<text x="1191.3" y="1145.8" font-size="12.5" text-anchor="end" font-weight="normal" fill="#3c3c3c" class="dj">10100</text>
<line x1="1192.8" y1="1170.6" x2="1198.8" y2="1170.6" stroke="#666" stroke-width="1.5" />
<text x="1191.3" y="1175.1" font-size="12.5" text-anchor="end" font-weight="normal" fill="#3c3c3c" class="dj">10000</text>
<line x1="1192.8" y1="1200.0" x2="1198.8" y2="1200.0" stroke="#666" stroke-width="1.5" />
<text x="1191.3" y="1204.5" font-size="12.5" text-anchor="end" font-weight="normal" fill="#3c3c3c" class="dj">9900</text>
<line x1="1192.8" y1="1229.3" x2="1198.8" y2="1229.3" stroke="#666" stroke-width="1.5" />
<text x="1191.3" y="1233.8" font-size="12.5" text-anchor="end" font-weight="normal" fill="#3c3c3c" class="dj">9800</text>
<line x1="1192.8" y1="1258.6" x2="1198.8" y2="1258.6" stroke="#666" stroke-width="1.5" />
<text x="1191.3" y="1263.1" font-size="12.5" text-anchor="end" font-weight="normal" fill="#3c3c3c" class="dj">9700</text>
<line x1="1192.8" y1="1288.0" x2="1198.8" y2="1288.0" stroke="#666" stroke-width="1.5" />
<text x="1191.3" y="1292.5" font-size="12.5" text-anchor="end" font-weight="normal" fill="#3c3c3c" class="dj">9600</text>
<line x1="1192.8" y1="1317.3" x2="1198.8" y2="1317.3" stroke="#666" stroke-width="1.5" />
<text x="1191.3" y="1321.8" font-size="12.5" text-anchor="end" font-weight="normal" fill="#3c3c3c" class="dj">9500</text>
<line x1="1192.8" y1="1346.7" x2="1198.8" y2="1346.7" stroke="#666" stroke-width="1.5" />
<text x="1191.3" y="1351.2" font-size="12.5" text-anchor="end" font-weight="normal" fill="#3c3c3c" class="dj">9400</text>
<line x1="1192.8" y1="1376.0" x2="1198.8" y2="1376.0" stroke="#666" stroke-width="1.5" />
<text x="1191.3" y="1380.5" font-size="12.5" text-anchor="end" font-weight="normal" fill="#3c3c3c" class="dj">9300</text>
<line x1="1192.8" y1="1405.3" x2="1198.8" y2="1405.3" stroke="#666" stroke-width="1.5" />
<text x="1191.3" y="1409.8" font-size="12.5" text-anchor="end" font-weight="normal" fill="#3c3c3c" class="dj">9200</text>
<line x1="1192.8" y1="1434.7" x2="1198.8" y2="1434.7" stroke="#666" stroke-width="1.5" />
<text x="1191.3" y="1439.2" font-size="12.5" text-anchor="end" font-weight="normal" fill="#3c3c3c" class="dj">9100</text>
<line x1="1192.8" y1="1476.6" x2="1198.8" y2="1476.6" stroke="#666" stroke-width="1.5" />
<text x="1191.3" y="1481.1" font-size="12.5" text-anchor="end" font-weight="normal" fill="#3c3c3c" class="dj">8954</text>
<line x1="1193.8" y1="1462.0" x2="1198.8" y2="1462.0" stroke="#777" stroke-width="1.4" />
<line x1="1580.0" y1="1049.4" x2="1580.0" y2="1476.6" stroke="#e08e98" stroke-width="1.2" stroke-dasharray="1.6,1.6"/>
<line x1="1768.2" y1="1049.4" x2="1768.2" y2="1476.6" stroke="#e08e98" stroke-width="1.2" stroke-dasharray="1.6,1.6"/>
<text x="1672.2" y="1068.3" font-size="12.5" text-anchor="middle" font-weight="normal" fill="#c8414e" class="dj">269</text>
<line x1="1482.6" y1="1393.6" x2="1482.6" y2="1453.6" stroke="#f0bfa8" stroke-width="1.1" />
<line x1="1500.8" y1="1393.6" x2="1500.8" y2="1453.6" stroke="#f0bfa8" stroke-width="1.1" />
<line x1="1524.3" y1="1393.6" x2="1524.3" y2="1453.6" stroke="#f0bfa8" stroke-width="1.1" />
<line x1="1557.4" y1="1393.6" x2="1557.4" y2="1453.6" stroke="#f0bfa8" stroke-width="1.1" />
<line x1="1566.6" y1="1393.6" x2="1566.6" y2="1453.6" stroke="#f0bfa8" stroke-width="1.1" />
<line x1="1756.6" y1="1393.6" x2="1756.6" y2="1453.6" stroke="#f0bfa8" stroke-width="1.1" />
<line x1="1842.6" y1="1393.6" x2="1842.6" y2="1453.6" stroke="#f0bfa8" stroke-width="1.1" />
<line x1="1853.6" y1="1393.6" x2="1853.6" y2="1453.6" stroke="#f0bfa8" stroke-width="1.1" />
<line x1="1201.8" y1="1453.6" x2="2047.0" y2="1453.6" stroke="#d98c90" stroke-width="1.2" />
<polyline fill="none" stroke="#505050" stroke-width="1.15" points="1202,1452.9 1202,1452.8 1203,1452.6 1203,1452.3 1204,1452.0 1204,1451.9 1205,1452.1 1205,1452.5 1206,1452.4 1206,1452.7 1207,1452.5 1207,1452.8 1208,1452.9 1208,1453.3 1209,1453.4 1209,1453.2 1210,1453.6 1210,1453.7 1211,1454.2 1211,1454.5 1212,1454.0 1212,1454.2 1213,1454.1 1213,1453.6 1214,1453.9 1214,1453.4 1215,1453.6 1215,1453.5 1216,1452.7 1216,1452.9 1217,1452.8 1217,1452.7 1218,1452.8 1218,1453.1 1219,1452.7 1219,1452.7 1220,1452.8 1220,1453.4 1221,1453.9 1221,1453.2 1222,1453.1 1222,1453.5 1223,1453.0 1223,1453.5 1224,1453.1 1224,1452.6 1225,1452.7 1225,1452.7 1226,1453.3 1226,1453.2 1227,1452.9 1227,1452.9 1228,1453.0 1228,1453.0 1229,1452.9 1229,1453.2 1230,1452.4 1230,1452.3 1231,1452.7 1231,1452.9 1232,1453.1 1232,1452.8 1233,1453.0 1233,1453.4 1234,1452.7 1234,1453.2 1235,1453.4 1235,1453.1 1236,1453.2 1236,1453.0 1237,1454.0 1237,1453.5 1238,1453.8 1238,1454.5 1239,1454.7 1239,1454.7 1240,1455.1 1240,1454.8 1241,1455.1 1241,1454.4 1242,1455.2 1242,1454.9 1243,1454.7 1243,1454.5 1244,1454.2 1244,1454.4 1245,1454.9 1245,1455.0 1246,1455.1 1246,1454.7 1247,1454.7 1247,1454.3 1248,1454.7 1248,1454.9 1249,1454.2 1249,1453.6 1250,1453.5 1250,1454.1 1251,1454.5 1251,1454.7 1252,1454.5 1252,1454.0 1253,1453.8 1253,1454.0 1254,1454.4 1254,1454.6 1255,1453.7 1255,1453.0 1256,1453.0 1256,1452.9 1257,1453.1 1257,1453.4 1258,1453.7 1258,1453.3 1259,1453.3 1259,1453.7 1260,1453.4 1260,1453.2 1261,1453.0 1261,1453.0 1262,1453.5 1262,1453.4 1263,1453.6 1263,1453.1 1264,1453.0 1264,1453.4 1265,1453.5 1265,1453.7 1266,1453.5 1266,1452.9 1267,1453.1 1267,1453.4 1268,1453.8 1268,1453.8 1269,1453.9 1269,1454.1 1270,1454.0 1270,1453.9 1271,1454.2 1271,1453.9 1272,1453.7 1272,1453.7 1273,1453.5 1273,1453.3 1274,1453.4 1274,1454.0 1275,1454.3 1275,1453.9 1276,1453.7 1276,1453.4 1277,1453.1 1277,1452.9 1278,1452.8 1278,1453.0 1279,1452.6 1279,1452.7 1280,1452.8 1280,1453.0 1281,1453.2 1281,1453.2 1282,1453.7 1282,1453.9 1283,1453.9 1283,1454.1 1284,1453.3 1284,1453.1 1285,1453.3 1285,1453.8 1286,1454.0 1286,1453.6 1287,1453.1 1287,1452.9 1288,1453.0 1288,1453.9 1289,1454.6 1289,1454.1 1290,1453.8 1290,1453.7 1291,1453.7 1291,1453.7 1292,1453.5 1292,1453.5 1293,1453.2 1293,1452.5 1294,1453.0 1294,1452.8 1295,1453.1 1295,1453.0 1296,1453.1 1296,1453.5 1297,1453.6 1297,1453.5 1298,1453.7 1298,1453.6 1299,1453.4 1299,1452.8 1300,1453.0 1300,1453.2 1301,1452.7 1301,1452.0 1302,1451.9 1302,1452.2 1303,1451.7 1303,1451.5 1304,1452.4 1304,1452.6 1305,1452.8 1305,1452.8 1306,1453.3 1306,1453.9 1307,1453.3 1307,1453.4 1308,1453.6 1308,1453.2 1309,1452.7 1309,1452.7 1310,1452.7 1310,1452.1 1311,1451.9 1311,1452.3 1312,1452.0 1312,1452.6 1313,1452.6 1313,1452.7 1314,1453.0 1314,1453.4 1315,1454.2 1315,1453.8 1316,1453.7 1316,1454.3 1317,1454.0 1317,1453.8 1318,1453.8 1318,1454.0 1319,1453.7 1319,1453.1 1320,1453.8 1320,1453.6 1321,1453.7 1321,1454.1 1322,1453.8 1322,1454.7 1323,1454.1 1323,1454.2 1324,1454.9 1324,1454.0 1325,1454.1 1325,1454.1 1326,1453.9 1326,1454.2 1327,1453.4 1327,1453.5 1328,1453.9 1328,1453.5 1329,1453.8 1329,1454.2 1330,1454.1 1330,1454.0 1331,1453.7 1331,1453.2 1332,1452.7 1332,1452.2 1333,1452.2 1333,1452.5 1334,1452.4 1334,1453.2 1335,1453.2 1335,1453.6 1336,1454.3 1336,1455.0 1337,1455.0 1337,1455.4 1338,1455.5 1338,1455.4 1339,1455.1 1339,1455.3 1340,1455.1 1340,1454.7 1341,1454.5 1341,1454.7 1342,1454.1 1342,1454.0 1343,1453.9 1343,1452.9 1344,1453.2 1344,1453.2 1345,1453.7 1345,1453.8 1346,1453.9 1346,1454.3 1347,1454.5 1347,1454.9 1348,1454.9 1348,1454.8 1349,1454.9 1349,1454.7 1350,1454.3 1350,1454.1 1351,1454.3 1351,1454.3 1352,1453.5 1352,1453.7 1353,1453.9 1353,1453.7 1354,1453.5 1354,1454.2 1355,1454.1 1355,1453.8 1356,1453.4 1356,1453.8 1357,1454.0 1357,1453.9 1358,1454.1 1358,1454.8 1359,1454.5 1359,1454.5 1360,1454.6 1360,1454.8 1361,1454.5 1361,1454.1 1362,1453.5 1362,1453.8 1363,1453.0 1363,1452.9 1364,1453.1 1364,1452.6 1365,1452.7 1365,1452.5 1366,1452.3 1366,1452.9 1367,1452.5 1367,1452.2 1368,1451.8 1368,1451.5 1369,1451.9 1369,1451.9 1370,1452.7 1370,1452.9 1371,1452.2 1371,1451.8 1372,1452.7 1372,1452.8 1373,1453.2 1373,1453.0 1374,1453.1 1374,1453.0 1375,1453.7 1375,1453.6 1376,1454.2 1376,1453.9 1377,1454.1 1377,1454.0 1378,1454.0 1378,1453.5 1379,1453.8 1379,1453.4 1380,1453.6 1380,1453.5 1381,1452.6 1381,1452.3 1382,1452.2 1382,1452.1 1383,1452.5 1383,1452.2 1384,1452.3 1384,1452.4 1385,1452.6 1385,1453.2 1386,1453.3 1386,1453.2 1387,1453.0 1387,1453.1 1388,1453.6 1388,1453.9 1389,1454.5 1389,1454.2 1390,1454.3 1390,1454.7 1391,1455.1 1391,1455.6 1392,1455.1 1392,1454.7 1393,1454.7 1393,1453.4 1394,1453.3 1394,1453.0 1395,1452.7 1395,1452.2 1396,1451.9 1396,1452.3 1397,1452.6 1397,1452.3 1398,1452.8 1398,1453.0 1399,1453.4 1399,1453.5 1400,1453.5 1400,1453.9 1401,1453.7 1401,1453.1 1402,1453.1 1402,1453.1 1403,1453.2 1403,1452.9 1404,1453.2 1404,1453.2 1405,1452.9 1405,1452.9 1406,1453.1 1406,1453.3 1407,1453.4 1407,1453.7 1408,1454.1 1408,1454.1 1409,1454.5 1409,1454.7 1410,1455.0 1410,1455.1 1411,1454.8 1411,1454.9 1412,1454.5 1412,1454.1 1413,1454.3 1413,1454.0 1414,1454.2 1414,1454.0 1415,1454.0 1415,1454.0 1416,1454.1 1416,1454.2 1417,1454.3 1417,1454.2 1418,1454.2 1418,1453.4 1419,1453.6 1419,1453.3 1420,1454.1 1420,1453.8 1421,1453.6 1421,1453.6 1422,1453.6 1422,1454.1 1423,1454.0 1423,1453.8 1424,1454.0 1424,1453.8 1425,1453.7 1425,1453.9 1426,1454.3 1426,1454.2 1427,1454.1 1427,1454.4 1428,1454.9 1428,1455.2 1429,1454.8 1429,1455.1 1430,1455.1 1430,1454.9 1431,1454.7 1431,1454.2 1432,1454.2 1432,1453.4 1433,1452.9 1433,1452.8 1434,1452.6 1434,1452.6 1435,1452.2 1435,1452.7 1436,1453.3 1436,1453.3 1437,1453.7 1437,1453.8 1438,1453.7 1438,1454.0 1439,1453.7 1439,1453.7 1440,1453.9 1440,1453.5 1441,1453.7 1441,1453.8 1442,1453.3 1442,1453.4 1443,1452.8 1443,1453.6 1444,1453.8 1444,1453.4 1445,1453.4 1445,1453.5 1446,1453.3 1446,1453.4 1447,1453.0 1447,1453.5 1448,1453.0 1448,1452.9 1449,1452.7 1449,1452.8 1450,1452.7 1450,1453.0 1451,1453.3 1451,1454.2 1452,1454.2 1452,1454.2 1453,1453.9 1453,1454.0 1454,1453.6 1454,1453.6 1455,1453.2 1455,1453.5 1456,1453.2 1456,1452.9 1457,1453.1 1457,1453.4 1458,1453.5 1458,1453.7 1459,1453.4 1459,1453.5 1460,1453.5 1460,1453.8 1461,1454.1 1461,1453.3 1462,1452.9 1462,1452.9 1463,1452.2 1463,1452.4 1464,1452.3 1464,1452.2 1465,1451.6 1465,1451.3 1466,1452.1 1466,1452.5 1467,1452.6 1467,1452.9 1468,1452.8 1468,1453.0 1469,1452.4 1469,1453.0 1470,1453.0 1470,1452.6 1471,1452.3 1471,1452.7 1472,1453.1 1472,1453.3 1473,1453.3 1473,1453.7 1474,1453.3 1474,1453.3 1475,1453.3 1475,1453.7 1476,1453.5 1476,1453.6 1477,1453.5 1477,1453.5 1478,1453.6 1478,1453.7 1479,1453.8 1479,1454.3 1480,1454.6 1480,1454.6 1481,1454.6 1481,1454.5 1482,1454.2 1482,1454.1 1483,1454.1 1483,1454.3 1484,1453.7 1484,1453.3 1485,1453.2 1485,1453.0 1486,1453.3 1486,1453.4 1487,1453.1 1487,1452.0 1488,1448.9 1488,1442.0 1489,1428.0 1489,1403.2 1490,1362.7 1490,1306.8 1491,1242.2 1491,1180.6 1492,1137.8 1492,1126.8 1493,1150.9 1493,1201.8 1494,1264.4 1494,1325.2 1495,1373.9 1495,1406.9 1496,1426.8 1496,1437.4 1497,1442.2 1497,1444.4 1498,1445.9 1498,1446.8 1499,1448.7 1499,1449.9 1500,1450.7 1500,1451.2 1501,1451.8 1501,1452.1 1502,1452.0 1502,1451.7 1503,1452.1 1503,1452.0 1504,1452.1 1504,1452.5 1505,1452.6 1505,1452.4 1506,1452.4 1506,1452.3 1507,1452.7 1507,1453.4 1508,1453.0 1508,1452.6 1509,1451.6 1509,1451.2 1510,1451.4 1510,1451.2 1511,1451.7 1511,1451.7 1512,1451.5 1512,1452.3 1513,1452.6 1513,1452.8 1514,1453.3 1514,1453.8 1515,1454.8 1515,1455.0 1516,1455.5 1516,1455.4 1517,1455.2 1517,1455.5 1518,1455.9 1518,1455.7 1519,1455.4 1519,1454.8 1520,1454.0 1520,1452.9 1521,1452.3 1521,1450.4 1522,1448.5 1522,1447.0 1523,1444.8 1523,1442.0 1524,1440.1 1524,1438.5 1525,1437.9 1525,1437.4 1526,1438.1 1526,1440.3 1527,1442.1 1527,1444.5 1528,1447.1 1528,1448.9 1529,1450.8 1529,1452.2 1530,1452.8 1530,1454.1 1531,1453.7 1531,1453.7 1532,1453.9 1532,1454.0 1533,1453.7 1533,1453.7 1534,1454.0 1534,1454.3 1535,1453.8 1535,1454.0 1536,1454.0 1536,1453.6 1537,1453.3 1537,1453.6 1538,1454.0 1538,1453.7 1539,1453.4 1539,1453.4 1540,1453.7 1540,1453.3 1541,1453.5 1541,1453.5 1542,1453.1 1542,1453.0 1543,1453.2 1543,1454.0 1544,1453.9 1544,1453.6 1545,1453.7 1545,1453.6 1546,1453.3 1546,1453.5 1547,1453.2 1547,1452.7 1548,1452.0 1548,1452.6 1549,1452.9 1549,1453.3 1550,1453.8 1550,1454.7 1551,1454.8 1551,1454.4 1552,1454.0 1552,1454.1 1553,1453.6 1553,1452.9 1554,1452.3 1554,1452.2 1555,1452.1 1555,1452.3 1556,1452.5 1556,1452.7 1557,1452.1 1557,1452.0 1558,1452.5 1558,1453.3 1559,1453.2 1559,1452.7 1560,1452.7 1560,1452.7 1561,1453.2 1561,1454.0 1562,1454.3 1562,1454.0 1563,1453.3 1563,1453.2 1564,1453.3 1564,1453.7 1565,1454.0 1565,1453.8 1566,1453.7 1566,1453.6 1567,1453.5 1567,1453.8 1568,1453.9 1568,1453.6 1569,1453.0 1569,1452.5 1570,1452.2 1570,1452.2 1571,1452.3 1571,1452.0 1572,1450.3 1572,1448.9 1573,1447.0 1573,1444.0 1574,1440.5 1574,1437.6 1575,1435.1 1575,1434.6 1576,1435.7 1576,1438.7 1577,1441.6 1577,1444.5 1578,1446.6 1578,1448.8 1579,1449.6 1579,1449.8 1580,1449.4 1580,1449.8 1581,1449.6 1581,1449.9 1582,1449.4 1582,1450.0 1583,1449.5 1583,1449.3 1584,1449.2 1584,1448.8 1585,1447.7 1585,1447.2 1586,1446.0 1586,1445.6 1587,1443.8 1587,1442.8 1588,1442.2 1588,1441.2 1589,1440.0 1589,1439.6 1590,1438.8 1590,1438.4 1591,1437.6 1591,1437.3 1592,1436.4 1592,1435.6 1593,1434.8 1593,1434.6 1594,1433.0 1594,1432.0 1595,1430.3 1595,1428.7 1596,1427.3 1596,1426.3 1597,1424.9 1597,1423.2 1598,1421.3 1598,1420.5 1599,1419.3 1599,1418.6 1600,1417.2 1600,1416.3 1601,1415.5 1601,1414.0 1602,1414.0 1602,1412.8 1603,1410.8 1603,1409.4 1604,1407.6 1604,1406.6 1605,1405.2 1605,1403.2 1606,1402.5 1606,1400.3 1607,1399.0 1607,1397.9 1608,1396.2 1608,1395.2 1609,1394.2 1609,1393.0 1610,1392.1 1610,1390.6 1611,1389.4 1611,1388.6 1612,1387.9 1612,1387.2 1613,1386.4 1613,1385.9 1614,1385.0 1614,1385.0 1615,1384.6 1615,1383.7 1616,1383.0 1616,1382.9 1617,1382.6 1617,1382.3 1618,1381.5 1618,1381.9 1619,1381.3 1619,1381.1 1620,1381.6 1620,1382.3 1621,1382.2 1621,1382.5 1622,1382.6 1622,1382.5 1623,1382.5 1623,1382.5 1624,1382.5 1624,1381.8 1625,1381.5 1625,1381.5 1626,1381.9 1626,1382.2 1627,1382.8 1627,1382.4 1628,1382.7 1628,1383.0 1629,1383.8 1629,1384.0 1630,1383.5 1630,1383.4 1631,1383.5 1631,1383.7 1632,1384.3 1632,1385.0 1633,1385.3 1633,1385.7 1634,1386.0 1634,1386.8 1635,1387.2 1635,1387.4 1636,1387.8 1636,1388.4 1637,1388.6 1637,1389.3 1638,1389.3 1638,1389.5 1639,1390.2 1639,1390.9 1640,1391.4 1640,1392.3 1641,1393.1 1641,1393.9 1642,1393.9 1642,1395.1 1643,1395.2 1643,1395.8 1644,1395.9 1644,1396.7 1645,1397.2 1645,1397.1 1646,1397.2 1646,1398.1 1647,1398.7 1647,1399.6 1648,1400.4 1648,1401.0 1649,1401.3 1649,1401.5 1650,1402.2 1650,1402.8 1651,1403.7 1651,1404.5 1652,1405.5 1652,1405.9 1653,1407.0 1653,1407.5 1654,1407.9 1654,1408.7 1655,1409.5 1655,1409.4 1656,1409.3 1656,1409.9 1657,1410.5 1657,1410.9 1658,1412.1 1658,1413.3 1659,1413.9 1659,1414.6 1660,1415.7 1660,1416.9 1661,1417.6 1661,1417.8 1662,1418.7 1662,1418.3 1663,1418.4 1663,1418.7 1664,1419.2 1664,1419.3 1665,1419.1 1665,1419.6 1666,1420.4 1666,1421.2 1667,1422.8 1667,1423.6 1668,1424.1 1668,1424.6 1669,1425.4 1669,1426.7 1670,1427.5 1670,1427.9 1671,1427.8 1671,1428.3 1672,1428.5 1672,1429.0 1673,1429.3 1673,1429.8 1674,1430.4 1674,1430.8 1675,1431.0 1675,1431.8 1676,1431.9 1676,1432.2 1677,1433.0 1677,1433.8 1678,1434.2 1678,1434.3 1679,1434.2 1679,1434.9 1680,1435.4 1680,1435.7 1681,1436.5 1681,1436.9 1682,1436.8 1682,1437.5 1683,1438.1 1683,1439.0 1684,1438.9 1684,1439.1 1685,1439.4 1685,1439.7 1686,1439.4 1686,1440.5 1687,1440.8 1687,1440.7 1688,1440.0 1688,1440.9 1689,1441.0 1689,1441.7 1690,1442.0 1690,1443.1 1691,1443.0 1691,1443.3 1692,1443.9 1692,1444.7 1693,1444.8 1693,1445.3 1694,1445.1 1694,1445.3 1695,1445.1 1695,1445.0 1696,1445.2 1696,1445.5 1697,1446.1 1697,1446.2 1698,1446.7 1698,1447.1 1699,1447.1 1699,1447.6 1700,1448.0 1700,1448.3 1701,1448.1 1701,1447.8 1702,1448.2 1702,1448.2 1703,1448.3 1703,1448.3 1704,1448.4 1704,1448.8 1705,1448.7 1705,1449.1 1706,1449.7 1706,1449.7 1707,1449.4 1707,1449.3 1708,1449.5 1708,1449.9 1709,1450.1 1709,1450.7 1710,1450.8 1710,1450.9 1711,1451.1 1711,1450.9 1712,1451.2 1712,1451.4 1713,1450.8 1713,1450.6 1714,1450.4 1714,1450.7 1715,1450.2 1715,1450.2 1716,1451.0 1716,1451.1 1717,1451.4 1717,1452.2 1718,1452.3 1718,1452.4 1719,1452.9 1719,1453.4 1720,1453.5 1720,1453.4 1721,1453.7 1721,1453.6 1722,1453.6 1722,1453.5 1723,1453.7 1723,1453.2 1724,1453.0 1724,1453.4 1725,1453.7 1725,1453.9 1726,1454.1 1726,1453.8 1727,1453.6 1727,1453.2 1728,1453.1 1728,1453.0 1729,1452.8 1729,1452.4 1730,1452.3 1730,1452.3 1731,1452.3 1731,1452.9 1732,1453.2 1732,1453.4 1733,1454.0 1733,1454.0 1734,1454.4 1734,1454.6 1735,1454.6 1735,1454.6 1736,1454.1 1736,1453.9 1737,1453.9 1737,1453.5 1738,1453.4 1738,1452.9 1739,1452.7 1739,1452.1 1740,1452.4 1740,1452.7 1741,1452.8 1741,1452.9 1742,1453.3 1742,1453.7 1743,1453.8 1743,1454.0 1744,1454.7 1744,1454.9 1745,1454.7 1745,1454.6 1746,1454.8 1746,1454.9 1747,1454.5 1747,1454.3 1748,1454.1 1748,1453.8 1749,1453.6 1749,1454.5 1750,1454.8 1750,1454.8 1751,1454.2 1751,1454.5 1752,1454.8 1752,1455.1 1753,1455.3 1753,1455.1 1754,1454.1 1754,1454.1 1755,1453.5 1755,1453.6 1756,1453.2 1756,1453.6 1757,1453.6 1757,1453.6 1758,1453.7 1758,1453.7 1759,1453.8 1759,1453.9 1760,1454.0 1760,1453.9 1761,1453.4 1761,1453.0 1762,1452.8 1762,1452.7 1763,1452.9 1763,1452.7 1764,1453.2 1764,1453.3 1765,1453.5 1765,1453.7 1766,1453.6 1766,1453.7 1767,1453.5 1767,1453.2 1768,1452.9 1768,1452.3 1769,1452.2 1769,1451.9 1770,1452.2 1770,1452.2 1771,1452.5 1771,1452.0 1772,1452.1 1772,1452.6 1773,1453.0 1773,1452.6 1774,1452.7 1774,1452.5 1775,1452.9 1775,1452.2 1776,1453.1 1776,1453.2 1777,1453.4 1777,1453.4 1778,1453.7 1778,1454.3 1779,1454.3 1779,1453.9 1780,1454.4 1780,1454.6 1781,1454.1 1781,1453.7 1782,1453.8 1782,1454.5 1783,1454.4 1783,1454.3 1784,1454.8 1784,1454.4 1785,1453.9 1785,1454.4 1786,1454.7 1786,1454.6 1787,1454.0 1787,1454.0 1788,1453.9 1788,1454.0 1789,1454.8 1789,1455.3 1790,1455.5 1790,1455.4 1791,1455.1 1791,1454.6 1792,1454.5 1792,1454.4 1793,1454.1 1793,1453.5 1794,1453.7 1794,1452.9 1795,1452.8 1795,1453.2 1796,1453.3 1796,1453.6 1797,1454.0 1797,1453.9 1798,1453.8 1798,1453.7 1799,1453.9 1799,1454.0 1800,1453.3 1800,1453.5 1801,1453.3 1801,1452.9 1802,1453.1 1802,1453.3 1803,1453.2 1803,1452.9 1804,1453.1 1804,1453.8 1805,1453.8 1805,1453.8 1806,1454.4 1806,1454.3 1807,1454.1 1807,1454.0 1808,1454.5 1808,1454.2 1809,1454.1 1809,1453.9 1810,1454.0 1810,1454.2 1811,1453.7 1811,1453.9 1812,1454.0 1812,1454.1 1813,1454.1 1813,1454.5 1814,1454.4 1814,1453.5 1815,1453.1 1815,1454.0 1816,1454.1 1816,1454.0 1817,1454.3 1817,1454.4 1818,1453.7 1818,1454.4 1819,1455.1 1819,1454.9 1820,1454.2 1820,1454.3 1821,1454.0 1821,1453.8 1822,1453.8 1822,1454.0 1823,1453.7 1823,1453.8 1824,1453.6 1824,1453.9 1825,1453.9 1825,1453.8 1826,1453.9 1826,1453.6 1827,1453.6 1827,1453.7 1828,1453.8 1828,1453.9 1829,1454.3 1829,1454.6 1830,1454.5 1830,1454.1 1831,1454.3 1831,1454.2 1832,1453.4 1832,1453.1 1833,1453.3 1833,1452.7 1834,1452.1 1834,1452.2 1835,1452.6 1835,1452.2 1836,1452.4 1836,1453.4 1837,1453.2 1837,1453.1 1838,1453.1 1838,1453.2 1839,1453.2 1839,1452.9 1840,1453.2 1840,1451.5 1841,1446.9 1841,1437.7 1842,1419.1 1842,1387.4 1843,1339.6 1843,1277.8 1844,1210.9 1844,1153.6 1845,1121.8 1845,1125.3 1846,1163.0 1846,1224.0 1847,1291.0 1847,1350.5 1848,1395.4 1848,1424.1 1849,1440.4 1849,1448.7 1850,1452.3 1850,1453.7 1851,1453.9 1851,1453.6 1852,1454.0 1852,1454.1 1853,1453.9 1853,1454.0 1854,1453.9 1854,1454.2 1855,1453.7 1855,1453.7 1856,1453.7 1856,1453.5 1857,1453.4 1857,1453.1 1858,1453.0 1858,1453.5 1859,1453.3 1859,1453.5 1860,1453.5 1860,1453.6 1861,1453.5 1861,1453.3 1862,1453.7 1862,1453.7 1863,1453.1 1863,1452.5 1864,1453.0 1864,1452.7 1865,1453.1 1865,1453.3 1866,1453.1 1866,1452.6 1867,1452.7 1867,1452.2 1868,1453.1 1868,1453.3 1869,1453.6 1869,1453.4 1870,1453.1 1870,1453.3 1871,1453.8 1871,1454.1 1872,1454.9 1872,1454.3 1873,1453.8 1873,1453.7 1874,1453.4 1874,1453.3 1875,1452.8 1875,1453.0 1876,1452.9 1876,1453.0 1877,1453.7 1877,1453.5 1878,1453.6 1878,1454.4 1879,1454.4 1879,1454.9 1880,1454.8 1880,1454.5 1881,1454.4 1881,1454.2 1882,1454.2 1882,1453.7 1883,1453.8 1883,1453.6 1884,1453.9 1884,1454.3 1885,1454.5 1885,1454.6 1886,1454.3 1886,1454.5 1887,1454.8 1887,1454.3 1888,1454.5 1888,1454.2 1889,1453.9 1889,1453.6 1890,1453.5 1890,1453.6 1891,1453.7 1891,1454.1 1892,1454.0 1892,1454.1 1893,1454.2 1893,1453.9 1894,1453.7 1894,1453.3 1895,1453.2 1895,1453.0 1896,1453.2 1896,1453.5 1897,1453.6 1897,1453.3 1898,1453.5 1898,1453.7 1899,1453.9 1899,1453.6 1900,1453.6 1900,1453.5 1901,1453.2 1901,1453.2 1902,1453.8 1902,1454.1 1903,1453.8 1903,1454.2 1904,1454.4 1904,1455.1 1905,1454.9 1905,1455.1 1906,1455.1 1906,1454.7 1907,1454.7 1907,1454.9 1908,1454.5 1908,1454.8 1909,1453.5 1909,1453.1 1910,1452.9 1910,1452.7 1911,1452.5 1911,1452.3 1912,1452.0 1912,1452.2 1913,1451.8 1913,1452.1 1914,1452.0 1914,1452.1 1915,1451.7 1915,1451.3 1916,1451.1 1916,1451.5 1917,1451.2 1917,1451.6 1918,1451.5 1918,1452.1 1919,1451.9 1919,1453.2 1920,1453.5 1920,1453.4 1921,1453.3 1921,1453.8 1922,1453.4 1922,1453.9 1923,1454.0 1923,1453.4 1924,1453.5 1924,1453.8 1925,1454.3 1925,1455.0 1926,1454.7 1926,1455.4 1927,1455.4 1927,1455.1 1928,1455.3 1928,1454.9 1929,1455.0 1929,1454.8 1930,1454.3 1930,1454.4 1931,1453.6 1931,1453.9 1932,1454.2 1932,1454.7 1933,1454.5 1933,1454.3 1934,1454.2 1934,1454.1 1935,1453.8 1935,1454.2 1936,1453.9 1936,1453.6 1937,1453.1 1937,1453.2 1938,1453.0 1938,1452.7 1939,1452.8 1939,1452.6 1940,1452.2 1940,1452.1 1941,1452.0 1941,1452.2 1942,1451.7 1942,1451.6 1943,1452.3 1943,1452.3 1944,1452.4 1944,1452.4 1945,1452.2 1945,1452.4 1946,1452.8 1946,1453.5 1947,1453.6 1947,1453.4 1948,1453.1 1948,1453.1 1949,1453.4 1949,1453.2 1950,1452.7 1950,1452.1 1951,1451.7 1951,1451.9 1952,1451.6 1952,1451.5 1953,1451.7 1953,1451.9 1954,1451.9 1954,1452.2 1955,1452.4 1955,1452.5 1956,1452.5 1956,1452.5 1957,1452.3 1957,1452.3 1958,1452.2 1958,1452.5 1959,1452.9 1959,1452.9 1960,1452.5 1960,1452.4 1961,1452.5 1961,1453.1 1962,1453.3 1962,1453.4 1963,1452.9 1963,1452.7 1964,1453.0 1964,1453.1 1965,1453.9 1965,1454.0 1966,1453.8 1966,1453.9 1967,1453.3 1967,1453.6 1968,1453.2 1968,1453.0 1969,1453.5 1969,1452.7 1970,1453.1 1970,1452.4 1971,1452.1 1971,1452.3 1972,1452.7 1972,1452.9 1973,1453.1 1973,1453.0 1974,1452.5 1974,1451.6 1975,1452.8 1975,1452.6 1976,1452.6 1976,1452.9 1977,1453.2 1977,1453.2 1978,1452.7 1978,1453.4 1979,1453.6 1979,1452.8 1980,1453.4 1980,1453.9 1981,1453.3 1981,1453.0 1982,1453.1 1982,1453.8 1983,1454.1 1983,1454.6 1984,1454.4 1984,1454.0 1985,1453.7 1985,1453.8 1986,1454.1 1986,1453.6 1987,1453.5 1987,1453.2 1988,1452.5 1988,1453.0 1989,1453.1 1989,1453.1 1990,1453.5 1990,1453.3 1991,1453.7 1991,1453.3 1992,1452.9 1992,1453.4 1993,1453.1 1993,1453.1 1994,1453.2 1994,1453.3 1995,1453.2 1995,1453.3 1996,1453.4 1996,1453.5 1997,1453.4 1997,1453.5 1998,1453.9 1998,1453.2 1999,1452.9 1999,1453.3 2000,1453.0 2000,1452.9 2001,1453.5 2001,1453.8 2002,1453.8 2002,1453.8 2003,1453.9 2003,1454.3 2004,1454.0 2004,1454.3 2005,1454.3 2005,1453.9 2006,1453.4 2006,1453.2 2007,1452.3 2007,1452.7 2008,1452.5 2008,1452.9 2009,1452.9 2009,1452.8 2010,1453.1 2010,1453.6 2011,1454.1 2011,1454.5 2012,1454.5 2012,1454.3 2013,1453.8 2013,1453.7 2014,1453.9 2014,1453.5 2015,1453.3 2015,1453.4 2016,1453.2 2016,1453.9 2017,1453.8 2017,1454.2 2018,1454.1 2018,1453.9 2019,1454.5 2019,1454.4 2020,1454.4 2020,1454.7 2021,1454.3 2021,1454.3 2022,1454.4 2022,1454.4 2023,1454.6 2023,1454.6 2024,1454.7 2024,1453.8 2025,1453.7 2025,1454.0 2026,1453.8 2026,1453.5 2027,1454.0 2027,1454.2 2028,1453.9 2028,1453.4 2029,1454.5 2029,1454.2 2030,1453.4 2030,1453.7 2031,1453.8 2031,1453.1 2032,1453.0 2032,1452.5 2033,1452.8 2033,1452.7 2034,1453.3 2034,1453.6 2035,1453.9 2035,1453.7 2036,1453.8 2036,1453.9 2037,1454.2 2037,1454.3 2038,1453.7 2038,1453.2 2039,1453.6 2039,1453.2 2040,1453.5 2040,1454.0 2041,1453.5 2041,1453.5 2042,1453.4 2042,1454.2 2043,1454.2 2043,1454.1 2044,1453.9 2044,1453.7 2045,1453.5 2045,1453.9 2046,1454.0 2046,1454.2"/>
<text x="1490.2" y="1118.7" font-size="12.5" text-anchor="middle" font-weight="normal" fill="#c8414e" class="dj">LM</text>
<text x="1843.0" y="1111.1" font-size="12.5" text-anchor="middle" font-weight="normal" fill="#c8414e" class="dj">UM</text>
<text class="dj" transform="translate(1530.3,1416.0) rotate(-90)" x="0" y="0" font-size="12.5" text-anchor="middle" font-weight="bold" fill="#3a3ad0">55</text>
<text class="dj" transform="translate(1623.9,1357.6) rotate(-90)" x="0" y="0" font-size="12.5" text-anchor="middle" font-weight="bold" fill="#3a3ad0">236</text>
<line x1="1491.2" y1="1478.6" x2="1491.2" y2="1485.6" stroke="#666" stroke-width="1.3" />
<text class="dj" transform="translate(1495.5,1487.1) rotate(-90)" x="0" y="0" font-size="12.5" text-anchor="end" font-weight="normal" fill="#3c3c3c">1</text>
<line x1="1553.6" y1="1478.6" x2="1553.6" y2="1485.6" stroke="#666" stroke-width="1.3" />
<text class="dj" transform="translate(1557.9,1487.1) rotate(-90)" x="0" y="0" font-size="12.5" text-anchor="end" font-weight="normal" fill="#3c3c3c">100</text>
<line x1="1602.6" y1="1478.6" x2="1602.6" y2="1485.6" stroke="#666" stroke-width="1.3" />
<text class="dj" transform="translate(1606.9,1487.1) rotate(-90)" x="0" y="0" font-size="12.5" text-anchor="end" font-weight="normal" fill="#3c3c3c">200</text>
<line x1="1645.8" y1="1478.6" x2="1645.8" y2="1485.6" stroke="#666" stroke-width="1.3" />
<text class="dj" transform="translate(1650.1,1487.1) rotate(-90)" x="0" y="0" font-size="12.5" text-anchor="end" font-weight="normal" fill="#3c3c3c">300</text>
<line x1="1679.8" y1="1478.6" x2="1679.8" y2="1485.6" stroke="#666" stroke-width="1.3" />
<text class="dj" transform="translate(1684.1,1487.1) rotate(-90)" x="0" y="0" font-size="12.5" text-anchor="end" font-weight="normal" fill="#3c3c3c">400</text>
<line x1="1710.6" y1="1478.6" x2="1710.6" y2="1485.6" stroke="#666" stroke-width="1.3" />
<text class="dj" transform="translate(1714.9,1487.1) rotate(-90)" x="0" y="0" font-size="12.5" text-anchor="end" font-weight="normal" fill="#3c3c3c">500</text>
<line x1="1732.6" y1="1478.6" x2="1732.6" y2="1485.6" stroke="#666" stroke-width="1.3" />
<text class="dj" transform="translate(1736.9,1487.1) rotate(-90)" x="0" y="0" font-size="12.5" text-anchor="end" font-weight="normal" fill="#3c3c3c">600</text>
<line x1="1750.0" y1="1478.6" x2="1750.0" y2="1485.6" stroke="#666" stroke-width="1.3" />
<text class="dj" transform="translate(1754.3,1487.1) rotate(-90)" x="0" y="0" font-size="12.5" text-anchor="end" font-weight="normal" fill="#3c3c3c">700</text>
<line x1="1756.0" y1="1478.6" x2="1756.0" y2="1485.6" stroke="#666" stroke-width="1.3" />
<text class="dj" transform="translate(1760.3,1487.1) rotate(-90)" x="0" y="0" font-size="12.5" text-anchor="end" font-weight="normal" fill="#3c3c3c">800</text>
<line x1="1762.0" y1="1478.6" x2="1762.0" y2="1485.6" stroke="#666" stroke-width="1.3" />
<text class="dj" transform="translate(1766.3,1487.1) rotate(-90)" x="0" y="0" font-size="12.5" text-anchor="end" font-weight="normal" fill="#3c3c3c">900</text>
<line x1="1768.0" y1="1478.6" x2="1768.0" y2="1485.6" stroke="#666" stroke-width="1.3" />
<text class="dj" transform="translate(1772.3,1487.1) rotate(-90)" x="0" y="0" font-size="12.5" text-anchor="end" font-weight="normal" fill="#3c3c3c">1000</text>
<line x1="1774.0" y1="1478.6" x2="1774.0" y2="1485.6" stroke="#666" stroke-width="1.3" />
<text class="dj" transform="translate(1778.3,1487.1) rotate(-90)" x="0" y="0" font-size="12.5" text-anchor="end" font-weight="normal" fill="#3c3c3c">1100</text>
<line x1="1780.0" y1="1478.6" x2="1780.0" y2="1485.6" stroke="#666" stroke-width="1.3" />
<text class="dj" transform="translate(1784.3,1487.1) rotate(-90)" x="0" y="0" font-size="12.5" text-anchor="end" font-weight="normal" fill="#3c3c3c">1200</text>
<line x1="1786.0" y1="1478.6" x2="1786.0" y2="1485.6" stroke="#666" stroke-width="1.3" />
<text class="dj" transform="translate(1790.3,1487.1) rotate(-90)" x="0" y="0" font-size="12.5" text-anchor="end" font-weight="normal" fill="#3c3c3c">1500</text>
<line x1="1799.8" y1="1478.6" x2="1799.8" y2="1485.6" stroke="#666" stroke-width="1.3" />
<text class="dj" transform="translate(1804.1,1487.1) rotate(-90)" x="0" y="0" font-size="12.5" text-anchor="end" font-weight="normal" fill="#3c3c3c">2000</text>
<line x1="1815.2" y1="1478.6" x2="1815.2" y2="1485.6" stroke="#666" stroke-width="1.3" />
<text class="dj" transform="translate(1819.5,1487.1) rotate(-90)" x="0" y="0" font-size="12.5" text-anchor="end" font-weight="normal" fill="#3c3c3c">3000</text>
<line x1="1845.0" y1="1478.6" x2="1845.0" y2="1485.6" stroke="#666" stroke-width="1.3" />
<text class="dj" transform="translate(1849.3,1487.1) rotate(-90)" x="0" y="0" font-size="12.5" text-anchor="end" font-weight="normal" fill="#3c3c3c">6000</text>
<text x="1210.4" y="1096.0" font-size="33" text-anchor="start" font-weight="normal" fill="#111" >m¹A-quant-seq</text>
<text x="1210.4" y="1132.5" font-size="33" text-anchor="start" font-weight="normal" fill="#111" >+AlkB</text>
<text x="1210.4" y="1169.0" font-size="33" text-anchor="start" font-weight="normal" fill="#111" >replicate1</text>
<text x="1634.7" y="1282.2" font-size="33" text-anchor="middle" font-weight="normal" fill="#111" >236 bp</text>
<line x1="1617.4" y1="1289.4" x2="1617.4" y2="1321.9" stroke="#000" stroke-width="3.2" />
<polygon points="1607.8,1319.9 1617.4,1319.9 1627.0,1319.9 1617.4,1338.4" fill="#000"/>
<rect x="259.8" y="1536.8" width="854.5" height="429.60000000000014" fill="none" stroke="#a6a6a6" stroke-width="1.6"/>
<line x1="251.8" y1="1539.2" x2="257.8" y2="1539.2" stroke="#666" stroke-width="1.5" />
<text x="250.3" y="1543.7" font-size="12.5" text-anchor="end" font-weight="normal" fill="#3c3c3c" class="dj">12719</text>
<line x1="251.8" y1="1562.2" x2="257.8" y2="1562.2" stroke="#666" stroke-width="1.5" />
<text x="250.3" y="1566.7" font-size="12.5" text-anchor="end" font-weight="normal" fill="#3c3c3c" class="dj">12600</text>
<line x1="251.8" y1="1601.6" x2="257.8" y2="1601.6" stroke="#666" stroke-width="1.5" />
<text x="250.3" y="1606.1" font-size="12.5" text-anchor="end" font-weight="normal" fill="#3c3c3c" class="dj">12400</text>
<line x1="251.8" y1="1641.3" x2="257.8" y2="1641.3" stroke="#666" stroke-width="1.5" />
<text x="250.3" y="1645.8" font-size="12.5" text-anchor="end" font-weight="normal" fill="#3c3c3c" class="dj">12200</text>
<line x1="251.8" y1="1681.0" x2="257.8" y2="1681.0" stroke="#666" stroke-width="1.5" />
<text x="250.3" y="1685.5" font-size="12.5" text-anchor="end" font-weight="normal" fill="#3c3c3c" class="dj">12000</text>
<line x1="251.8" y1="1720.6" x2="257.8" y2="1720.6" stroke="#666" stroke-width="1.5" />
<text x="250.3" y="1725.1" font-size="12.5" text-anchor="end" font-weight="normal" fill="#3c3c3c" class="dj">11800</text>
<line x1="251.8" y1="1760.3" x2="257.8" y2="1760.3" stroke="#666" stroke-width="1.5" />
<text x="250.3" y="1764.8" font-size="12.5" text-anchor="end" font-weight="normal" fill="#3c3c3c" class="dj">11600</text>
<line x1="251.8" y1="1800.0" x2="257.8" y2="1800.0" stroke="#666" stroke-width="1.5" />
<text x="250.3" y="1804.5" font-size="12.5" text-anchor="end" font-weight="normal" fill="#3c3c3c" class="dj">11400</text>
<line x1="251.8" y1="1839.7" x2="257.8" y2="1839.7" stroke="#666" stroke-width="1.5" />
<text x="250.3" y="1844.2" font-size="12.5" text-anchor="end" font-weight="normal" fill="#3c3c3c" class="dj">11200</text>
<line x1="251.8" y1="1879.4" x2="257.8" y2="1879.4" stroke="#666" stroke-width="1.5" />
<text x="250.3" y="1883.9" font-size="12.5" text-anchor="end" font-weight="normal" fill="#3c3c3c" class="dj">11000</text>
<line x1="251.8" y1="1919.0" x2="257.8" y2="1919.0" stroke="#666" stroke-width="1.5" />
<text x="250.3" y="1923.5" font-size="12.5" text-anchor="end" font-weight="normal" fill="#3c3c3c" class="dj">10800</text>
<line x1="251.8" y1="1965.4" x2="257.8" y2="1965.4" stroke="#666" stroke-width="1.5" />
<text x="250.3" y="1969.9" font-size="12.5" text-anchor="end" font-weight="normal" fill="#3c3c3c" class="dj">10561</text>
<line x1="252.8" y1="1954.4" x2="257.8" y2="1954.4" stroke="#777" stroke-width="1.4" />
<line x1="641.4" y1="1536.8" x2="641.4" y2="1966.4" stroke="#e08e98" stroke-width="1.2" stroke-dasharray="1.6,1.6"/>
<line x1="830.6" y1="1536.8" x2="830.6" y2="1966.4" stroke="#e08e98" stroke-width="1.2" stroke-dasharray="1.6,1.6"/>
<text x="733.6" y="1554.5" font-size="12.5" text-anchor="middle" font-weight="normal" fill="#c8414e" class="dj">279</text>
<line x1="547.8" y1="1885.8" x2="547.8" y2="1943.4" stroke="#f0bfa8" stroke-width="1.1" />
<line x1="564.6" y1="1885.8" x2="564.6" y2="1943.4" stroke="#f0bfa8" stroke-width="1.1" />
<line x1="599.2" y1="1885.8" x2="599.2" y2="1943.4" stroke="#f0bfa8" stroke-width="1.1" />
<line x1="840.6" y1="1885.8" x2="840.6" y2="1943.4" stroke="#f0bfa8" stroke-width="1.1" />
<line x1="903.0" y1="1885.8" x2="903.0" y2="1943.4" stroke="#f0bfa8" stroke-width="1.1" />
<line x1="918.4" y1="1885.8" x2="918.4" y2="1943.4" stroke="#f0bfa8" stroke-width="1.1" />
<line x1="260.8" y1="1943.4" x2="1113.3" y2="1943.4" stroke="#d98c90" stroke-width="1.2" />
<polyline fill="none" stroke="#505050" stroke-width="1.15" points="261,1942.1 261,1942.2 262,1942.6 262,1943.1 263,1942.6 263,1942.6 264,1942.7 264,1943.1 265,1942.8 265,1942.6 266,1942.1 266,1942.1 267,1941.8 267,1942.1 268,1942.4 268,1943.2 269,1942.7 269,1942.9 270,1942.8 270,1943.3 271,1943.6 271,1943.3 272,1943.4 272,1943.3 273,1943.1 273,1943.8 274,1943.8 274,1943.7 275,1943.8 275,1943.5 276,1943.8 276,1943.7 277,1944.0 277,1944.0 278,1943.7 278,1943.4 279,1943.4 279,1943.7 280,1943.8 280,1943.8 281,1943.9 281,1943.7 282,1943.8 282,1944.2 283,1944.0 283,1944.1 284,1943.5 284,1943.4 285,1943.2 285,1943.1 286,1942.7 286,1943.2 287,1942.9 287,1943.2 288,1943.9 288,1943.8 289,1943.1 289,1943.8 290,1944.4 290,1945.2 291,1944.8 291,1945.3 292,1945.1 292,1943.8 293,1943.8 293,1944.8 294,1944.4 294,1943.9 295,1943.7 295,1943.7 296,1943.3 296,1943.7 297,1944.5 297,1944.7 298,1944.1 298,1943.8 299,1943.8 299,1943.6 300,1943.6 300,1943.7 301,1943.7 301,1943.5 302,1943.8 302,1944.1 303,1944.7 303,1944.6 304,1944.8 304,1944.6 305,1944.2 305,1943.7 306,1943.8 306,1943.7 307,1943.9 307,1943.6 308,1943.7 308,1943.2 309,1943.3 309,1943.3 310,1943.6 310,1943.2 311,1942.9 311,1942.5 312,1942.0 312,1942.1 313,1942.5 313,1942.8 314,1943.2 314,1943.4 315,1944.0 315,1944.0 316,1943.5 316,1943.8 317,1943.6 317,1943.3 318,1942.6 318,1942.7 319,1942.4 319,1941.9 320,1941.9 320,1942.6 321,1942.7 321,1943.2 322,1943.0 322,1943.3 323,1942.7 323,1943.0 324,1943.0 324,1943.0 325,1943.3 325,1943.0 326,1942.6 326,1943.3 327,1943.8 327,1943.5 328,1943.2 328,1942.9 329,1943.1 329,1942.5 330,1942.3 330,1942.5 331,1942.6 331,1942.4 332,1942.5 332,1942.5 333,1942.6 333,1943.1 334,1943.3 334,1943.3 335,1943.2 335,1943.5 336,1943.2 336,1943.3 337,1943.5 337,1944.1 338,1943.7 338,1944.2 339,1944.2 339,1944.3 340,1943.5 340,1943.2 341,1943.5 341,1943.6 342,1943.6 342,1943.3 343,1943.0 343,1943.4 344,1943.5 344,1943.7 345,1944.2 345,1944.0 346,1943.9 346,1943.8 347,1944.2 347,1944.0 348,1943.7 348,1943.8 349,1943.9 349,1944.1 350,1944.1 350,1944.0 351,1943.8 351,1943.3 352,1943.2 352,1943.0 353,1942.4 353,1942.5 354,1942.0 354,1942.7 355,1942.7 355,1942.6 356,1943.0 356,1942.7 357,1943.4 357,1943.4 358,1943.5 358,1943.7 359,1942.9 359,1943.3 360,1943.8 360,1943.4 361,1943.7 361,1943.0 362,1943.3 362,1943.1 363,1943.2 363,1943.3 364,1942.5 364,1942.4 365,1942.3 365,1942.6 366,1943.3 366,1943.3 367,1943.0 367,1943.0 368,1943.2 368,1943.3 369,1943.0 369,1942.6 370,1942.5 370,1942.0 371,1942.4 371,1942.4 372,1942.5 372,1942.6 373,1942.8 373,1943.3 374,1944.0 374,1943.9 375,1944.1 375,1943.7 376,1944.1 376,1943.8 377,1943.8 377,1943.4 378,1942.9 378,1942.7 379,1942.5 379,1942.4 380,1942.4 380,1942.3 381,1942.2 381,1942.5 382,1943.0 382,1942.9 383,1943.0 383,1943.5 384,1943.2 384,1943.1 385,1943.2 385,1943.4 386,1942.7 386,1942.4 387,1942.7 387,1942.8 388,1942.9 388,1943.4 389,1943.8 389,1943.3 390,1943.6 390,1943.6 391,1943.6 391,1943.2 392,1943.1 392,1943.1 393,1943.0 393,1942.8 394,1942.8 394,1943.2 395,1943.5 395,1944.1 396,1944.5 396,1944.6 397,1943.9 397,1943.7 398,1942.8 398,1943.1 399,1942.2 399,1942.2 400,1942.0 400,1941.8 401,1941.8 401,1942.0 402,1942.4 402,1942.9 403,1943.1 403,1942.9 404,1943.0 404,1942.9 405,1942.9 405,1943.0 406,1943.3 406,1942.8 407,1943.2 407,1943.5 408,1944.4 408,1944.7 409,1944.4 409,1944.8 410,1944.8 410,1944.6 411,1944.6 411,1944.9 412,1944.4 412,1943.7 413,1943.3 413,1943.5 414,1943.0 414,1942.8 415,1942.9 415,1942.9 416,1942.0 416,1941.9 417,1942.1 417,1942.4 418,1942.4 418,1942.5 419,1942.3 419,1942.3 420,1942.5 420,1943.3 421,1943.6 421,1943.3 422,1943.1 422,1943.4 423,1943.7 423,1944.0 424,1944.0 424,1943.7 425,1943.5 425,1943.5 426,1943.5 426,1943.3 427,1942.9 427,1942.4 428,1942.3 428,1942.2 429,1942.3 429,1942.5 430,1942.4 430,1942.8 431,1943.1 431,1943.0 432,1943.5 432,1943.4 433,1943.9 433,1943.8 434,1943.7 434,1943.5 435,1943.4 435,1943.2 436,1943.2 436,1942.9 437,1943.3 437,1943.1 438,1943.2 438,1943.4 439,1943.4 439,1943.4 440,1943.2 440,1943.4 441,1944.1 441,1943.6 442,1943.3 442,1943.7 443,1943.2 443,1943.3 444,1943.9 444,1944.0 445,1944.2 445,1944.1 446,1944.7 446,1944.3 447,1944.0 447,1944.3 448,1944.2 448,1943.5 449,1943.6 449,1943.3 450,1942.7 450,1942.4 451,1942.7 451,1942.6 452,1943.1 452,1943.3 453,1943.5 453,1943.1 454,1943.1 454,1943.4 455,1943.3 455,1943.4 456,1943.5 456,1942.9 457,1942.8 457,1943.0 458,1943.0 458,1943.1 459,1942.8 459,1942.7 460,1942.3 460,1942.5 461,1942.4 461,1942.2 462,1942.1 462,1942.9 463,1943.3 463,1943.6 464,1943.4 464,1943.1 465,1943.1 465,1943.1 466,1943.1 466,1942.7 467,1942.1 467,1942.2 468,1941.8 468,1942.5 469,1943.4 469,1943.2 470,1943.7 470,1943.5 471,1943.7 471,1943.5 472,1943.1 472,1943.7 473,1943.1 473,1943.0 474,1943.2 474,1943.0 475,1943.2 475,1942.9 476,1943.8 476,1944.0 477,1943.2 477,1943.9 478,1944.1 478,1943.6 479,1943.3 479,1943.2 480,1943.5 480,1942.8 481,1942.4 481,1943.2 482,1942.4 482,1942.7 483,1942.6 483,1943.1 484,1943.4 484,1943.5 485,1943.2 485,1943.5 486,1943.0 486,1943.8 487,1943.5 487,1943.1 488,1943.1 488,1943.1 489,1943.3 489,1943.6 490,1943.4 490,1944.1 491,1943.9 491,1944.1 492,1945.0 492,1944.4 493,1944.2 493,1943.8 494,1943.6 494,1943.3 495,1942.8 495,1943.1 496,1943.2 496,1942.7 497,1942.7 497,1942.7 498,1943.3 498,1943.5 499,1943.5 499,1943.7 500,1943.7 500,1943.4 501,1944.1 501,1944.6 502,1944.8 502,1943.9 503,1944.2 503,1944.5 504,1944.0 504,1943.4 505,1943.4 505,1943.3 506,1943.3 506,1943.2 507,1943.6 507,1942.9 508,1943.3 508,1943.5 509,1943.7 509,1943.2 510,1943.0 510,1943.3 511,1943.3 511,1943.6 512,1944.2 512,1943.5 513,1943.7 513,1943.6 514,1943.8 514,1943.5 515,1943.1 515,1942.8 516,1942.7 516,1942.9 517,1943.3 517,1943.4 518,1943.4 518,1943.5 519,1943.8 519,1943.8 520,1944.2 520,1943.7 521,1943.2 521,1942.6 522,1942.8 522,1942.7 523,1943.0 523,1943.4 524,1943.7 524,1943.6 525,1944.1 525,1943.9 526,1944.6 526,1943.9 527,1944.1 527,1944.0 528,1943.9 528,1943.5 529,1943.6 529,1943.4 530,1943.7 530,1943.4 531,1943.7 531,1943.8 532,1943.4 532,1942.9 533,1943.5 533,1943.4 534,1943.4 534,1943.4 535,1943.9 535,1943.9 536,1944.2 536,1944.4 537,1944.4 537,1944.5 538,1944.6 538,1944.6 539,1945.0 539,1945.0 540,1944.7 540,1943.8 541,1944.1 541,1943.6 542,1943.3 542,1942.8 543,1943.1 543,1942.6 544,1942.3 544,1942.6 545,1942.8 545,1942.6 546,1943.1 546,1942.9 547,1943.0 547,1942.8 548,1942.2 548,1942.0 549,1941.8 549,1941.4 550,1940.3 550,1936.5 551,1928.0 551,1912.1 552,1883.2 552,1839.1 553,1779.9 553,1712.4 554,1652.0 554,1613.6 555,1609.2 555,1640.1 556,1695.4 556,1761.0 557,1821.4 557,1868.2 558,1900.0 558,1918.1 559,1927.4 559,1932.6 560,1935.2 560,1937.1 561,1938.2 561,1939.7 562,1940.3 562,1940.4 563,1940.9 563,1941.4 564,1941.9 564,1942.2 565,1942.6 565,1942.8 566,1942.5 566,1942.9 567,1943.4 567,1943.9 568,1944.5 568,1944.4 569,1944.6 569,1944.4 570,1944.2 570,1943.8 571,1944.1 571,1944.0 572,1944.0 572,1943.9 573,1943.7 573,1943.3 574,1943.5 574,1943.7 575,1943.7 575,1943.5 576,1943.7 576,1943.6 577,1943.3 577,1943.3 578,1943.2 578,1943.4 579,1943.2 579,1943.8 580,1943.9 580,1943.4 581,1942.8 581,1942.7 582,1941.3 582,1940.0 583,1937.3 583,1934.4 584,1931.1 584,1928.0 585,1925.1 585,1923.8 586,1922.5 586,1922.9 587,1924.5 587,1927.0 588,1930.2 588,1933.5 589,1936.2 589,1939.0 590,1940.4 590,1941.6 591,1942.5 591,1943.2 592,1943.3 592,1943.6 593,1943.7 593,1944.2 594,1943.7 594,1943.7 595,1943.9 595,1944.1 596,1943.5 596,1943.9 597,1943.9 597,1944.0 598,1943.9 598,1944.1 599,1943.8 599,1943.6 600,1944.2 600,1944.9 601,1945.1 601,1945.2 602,1945.3 602,1945.3 603,1945.1 603,1945.2 604,1944.8 604,1944.4 605,1944.5 605,1944.3 606,1944.0 606,1943.8 607,1943.6 607,1943.7 608,1943.8 608,1944.2 609,1944.2 609,1943.6 610,1943.3 610,1943.5 611,1943.6 611,1942.9 612,1943.1 612,1943.1 613,1942.6 613,1942.5 614,1942.8 614,1942.9 615,1942.8 615,1942.7 616,1943.8 616,1943.1 617,1943.2 617,1943.4 618,1943.3 618,1943.1 619,1943.5 619,1942.8 620,1942.0 620,1941.4 621,1942.3 621,1941.5 622,1941.8 622,1941.9 623,1941.8 623,1942.0 624,1942.8 624,1943.2 625,1943.6 625,1943.2 626,1944.4 626,1944.3 627,1944.4 627,1944.3 628,1943.7 628,1943.4 629,1943.6 629,1943.4 630,1943.5 630,1943.1 631,1942.7 631,1942.4 632,1941.8 632,1939.6 633,1936.1 633,1931.0 634,1924.4 634,1916.7 635,1908.7 635,1901.3 636,1896.0 636,1894.9 637,1897.8 637,1902.7 638,1909.9 638,1917.1 639,1924.2 639,1929.9 640,1934.8 640,1938.0 641,1939.6 641,1940.3 642,1941.8 642,1941.6 643,1941.9 643,1941.9 644,1941.7 644,1941.8 645,1941.4 645,1940.8 646,1940.1 646,1939.1 647,1939.5 647,1938.6 648,1938.1 648,1936.9 649,1935.4 649,1934.2 650,1933.0 650,1932.0 651,1931.4 651,1930.5 652,1930.1 652,1929.6 653,1929.5 653,1929.8 654,1930.4 654,1931.2 655,1931.7 655,1931.8 656,1931.5 656,1932.1 657,1931.8 657,1932.3 658,1931.7 658,1931.1 659,1930.6 659,1930.3 660,1929.8 660,1929.4 661,1928.4 661,1927.8 662,1926.6 662,1926.5 663,1925.6 663,1924.8 664,1923.7 664,1922.5 665,1922.0 665,1921.4 666,1920.9 666,1919.8 667,1918.4 667,1917.9 668,1916.4 668,1915.6 669,1914.7 669,1913.6 670,1912.7 670,1911.3 671,1910.5 671,1909.8 672,1908.5 672,1908.1 673,1907.5 673,1906.6 674,1905.5 674,1904.5 675,1904.1 675,1903.2 676,1902.1 676,1901.4 677,1900.2 677,1899.3 678,1898.4 678,1897.9 679,1897.1 679,1895.9 680,1895.4 680,1895.2 681,1894.8 681,1894.7 682,1893.4 682,1893.2 683,1892.4 683,1891.9 684,1891.3 684,1890.7 685,1890.3 685,1889.8 686,1889.7 686,1890.3 687,1889.7 687,1890.0 688,1890.1 688,1890.7 689,1890.4 689,1890.3 690,1890.1 690,1890.2 691,1889.6 691,1890.3 692,1890.4 692,1890.9 693,1890.5 693,1891.5 694,1891.4 694,1891.9 695,1891.9 695,1892.5 696,1893.3 696,1892.6 697,1892.3 697,1892.7 698,1892.4 698,1892.4 699,1892.4 699,1892.6 700,1892.6 700,1892.0 701,1892.7 701,1893.1 702,1893.5 702,1893.7 703,1894.7 703,1894.8 704,1895.5 704,1895.8 705,1896.7 705,1896.8 706,1896.9 706,1897.4 707,1898.1 707,1898.3 708,1898.7 708,1898.6 709,1899.1 709,1899.1 710,1899.6 710,1899.6 711,1900.1 711,1899.9 712,1899.9 712,1900.2 713,1900.9 713,1901.2 714,1901.5 714,1902.6 715,1903.6 715,1903.1 716,1903.5 716,1904.4 717,1905.3 717,1905.2 718,1905.4 718,1905.3 719,1905.5 719,1905.7 720,1906.4 720,1907.1 721,1907.3 721,1907.6 722,1908.2 722,1909.0 723,1910.3 723,1910.5 724,1911.7 724,1912.6 725,1913.1 725,1914.0 726,1914.1 726,1914.8 727,1915.5 727,1915.4 728,1916.4 728,1916.4 729,1917.0 729,1917.3 730,1917.6 730,1918.2 731,1918.6 731,1918.7 732,1919.1 732,1919.3 733,1919.3 733,1919.6 734,1919.8 734,1920.4 735,1921.1 735,1921.7 736,1922.5 736,1923.0 737,1923.6 737,1924.7 738,1925.3 738,1926.0 739,1926.2 739,1925.9 740,1926.1 740,1926.5 741,1927.0 741,1926.9 742,1927.1 742,1927.4 743,1928.2 743,1928.3 744,1928.9 744,1929.1 745,1929.1 745,1929.6 746,1929.7 746,1930.1 747,1930.1 747,1929.7 748,1930.1 748,1930.2 749,1930.5 749,1930.9 750,1931.6 750,1932.0 751,1932.0 751,1932.7 752,1933.3 752,1933.5 753,1934.1 753,1934.8 754,1935.5 754,1935.2 755,1935.5 755,1936.0 756,1935.6 756,1936.0 757,1935.7 757,1936.0 758,1935.6 758,1935.2 759,1935.3 759,1935.5 760,1935.9 760,1936.1 761,1936.1 761,1936.7 762,1936.6 762,1937.2 763,1937.7 763,1938.2 764,1938.1 764,1937.9 765,1938.4 765,1938.4 766,1939.1 766,1939.9 767,1939.8 767,1939.7 768,1939.7 768,1940.3 769,1940.6 769,1941.0 770,1941.1 770,1941.2 771,1941.3 771,1941.7 772,1942.2 772,1942.2 773,1941.9 773,1941.6 774,1941.5 774,1942.0 775,1942.1 775,1942.0 776,1941.3 776,1941.2 777,1941.0 777,1941.3 778,1941.7 778,1942.2 779,1942.1 779,1941.8 780,1942.1 780,1942.7 781,1942.7 781,1943.2 782,1943.4 782,1943.6 783,1943.1 783,1942.8 784,1942.7 784,1942.9 785,1942.8 785,1943.1 786,1942.9 786,1942.7 787,1942.4 787,1942.5 788,1942.8 788,1943.2 789,1942.4 789,1942.3 790,1942.1 790,1941.5 791,1941.5 791,1941.4 792,1941.2 792,1941.3 793,1941.4 793,1941.7 794,1942.0 794,1941.7 795,1942.3 795,1942.4 796,1942.7 796,1942.7 797,1942.6 797,1942.2 798,1942.5 798,1942.3 799,1942.4 799,1942.3 800,1942.4 800,1942.2 801,1942.5 801,1942.0 802,1942.0 802,1941.5 803,1941.7 803,1942.1 804,1941.5 804,1941.5 805,1941.5 805,1941.2 806,1941.8 806,1942.1 807,1942.4 807,1942.4 808,1942.7 808,1944.0 809,1943.6 809,1944.2 810,1944.5 810,1944.8 811,1944.7 811,1944.2 812,1944.1 812,1944.5 813,1944.3 813,1944.5 814,1944.0 814,1944.2 815,1944.0 815,1943.2 816,1943.6 816,1943.6 817,1943.3 817,1942.5 818,1942.8 818,1942.7 819,1942.6 819,1942.9 820,1943.6 820,1943.5 821,1943.8 821,1943.4 822,1944.5 822,1944.3 823,1944.6 823,1944.3 824,1944.0 824,1943.7 825,1943.4 825,1943.2 826,1943.1 826,1942.5 827,1942.6 827,1942.4 828,1942.7 828,1942.5 829,1942.7 829,1943.3 830,1943.0 830,1943.5 831,1943.4 831,1943.5 832,1943.3 832,1943.2 833,1943.8 833,1943.6 834,1943.6 834,1944.3 835,1944.2 835,1944.3 836,1944.0 836,1943.5 837,1943.7 837,1943.5 838,1943.4 838,1943.0 839,1942.5 839,1942.4 840,1941.9 840,1941.8 841,1942.5 841,1942.1 842,1942.0 842,1942.2 843,1942.3 843,1942.4 844,1942.7 844,1942.9 845,1942.8 845,1942.8 846,1943.6 846,1943.5 847,1943.6 847,1944.3 848,1943.8 848,1943.4 849,1943.3 849,1943.7 850,1944.0 850,1944.0 851,1944.1 851,1944.2 852,1943.6 852,1943.8 853,1943.7 853,1943.9 854,1943.8 854,1943.5 855,1943.1 855,1943.0 856,1943.2 856,1944.0 857,1944.3 857,1944.8 858,1945.1 858,1944.5 859,1944.4 859,1944.5 860,1944.5 860,1944.2 861,1943.3 861,1943.6 862,1942.9 862,1943.0 863,1943.3 863,1943.2 864,1943.3 864,1943.0 865,1942.6 865,1943.0 866,1943.1 866,1943.2 867,1943.0 867,1943.5 868,1943.4 868,1943.1 869,1943.3 869,1943.2 870,1943.4 870,1943.2 871,1943.7 871,1943.4 872,1943.4 872,1943.7 873,1944.0 873,1943.8 874,1944.3 874,1944.4 875,1944.2 875,1944.0 876,1944.2 876,1944.2 877,1944.3 877,1944.3 878,1944.4 878,1944.1 879,1943.6 879,1943.2 880,1943.2 880,1942.8 881,1942.6 881,1942.5 882,1942.7 882,1943.1 883,1943.3 883,1943.4 884,1943.7 884,1944.1 885,1944.5 885,1944.5 886,1944.4 886,1943.9 887,1944.1 887,1944.2 888,1944.2 888,1943.7 889,1943.5 889,1943.3 890,1943.1 890,1943.3 891,1943.4 891,1942.9 892,1942.9 892,1942.6 893,1942.6 893,1942.9 894,1943.6 894,1943.4 895,1943.0 895,1942.7 896,1942.9 896,1942.1 897,1942.4 897,1942.9 898,1942.6 898,1942.8 899,1942.9 899,1943.5 900,1944.1 900,1944.1 901,1944.5 901,1944.7 902,1944.2 902,1943.2 903,1941.0 903,1936.8 904,1926.7 904,1908.0 905,1877.5 905,1832.5 906,1775.9 906,1717.7 907,1670.8 907,1648.5 908,1658.0 908,1696.3 909,1752.1 909,1810.8 910,1861.7 910,1898.2 911,1920.9 911,1933.5 912,1939.4 912,1941.7 913,1942.7 913,1943.1 914,1942.7 914,1941.5 915,1942.1 915,1942.0 916,1942.5 916,1943.2 917,1943.5 917,1943.8 918,1943.4 918,1943.6 919,1944.2 919,1944.1 920,1944.5 920,1944.1 921,1943.9 921,1943.8 922,1943.7 922,1944.0 923,1943.8 923,1944.0 924,1943.4 924,1943.0 925,1942.8 925,1942.6 926,1942.5 926,1942.5 927,1942.5 927,1942.9 928,1942.9 928,1943.2 929,1943.7 929,1944.1 930,1944.3 930,1944.8 931,1944.5 931,1944.3 932,1944.7 932,1944.4 933,1944.6 933,1944.2 934,1944.1 934,1944.3 935,1944.0 935,1944.0 936,1944.4 936,1943.7 937,1943.8 937,1944.0 938,1944.4 938,1944.1 939,1943.7 939,1943.6 940,1943.7 940,1943.1 941,1943.6 941,1943.9 942,1943.5 942,1943.4 943,1943.7 943,1943.3 944,1943.3 944,1943.4 945,1943.6 945,1943.2 946,1943.1 946,1943.2 947,1942.7 947,1942.2 948,1942.6 948,1942.6 949,1942.8 949,1942.5 950,1942.4 950,1941.9 951,1941.7 951,1941.4 952,1942.3 952,1942.4 953,1942.9 953,1942.2 954,1942.5 954,1942.4 955,1943.0 955,1943.7 956,1944.4 956,1943.6 957,1943.7 957,1943.2 958,1943.9 958,1943.7 959,1943.6 959,1943.0 960,1942.8 960,1943.2 961,1944.1 961,1943.9 962,1943.9 962,1943.7 963,1944.2 963,1944.7 964,1944.8 964,1944.2 965,1943.4 965,1943.3 966,1943.8 966,1943.7 967,1943.9 967,1943.5 968,1943.6 968,1943.6 969,1944.2 969,1944.7 970,1944.4 970,1943.7 971,1944.1 971,1944.1 972,1943.7 972,1943.0 973,1943.2 973,1943.5 974,1943.0 974,1942.8 975,1943.0 975,1943.1 976,1943.1 976,1943.8 977,1944.3 977,1944.2 978,1944.3 978,1944.4 979,1944.7 979,1944.9 980,1945.4 980,1945.2 981,1944.9 981,1944.5 982,1944.6 982,1944.2 983,1944.1 983,1944.4 984,1944.4 984,1943.3 985,1943.6 985,1943.4 986,1944.1 986,1943.8 987,1944.1 987,1943.8 988,1942.6 988,1942.0 989,1942.7 989,1943.0 990,1942.9 990,1942.2 991,1942.8 991,1942.5 992,1942.8 992,1943.5 993,1944.2 993,1943.8 994,1943.5 994,1943.6 995,1943.7 995,1943.2 996,1943.1 996,1943.9 997,1943.8 997,1943.2 998,1943.8 998,1943.8 999,1944.2 999,1944.1 1000,1944.0 1000,1944.0 1001,1943.5 1001,1943.1 1002,1943.2 1002,1943.0 1003,1943.0 1003,1943.2 1004,1943.2 1004,1943.1 1005,1943.7 1005,1943.2 1006,1943.3 1006,1943.3 1007,1943.4 1007,1943.9 1008,1943.1 1008,1943.3 1009,1943.3 1009,1942.8 1010,1942.6 1010,1943.2 1011,1943.3 1011,1943.0 1012,1942.3 1012,1943.2 1013,1943.5 1013,1943.5 1014,1943.2 1014,1943.9 1015,1944.0 1015,1944.1 1016,1944.3 1016,1944.0 1017,1943.5 1017,1943.3 1018,1943.7 1018,1943.8 1019,1944.2 1019,1944.0 1020,1943.9 1020,1943.7 1021,1944.0 1021,1943.4 1022,1943.2 1022,1942.9 1023,1942.8 1023,1943.0 1024,1942.6 1024,1942.6 1025,1942.5 1025,1942.2 1026,1943.2 1026,1943.7 1027,1944.3 1027,1944.4 1028,1943.8 1028,1944.2 1029,1944.3 1029,1944.6 1030,1944.6 1030,1944.4 1031,1944.1 1031,1943.2 1032,1943.3 1032,1943.8 1033,1943.8 1033,1943.7 1034,1943.9 1034,1944.1 1035,1943.9 1035,1943.4 1036,1943.7 1036,1943.6 1037,1943.6 1037,1943.2 1038,1943.2 1038,1942.8 1039,1943.2 1039,1943.3 1040,1943.8 1040,1943.8 1041,1944.4 1041,1944.2 1042,1944.4 1042,1944.6 1043,1944.3 1043,1944.0 1044,1944.1 1044,1943.6 1045,1943.2 1045,1942.5 1046,1942.0 1046,1942.1 1047,1942.0 1047,1942.5 1048,1943.0 1048,1943.1 1049,1943.5 1049,1943.6 1050,1943.5 1050,1943.3 1051,1943.3 1051,1943.1 1052,1942.8 1052,1942.0 1053,1942.1 1053,1942.0 1054,1942.4 1054,1942.2 1055,1942.3 1055,1942.6 1056,1942.8 1056,1942.8 1057,1943.7 1057,1944.2 1058,1944.3 1058,1943.8 1059,1944.4 1059,1945.0 1060,1944.2 1060,1944.7 1061,1944.5 1061,1943.8 1062,1943.3 1062,1943.2 1063,1943.4 1063,1943.0 1064,1943.0 1064,1943.8 1065,1943.3 1065,1943.8 1066,1944.3 1066,1944.2 1067,1944.1 1067,1944.1 1068,1944.4 1068,1944.0 1069,1943.6 1069,1943.7 1070,1943.4 1070,1943.4 1071,1943.4 1071,1943.8 1072,1943.5 1072,1942.9 1073,1943.1 1073,1943.0 1074,1942.8 1074,1942.9 1075,1942.5 1075,1942.6 1076,1942.3 1076,1942.9 1077,1943.3 1077,1943.6 1078,1943.8 1078,1944.3 1079,1944.1 1079,1944.3 1080,1943.6 1080,1943.4 1081,1943.3 1081,1943.3 1082,1943.1 1082,1943.5 1083,1943.5 1083,1943.6 1084,1943.0 1084,1943.7 1085,1944.2 1085,1943.8 1086,1943.3 1086,1943.5 1087,1943.1 1087,1943.4 1088,1943.3 1088,1944.0 1089,1943.6 1089,1943.5 1090,1944.1 1090,1944.5 1091,1944.1 1091,1944.1 1092,1943.4 1092,1943.7 1093,1943.5 1093,1942.9 1094,1942.9 1094,1942.2 1095,1942.3 1095,1942.8 1096,1943.1 1096,1942.9 1097,1942.4 1097,1942.3 1098,1942.5 1098,1942.4 1099,1942.7 1099,1942.9 1100,1942.5 1100,1942.1 1101,1942.1 1101,1942.4 1102,1942.3 1102,1942.9 1103,1942.9 1103,1942.6 1104,1942.6 1104,1942.6 1105,1942.7 1105,1943.3 1106,1943.1 1106,1943.9 1107,1943.8 1107,1943.7 1108,1944.0 1108,1943.7 1109,1944.0 1109,1943.9 1110,1943.6 1110,1943.6 1111,1942.7 1111,1942.5 1112,1942.9 1112,1943.0 1113,1943.2"/>
<text x="552.6" y="1599.9" font-size="12.5" text-anchor="middle" font-weight="normal" fill="#c8414e" class="dj">LM</text>
<text x="906.4" y="1640.7" font-size="12.5" text-anchor="middle" font-weight="normal" fill="#c8414e" class="dj">UM</text>
<text class="dj" transform="translate(640.7,1872.8) rotate(-90)" x="0" y="0" font-size="12.5" text-anchor="middle" font-weight="bold" fill="#3a3ad0">139</text>
<text class="dj" transform="translate(693.9,1868.0) rotate(-90)" x="0" y="0" font-size="12.5" text-anchor="middle" font-weight="bold" fill="#3a3ad0">252</text>
<line x1="553.6" y1="1968.4" x2="553.6" y2="1975.4" stroke="#666" stroke-width="1.3" />
<text class="dj" transform="translate(557.9,1976.9) rotate(-90)" x="0" y="0" font-size="12.5" text-anchor="end" font-weight="normal" fill="#3c3c3c">1</text>
<line x1="616.0" y1="1968.4" x2="616.0" y2="1975.4" stroke="#666" stroke-width="1.3" />
<text class="dj" transform="translate(620.3,1976.9) rotate(-90)" x="0" y="0" font-size="12.5" text-anchor="end" font-weight="normal" fill="#3c3c3c">100</text>
<line x1="665.0" y1="1968.4" x2="665.0" y2="1975.4" stroke="#666" stroke-width="1.3" />
<text class="dj" transform="translate(669.3,1976.9) rotate(-90)" x="0" y="0" font-size="12.5" text-anchor="end" font-weight="normal" fill="#3c3c3c">200</text>
<line x1="711.0" y1="1968.4" x2="711.0" y2="1975.4" stroke="#666" stroke-width="1.3" />
<text class="dj" transform="translate(715.3,1976.9) rotate(-90)" x="0" y="0" font-size="12.5" text-anchor="end" font-weight="normal" fill="#3c3c3c">300</text>
<line x1="743.2" y1="1968.4" x2="743.2" y2="1975.4" stroke="#666" stroke-width="1.3" />
<text class="dj" transform="translate(747.5,1976.9) rotate(-90)" x="0" y="0" font-size="12.5" text-anchor="end" font-weight="normal" fill="#3c3c3c">400</text>
<line x1="773.4" y1="1968.4" x2="773.4" y2="1975.4" stroke="#666" stroke-width="1.3" />
<text class="dj" transform="translate(777.7,1976.9) rotate(-90)" x="0" y="0" font-size="12.5" text-anchor="end" font-weight="normal" fill="#3c3c3c">500</text>
<line x1="793.6" y1="1968.4" x2="793.6" y2="1975.4" stroke="#666" stroke-width="1.3" />
<text class="dj" transform="translate(797.9,1976.9) rotate(-90)" x="0" y="0" font-size="12.5" text-anchor="end" font-weight="normal" fill="#3c3c3c">600</text>
<line x1="812.0" y1="1968.4" x2="812.0" y2="1975.4" stroke="#666" stroke-width="1.3" />
<text class="dj" transform="translate(816.3,1976.9) rotate(-90)" x="0" y="0" font-size="12.5" text-anchor="end" font-weight="normal" fill="#3c3c3c">700</text>
<line x1="818.3" y1="1968.4" x2="818.3" y2="1975.4" stroke="#666" stroke-width="1.3" />
<text class="dj" transform="translate(822.6,1976.9) rotate(-90)" x="0" y="0" font-size="12.5" text-anchor="end" font-weight="normal" fill="#3c3c3c">800</text>
<line x1="824.7" y1="1968.4" x2="824.7" y2="1975.4" stroke="#666" stroke-width="1.3" />
<text class="dj" transform="translate(829.0,1976.9) rotate(-90)" x="0" y="0" font-size="12.5" text-anchor="end" font-weight="normal" fill="#3c3c3c">900</text>
<line x1="831.0" y1="1968.4" x2="831.0" y2="1975.4" stroke="#666" stroke-width="1.3" />
<text class="dj" transform="translate(835.3,1976.9) rotate(-90)" x="0" y="0" font-size="12.5" text-anchor="end" font-weight="normal" fill="#3c3c3c">1000</text>
<line x1="837.3" y1="1968.4" x2="837.3" y2="1975.4" stroke="#666" stroke-width="1.3" />
<text class="dj" transform="translate(841.6,1976.9) rotate(-90)" x="0" y="0" font-size="12.5" text-anchor="end" font-weight="normal" fill="#3c3c3c">1100</text>
<line x1="843.7" y1="1968.4" x2="843.7" y2="1975.4" stroke="#666" stroke-width="1.3" />
<text class="dj" transform="translate(848.0,1976.9) rotate(-90)" x="0" y="0" font-size="12.5" text-anchor="end" font-weight="normal" fill="#3c3c3c">1200</text>
<line x1="850.0" y1="1968.4" x2="850.0" y2="1975.4" stroke="#666" stroke-width="1.3" />
<text class="dj" transform="translate(854.3,1976.9) rotate(-90)" x="0" y="0" font-size="12.5" text-anchor="end" font-weight="normal" fill="#3c3c3c">1500</text>
<line x1="863.2" y1="1968.4" x2="863.2" y2="1975.4" stroke="#666" stroke-width="1.3" />
<text class="dj" transform="translate(867.5,1976.9) rotate(-90)" x="0" y="0" font-size="12.5" text-anchor="end" font-weight="normal" fill="#3c3c3c">2000</text>
<line x1="877.6" y1="1968.4" x2="877.6" y2="1975.4" stroke="#666" stroke-width="1.3" />
<text class="dj" transform="translate(881.9,1976.9) rotate(-90)" x="0" y="0" font-size="12.5" text-anchor="end" font-weight="normal" fill="#3c3c3c">3000</text>
<line x1="907.4" y1="1968.4" x2="907.4" y2="1975.4" stroke="#666" stroke-width="1.3" />
<text class="dj" transform="translate(911.7,1976.9) rotate(-90)" x="0" y="0" font-size="12.5" text-anchor="end" font-weight="normal" fill="#3c3c3c">6000</text>
<text x="279.0" y="1580.0" font-size="33" text-anchor="start" font-weight="normal" fill="#111" >m¹A-IP-seq</text>
<text x="279.0" y="1616.5" font-size="33" text-anchor="start" font-weight="normal" fill="#111" >-AlkB</text>
<text x="279.0" y="1653.0" font-size="33" text-anchor="start" font-weight="normal" fill="#111" >replicate1</text>
<text x="707.2" y="1796.0" font-size="33" text-anchor="middle" font-weight="normal" fill="#111" >252 bp</text>
<line x1="688.0" y1="1802.2" x2="688.0" y2="1834.7" stroke="#000" stroke-width="3.2" />
<polygon points="678.4,1832.7 688.0,1832.7 697.6,1832.7 688.0,1851.2" fill="#000"/>
<text transform="translate(204.5,1742.0) rotate(-90)" x="0" y="0" font-size="33" text-anchor="middle" font-weight="normal" fill="#111">RFU</text>
<text x="707.2" y="2032.6" font-size="33" text-anchor="middle" font-weight="normal" fill="#111" >size (bp)</text>
<rect x="1196" y="1533" width="854.4000000000001" height="431" fill="none" stroke="#a6a6a6" stroke-width="1.6"/>
<line x1="1188.0" y1="1534.4" x2="1194.0" y2="1534.4" stroke="#666" stroke-width="1.5" />
<text x="1186.5" y="1538.9" font-size="12.5" text-anchor="end" font-weight="normal" fill="#3c3c3c" class="dj">10317</text>
<line x1="1188.0" y1="1559.8" x2="1194.0" y2="1559.8" stroke="#666" stroke-width="1.5" />
<text x="1186.5" y="1564.3" font-size="12.5" text-anchor="end" font-weight="normal" fill="#3c3c3c" class="dj">10200</text>
<line x1="1188.0" y1="1601.6" x2="1194.0" y2="1601.6" stroke="#666" stroke-width="1.5" />
<text x="1186.5" y="1606.1" font-size="12.5" text-anchor="end" font-weight="normal" fill="#3c3c3c" class="dj">10000</text>
<line x1="1188.0" y1="1644.1" x2="1194.0" y2="1644.1" stroke="#666" stroke-width="1.5" />
<text x="1186.5" y="1648.6" font-size="12.5" text-anchor="end" font-weight="normal" fill="#3c3c3c" class="dj">9800</text>
<line x1="1188.0" y1="1686.6" x2="1194.0" y2="1686.6" stroke="#666" stroke-width="1.5" />
<text x="1186.5" y="1691.1" font-size="12.5" text-anchor="end" font-weight="normal" fill="#3c3c3c" class="dj">9600</text>
<line x1="1188.0" y1="1729.0" x2="1194.0" y2="1729.0" stroke="#666" stroke-width="1.5" />
<text x="1186.5" y="1733.5" font-size="12.5" text-anchor="end" font-weight="normal" fill="#3c3c3c" class="dj">9400</text>
<line x1="1188.0" y1="1771.5" x2="1194.0" y2="1771.5" stroke="#666" stroke-width="1.5" />
<text x="1186.5" y="1776.0" font-size="12.5" text-anchor="end" font-weight="normal" fill="#3c3c3c" class="dj">9200</text>
<line x1="1188.0" y1="1814.0" x2="1194.0" y2="1814.0" stroke="#666" stroke-width="1.5" />
<text x="1186.5" y="1818.5" font-size="12.5" text-anchor="end" font-weight="normal" fill="#3c3c3c" class="dj">9000</text>
<line x1="1188.0" y1="1856.5" x2="1194.0" y2="1856.5" stroke="#666" stroke-width="1.5" />
<text x="1186.5" y="1861.0" font-size="12.5" text-anchor="end" font-weight="normal" fill="#3c3c3c" class="dj">8800</text>
<line x1="1188.0" y1="1899.0" x2="1194.0" y2="1899.0" stroke="#666" stroke-width="1.5" />
<text x="1186.5" y="1903.5" font-size="12.5" text-anchor="end" font-weight="normal" fill="#3c3c3c" class="dj">8600</text>
<line x1="1188.0" y1="1941.4" x2="1194.0" y2="1941.4" stroke="#666" stroke-width="1.5" />
<text x="1186.5" y="1945.9" font-size="12.5" text-anchor="end" font-weight="normal" fill="#3c3c3c" class="dj">8400</text>
<line x1="1188.0" y1="1963.0" x2="1194.0" y2="1963.0" stroke="#666" stroke-width="1.5" />
<text x="1186.5" y="1967.5" font-size="12.5" text-anchor="end" font-weight="normal" fill="#3c3c3c" class="dj">8304</text>
<line x1="1580.0" y1="1533.0" x2="1580.0" y2="1964.0" stroke="#e08e98" stroke-width="1.2" stroke-dasharray="1.6,1.6"/>
<line x1="1769.6" y1="1533.0" x2="1769.6" y2="1964.0" stroke="#e08e98" stroke-width="1.2" stroke-dasharray="1.6,1.6"/>
<text x="1672.6" y="1550.9" font-size="12.5" text-anchor="middle" font-weight="normal" fill="#c8414e" class="dj">273</text>
<line x1="1486.4" y1="1883.4" x2="1486.4" y2="1942.4" stroke="#f0bfa8" stroke-width="1.1" />
<line x1="1507.0" y1="1883.4" x2="1507.0" y2="1942.4" stroke="#f0bfa8" stroke-width="1.1" />
<line x1="1548.8" y1="1883.4" x2="1548.8" y2="1942.4" stroke="#f0bfa8" stroke-width="1.1" />
<line x1="1797.0" y1="1883.4" x2="1797.0" y2="1942.4" stroke="#f0bfa8" stroke-width="1.1" />
<line x1="1839.2" y1="1883.4" x2="1839.2" y2="1942.4" stroke="#f0bfa8" stroke-width="1.1" />
<line x1="1857.0" y1="1883.4" x2="1857.0" y2="1942.4" stroke="#f0bfa8" stroke-width="1.1" />
<line x1="1197.0" y1="1942.4" x2="2049.4" y2="1942.4" stroke="#d98c90" stroke-width="1.2" />
<polyline fill="none" stroke="#505050" stroke-width="1.15" points="1197,1942.3 1198,1941.5 1198,1941.1 1198,1941.4 1199,1941.6 1200,1941.4 1200,1941.0 1200,1940.5 1201,1940.7 1202,1941.0 1202,1941.3 1202,1941.5 1203,1941.4 1204,1941.1 1204,1941.5 1204,1942.4 1205,1942.7 1206,1943.0 1206,1943.3 1206,1943.5 1207,1943.1 1208,1943.4 1208,1943.1 1208,1942.8 1209,1943.0 1210,1943.1 1210,1943.1 1210,1942.4 1211,1942.1 1212,1942.5 1212,1941.9 1212,1943.0 1213,1943.0 1214,1943.1 1214,1943.4 1214,1943.4 1215,1944.0 1216,1944.5 1216,1944.6 1216,1944.9 1217,1944.3 1218,1944.5 1218,1944.1 1218,1943.4 1219,1943.4 1220,1943.0 1220,1942.4 1220,1942.5 1221,1942.2 1222,1942.0 1222,1942.0 1222,1941.3 1223,1942.4 1224,1942.0 1224,1942.6 1224,1942.6 1225,1942.3 1226,1942.1 1226,1942.1 1226,1941.8 1227,1942.5 1228,1941.5 1228,1942.0 1228,1941.2 1229,1942.1 1230,1942.2 1230,1942.6 1230,1942.8 1231,1943.1 1232,1942.6 1232,1943.0 1232,1942.6 1233,1942.8 1234,1942.5 1234,1942.0 1234,1941.9 1235,1941.8 1236,1941.5 1236,1942.4 1236,1942.7 1237,1943.6 1238,1943.5 1238,1943.2 1238,1943.6 1239,1943.7 1240,1944.2 1240,1944.6 1240,1943.9 1241,1943.7 1242,1943.5 1242,1943.3 1242,1943.2 1243,1943.3 1244,1942.9 1244,1942.5 1244,1942.2 1245,1943.1 1246,1942.9 1246,1942.1 1246,1942.5 1247,1942.5 1248,1942.7 1248,1943.4 1248,1943.8 1249,1943.8 1250,1943.7 1250,1943.6 1250,1944.2 1251,1944.3 1252,1944.7 1252,1944.8 1252,1944.2 1253,1943.7 1254,1943.6 1254,1943.3 1254,1943.1 1255,1942.9 1256,1942.9 1256,1942.5 1256,1942.1 1257,1942.1 1258,1942.2 1258,1942.6 1258,1942.6 1259,1942.1 1260,1941.9 1260,1940.9 1260,1941.2 1261,1941.4 1262,1940.8 1262,1940.8 1262,1940.3 1263,1939.9 1264,1940.1 1264,1940.4 1264,1941.1 1265,1940.9 1266,1941.1 1266,1942.0 1266,1942.2 1267,1942.8 1268,1943.6 1268,1943.6 1268,1943.7 1269,1943.7 1270,1944.1 1270,1944.3 1270,1943.9 1271,1944.0 1272,1943.5 1272,1943.3 1272,1943.3 1273,1943.0 1274,1943.0 1274,1942.9 1274,1942.3 1275,1942.4 1276,1942.7 1276,1942.5 1276,1942.1 1277,1942.1 1278,1942.5 1278,1942.3 1278,1941.8 1279,1942.1 1280,1942.1 1280,1941.7 1280,1942.2 1281,1942.5 1282,1942.9 1282,1942.5 1282,1942.6 1283,1942.6 1284,1942.5 1284,1942.3 1284,1942.2 1285,1941.8 1286,1941.6 1286,1941.7 1286,1941.8 1287,1941.9 1288,1942.1 1288,1942.2 1288,1942.7 1289,1943.1 1290,1943.2 1290,1943.4 1290,1943.5 1291,1943.4 1292,1943.3 1292,1943.6 1292,1943.3 1293,1943.0 1294,1942.7 1294,1942.6 1294,1942.1 1295,1942.0 1296,1942.5 1296,1943.1 1296,1942.8 1297,1943.2 1298,1943.8 1298,1944.1 1298,1944.0 1299,1944.3 1300,1944.3 1300,1944.2 1300,1943.6 1301,1943.2 1302,1942.9 1302,1942.2 1302,1942.2 1303,1941.8 1304,1941.5 1304,1941.4 1304,1941.3 1305,1940.6 1306,1941.2 1306,1941.4 1306,1941.5 1307,1941.3 1308,1941.2 1308,1941.4 1308,1941.3 1309,1941.6 1310,1942.2 1310,1942.6 1310,1942.3 1311,1942.2 1312,1942.9 1312,1943.6 1312,1943.3 1313,1943.4 1314,1943.2 1314,1943.2 1314,1942.7 1315,1942.5 1316,1942.7 1316,1942.2 1316,1942.1 1317,1942.6 1318,1942.8 1318,1942.7 1318,1942.9 1319,1942.5 1320,1942.6 1320,1942.7 1320,1942.3 1321,1942.4 1322,1942.1 1322,1942.0 1322,1941.5 1323,1941.7 1324,1942.2 1324,1942.7 1324,1942.7 1325,1943.4 1326,1942.7 1326,1942.2 1326,1941.9 1327,1941.6 1328,1941.3 1328,1941.1 1328,1940.9 1329,1940.0 1330,1939.7 1330,1940.1 1330,1940.2 1331,1940.6 1332,1940.8 1332,1940.8 1332,1940.6 1333,1940.2 1334,1941.5 1334,1941.4 1334,1942.0 1335,1942.3 1336,1942.6 1336,1942.5 1336,1942.6 1337,1942.8 1338,1943.2 1338,1942.8 1338,1942.9 1339,1942.5 1340,1943.0 1340,1942.7 1340,1943.3 1341,1943.3 1342,1943.3 1342,1943.2 1342,1942.9 1343,1943.1 1344,1943.2 1344,1943.1 1344,1942.8 1345,1942.4 1346,1942.1 1346,1942.3 1346,1942.0 1347,1942.6 1348,1942.1 1348,1941.8 1348,1941.1 1349,1941.4 1350,1941.6 1350,1941.9 1350,1942.1 1351,1942.1 1352,1941.6 1352,1942.3 1352,1942.7 1353,1943.4 1354,1943.6 1354,1943.6 1354,1943.6 1355,1943.0 1356,1943.6 1356,1943.4 1356,1943.2 1357,1942.8 1358,1942.3 1358,1941.7 1358,1941.6 1359,1941.9 1360,1941.6 1360,1941.0 1360,1941.5 1361,1941.3 1362,1941.4 1362,1941.7 1362,1941.6 1363,1942.0 1364,1942.1 1364,1942.8 1364,1943.1 1365,1942.9 1366,1943.4 1366,1943.8 1366,1943.0 1367,1943.1 1368,1943.0 1368,1942.2 1368,1942.0 1369,1942.1 1370,1942.0 1370,1941.8 1370,1941.3 1371,1942.3 1372,1942.6 1372,1942.5 1372,1943.0 1373,1943.0 1374,1942.9 1374,1943.2 1374,1943.2 1375,1943.3 1376,1942.8 1376,1942.5 1376,1942.9 1377,1942.7 1378,1942.8 1378,1942.5 1378,1942.3 1379,1942.4 1380,1942.4 1380,1942.8 1380,1943.1 1381,1942.5 1382,1942.7 1382,1942.2 1382,1942.3 1383,1941.9 1384,1941.8 1384,1942.1 1384,1941.7 1385,1941.7 1386,1942.0 1386,1942.2 1386,1943.0 1387,1942.8 1388,1943.2 1388,1942.7 1388,1942.6 1389,1942.9 1390,1942.3 1390,1942.3 1390,1942.3 1391,1942.4 1392,1942.6 1392,1942.4 1392,1943.0 1393,1943.2 1394,1943.1 1394,1943.1 1394,1942.8 1395,1942.7 1396,1942.6 1396,1942.5 1396,1942.7 1397,1942.4 1398,1942.3 1398,1942.8 1398,1943.1 1399,1943.5 1400,1943.0 1400,1943.1 1400,1942.3 1401,1941.9 1402,1941.8 1402,1941.6 1402,1941.1 1403,1941.1 1404,1941.3 1404,1942.1 1404,1942.2 1405,1943.1 1406,1943.4 1406,1943.7 1406,1943.6 1407,1943.9 1408,1943.9 1408,1943.6 1408,1943.3 1409,1943.0 1410,1943.1 1410,1943.1 1410,1942.6 1411,1942.5 1412,1942.8 1412,1943.1 1412,1943.0 1413,1942.6 1414,1942.3 1414,1942.3 1414,1942.2 1415,1942.7 1416,1942.5 1416,1941.8 1416,1941.3 1417,1940.8 1418,1940.2 1418,1939.9 1418,1939.7 1419,1940.1 1420,1939.9 1420,1940.3 1420,1940.5 1421,1940.8 1422,1941.3 1422,1942.2 1422,1942.2 1423,1942.8 1424,1942.6 1424,1942.9 1424,1942.7 1425,1942.9 1426,1942.8 1426,1943.1 1426,1942.6 1427,1942.9 1428,1941.8 1428,1941.8 1428,1941.5 1429,1941.5 1430,1941.0 1430,1941.3 1430,1941.1 1431,1941.6 1432,1941.7 1432,1942.3 1432,1942.6 1433,1942.7 1434,1942.7 1434,1942.5 1434,1942.4 1435,1942.8 1436,1942.5 1436,1942.5 1436,1942.3 1437,1942.1 1438,1942.4 1438,1942.8 1438,1943.7 1439,1944.0 1440,1943.5 1440,1944.4 1440,1944.3 1441,1944.9 1442,1944.6 1442,1943.9 1442,1943.5 1443,1943.2 1444,1943.0 1444,1943.1 1444,1942.6 1445,1943.0 1446,1943.2 1446,1943.7 1446,1943.7 1447,1943.8 1448,1943.4 1448,1943.5 1448,1944.0 1449,1943.2 1450,1942.3 1450,1941.7 1450,1941.5 1451,1941.9 1452,1941.8 1452,1942.3 1452,1942.0 1453,1941.0 1454,1942.0 1454,1942.4 1454,1942.8 1455,1942.8 1456,1943.2 1456,1943.3 1456,1942.1 1457,1942.5 1458,1943.0 1458,1942.8 1458,1943.0 1459,1942.5 1460,1942.8 1460,1942.6 1460,1942.4 1461,1943.5 1462,1943.4 1462,1943.2 1462,1943.3 1463,1943.1 1464,1943.3 1464,1943.3 1464,1943.6 1465,1943.6 1466,1943.0 1466,1943.3 1466,1943.4 1467,1943.1 1468,1943.5 1468,1944.0 1468,1943.5 1469,1942.8 1470,1943.6 1470,1943.7 1470,1943.3 1471,1943.1 1472,1943.3 1472,1943.3 1472,1942.7 1473,1943.1 1474,1942.6 1474,1942.0 1474,1941.7 1475,1942.5 1476,1942.2 1476,1942.0 1476,1942.1 1477,1941.7 1478,1941.8 1478,1943.0 1478,1943.4 1479,1943.7 1480,1943.2 1480,1943.7 1480,1944.0 1481,1943.5 1482,1943.5 1482,1943.6 1482,1942.9 1483,1943.0 1484,1943.5 1484,1943.3 1484,1943.7 1485,1943.0 1486,1943.5 1486,1943.0 1486,1942.7 1487,1941.1 1488,1936.0 1488,1926.0 1488,1907.8 1489,1875.3 1490,1827.3 1490,1764.7 1490,1697.6 1491,1639.0 1492,1606.6 1492,1609.7 1492,1646.4 1493,1705.6 1494,1771.5 1494,1830.1 1494,1873.9 1495,1901.7 1496,1918.0 1496,1926.6 1496,1930.9 1497,1932.8 1498,1934.5 1498,1935.7 1498,1936.9 1499,1937.5 1500,1938.7 1500,1939.4 1500,1939.6 1501,1940.3 1502,1940.7 1502,1941.1 1502,1941.7 1503,1942.2 1504,1942.5 1504,1942.6 1504,1942.9 1505,1943.0 1506,1942.7 1506,1943.2 1506,1943.0 1507,1942.8 1508,1942.1 1508,1942.3 1508,1942.1 1509,1941.9 1510,1942.0 1510,1942.1 1510,1941.3 1511,1941.4 1512,1941.8 1512,1941.9 1512,1942.2 1513,1942.0 1514,1941.6 1514,1941.3 1514,1941.2 1515,1941.7 1516,1941.5 1516,1941.0 1516,1941.5 1517,1941.5 1518,1941.5 1518,1942.1 1518,1942.2 1519,1942.4 1520,1942.6 1520,1942.4 1520,1942.7 1521,1941.9 1522,1941.1 1522,1940.6 1522,1938.2 1523,1935.3 1524,1931.0 1524,1925.3 1524,1918.8 1525,1911.4 1526,1904.2 1526,1898.0 1526,1892.8 1527,1890.7 1528,1891.0 1528,1893.7 1528,1898.9 1529,1905.4 1530,1912.5 1530,1919.5 1530,1925.1 1531,1930.1 1532,1933.5 1532,1936.2 1532,1937.6 1533,1938.4 1534,1939.2 1534,1940.0 1534,1940.1 1535,1940.4 1536,1940.8 1536,1941.4 1536,1941.7 1537,1942.3 1538,1943.0 1538,1942.7 1538,1942.6 1539,1943.2 1540,1943.4 1540,1943.1 1540,1943.0 1541,1943.2 1542,1942.9 1542,1942.6 1542,1942.9 1543,1942.9 1544,1942.9 1544,1942.5 1544,1942.7 1545,1942.5 1546,1942.4 1546,1942.5 1546,1942.7 1547,1942.9 1548,1942.8 1548,1942.4 1548,1942.5 1549,1942.8 1550,1942.6 1550,1942.7 1550,1942.6 1551,1942.4 1552,1941.7 1552,1941.7 1552,1942.0 1553,1942.2 1554,1942.3 1554,1941.9 1554,1941.8 1555,1941.5 1556,1941.2 1556,1941.8 1556,1941.5 1557,1941.1 1558,1941.0 1558,1940.9 1558,1941.1 1559,1941.2 1560,1941.4 1560,1941.6 1560,1941.3 1561,1941.4 1562,1941.4 1562,1941.2 1562,1940.8 1563,1940.8 1564,1940.4 1564,1940.2 1564,1940.1 1565,1940.0 1566,1939.8 1566,1940.1 1566,1940.2 1567,1940.2 1568,1940.4 1568,1940.2 1568,1939.6 1569,1939.7 1570,1939.6 1570,1939.0 1570,1937.6 1571,1935.2 1572,1932.2 1572,1927.2 1572,1920.8 1573,1912.4 1574,1902.6 1574,1893.4 1574,1886.0 1575,1881.9 1576,1882.0 1576,1885.7 1576,1893.1 1577,1901.0 1578,1909.7 1578,1917.6 1578,1923.4 1579,1926.9 1580,1929.1 1580,1929.8 1580,1930.2 1581,1929.5 1582,1929.8 1582,1929.7 1582,1928.6 1583,1927.1 1584,1926.6 1584,1925.6 1584,1925.0 1585,1924.0 1586,1922.9 1586,1921.6 1586,1920.1 1587,1918.8 1588,1917.8 1588,1916.4 1588,1914.8 1589,1913.6 1590,1912.5 1590,1911.8 1590,1910.1 1591,1908.6 1592,1907.4 1592,1906.2 1592,1904.9 1593,1903.6 1594,1901.9 1594,1900.1 1594,1898.1 1595,1896.1 1596,1894.2 1596,1892.4 1596,1890.3 1597,1887.4 1598,1885.2 1598,1882.7 1598,1880.7 1599,1878.1 1600,1876.0 1600,1873.9 1600,1871.4 1601,1869.0 1602,1867.3 1602,1865.8 1602,1863.6 1603,1860.9 1604,1858.8 1604,1856.5 1604,1854.5 1605,1851.4 1606,1849.0 1606,1846.8 1606,1843.5 1607,1841.5 1608,1838.9 1608,1836.5 1608,1834.7 1609,1831.8 1610,1830.6 1610,1828.4 1610,1826.5 1611,1824.9 1612,1822.4 1612,1821.0 1612,1820.0 1613,1817.7 1614,1816.3 1614,1814.7 1614,1813.8 1615,1812.5 1616,1811.2 1616,1810.5 1616,1809.8 1617,1808.8 1618,1808.2 1618,1807.9 1618,1806.7 1619,1805.5 1620,1804.6 1620,1804.9 1620,1804.8 1621,1804.6 1622,1804.7 1622,1804.7 1622,1803.8 1623,1804.7 1624,1805.4 1624,1806.2 1624,1806.5 1625,1807.1 1626,1807.4 1626,1807.2 1626,1808.0 1627,1809.2 1628,1809.3 1628,1809.5 1628,1809.8 1629,1809.4 1630,1809.3 1630,1809.9 1630,1810.8 1631,1810.8 1632,1811.1 1632,1811.8 1632,1812.6 1633,1812.6 1634,1813.5 1634,1814.1 1634,1814.9 1635,1815.6 1636,1817.0 1636,1817.8 1636,1818.9 1637,1819.2 1638,1820.4 1638,1821.4 1638,1823.0 1639,1823.2 1640,1824.1 1640,1824.2 1640,1824.9 1641,1825.0 1642,1826.7 1642,1827.7 1642,1828.5 1643,1829.8 1644,1831.0 1644,1831.6 1644,1832.9 1645,1834.0 1646,1835.3 1646,1835.9 1646,1836.6 1647,1837.7 1648,1838.5 1648,1839.3 1648,1840.3 1649,1841.0 1650,1842.5 1650,1844.0 1650,1844.9 1651,1846.3 1652,1847.4 1652,1848.1 1652,1849.6 1653,1850.8 1654,1851.9 1654,1852.7 1654,1853.5 1655,1854.8 1656,1856.2 1656,1857.1 1656,1858.1 1657,1859.2 1658,1860.1 1658,1861.7 1658,1862.6 1659,1863.6 1660,1864.7 1660,1865.7 1660,1867.2 1661,1868.4 1662,1869.3 1662,1870.9 1662,1871.8 1663,1873.4 1664,1875.3 1664,1876.1 1664,1877.0 1665,1877.8 1666,1879.2 1666,1880.2 1666,1881.1 1667,1881.9 1668,1882.9 1668,1883.2 1668,1884.6 1669,1885.8 1670,1886.6 1670,1887.8 1670,1888.8 1671,1889.5 1672,1890.7 1672,1892.0 1672,1892.7 1673,1893.5 1674,1893.6 1674,1895.1 1674,1896.0 1675,1896.8 1676,1898.0 1676,1899.1 1676,1899.7 1677,1900.8 1678,1901.8 1678,1903.1 1678,1903.4 1679,1904.1 1680,1905.0 1680,1906.3 1680,1906.8 1681,1907.6 1682,1908.1 1682,1909.0 1682,1910.2 1683,1911.2 1684,1911.6 1684,1912.6 1684,1912.9 1685,1913.4 1686,1914.2 1686,1915.3 1686,1916.0 1687,1917.1 1688,1917.5 1688,1918.3 1688,1918.4 1689,1919.0 1690,1919.6 1690,1920.3 1690,1921.5 1691,1922.2 1692,1922.1 1692,1922.4 1692,1923.3 1693,1924.0 1694,1924.7 1694,1925.5 1694,1926.0 1695,1925.8 1696,1925.7 1696,1926.3 1696,1927.4 1697,1927.1 1698,1927.7 1698,1928.1 1698,1928.7 1699,1929.1 1700,1928.9 1700,1929.4 1700,1929.4 1701,1929.3 1702,1930.2 1702,1930.6 1702,1930.6 1703,1930.6 1704,1930.9 1704,1931.8 1704,1931.5 1705,1932.4 1706,1932.9 1706,1932.7 1706,1933.5 1707,1934.4 1708,1934.6 1708,1935.3 1708,1935.7 1709,1936.6 1710,1937.4 1710,1938.0 1710,1938.7 1711,1938.4 1712,1938.4 1712,1938.5 1712,1938.5 1713,1938.6 1714,1938.9 1714,1938.2 1714,1938.0 1715,1937.8 1716,1937.8 1716,1938.2 1716,1938.3 1717,1938.4 1718,1938.7 1718,1938.9 1718,1938.4 1719,1938.2 1720,1938.9 1720,1938.9 1720,1938.4 1721,1938.7 1722,1938.6 1722,1938.0 1722,1937.8 1723,1938.8 1724,1939.5 1724,1939.1 1724,1939.5 1725,1939.9 1726,1939.1 1726,1939.5 1726,1939.9 1727,1940.0 1728,1939.5 1728,1939.4 1728,1939.9 1729,1940.4 1730,1940.4 1730,1941.4 1730,1941.6 1731,1941.7 1732,1942.2 1732,1942.9 1732,1942.9 1733,1942.2 1734,1942.1 1734,1942.1 1734,1941.8 1735,1941.4 1736,1941.6 1736,1941.1 1736,1940.9 1737,1940.7 1738,1941.3 1738,1941.3 1738,1941.7 1739,1941.3 1740,1941.7 1740,1941.8 1740,1941.6 1741,1942.0 1742,1942.2 1742,1942.8 1742,1942.2 1743,1942.2 1744,1942.6 1744,1942.6 1744,1942.4 1745,1942.6 1746,1942.6 1746,1942.6 1746,1942.4 1747,1943.5 1748,1942.9 1748,1942.6 1748,1942.4 1749,1942.3 1750,1942.9 1750,1942.9 1750,1943.5 1751,1942.9 1752,1942.5 1752,1942.7 1752,1943.3 1753,1943.4 1754,1943.9 1754,1943.4 1754,1943.1 1755,1942.4 1756,1942.5 1756,1942.1 1756,1942.4 1757,1942.3 1758,1941.9 1758,1941.5 1758,1941.3 1759,1941.4 1760,1941.7 1760,1942.2 1760,1942.2 1761,1942.2 1762,1942.4 1762,1942.2 1762,1942.2 1763,1942.7 1764,1942.7 1764,1942.4 1764,1942.2 1765,1942.4 1766,1941.8 1766,1941.7 1766,1942.3 1767,1942.3 1768,1942.4 1768,1942.1 1768,1941.9 1769,1942.1 1770,1941.9 1770,1942.1 1770,1941.9 1771,1941.9 1772,1941.8 1772,1941.9 1772,1942.2 1773,1942.6 1774,1942.8 1774,1942.9 1774,1942.9 1775,1943.0 1776,1943.2 1776,1943.9 1776,1943.7 1777,1943.7 1778,1943.7 1778,1943.2 1778,1942.9 1779,1943.2 1780,1943.4 1780,1943.1 1780,1942.6 1781,1942.4 1782,1942.7 1782,1943.0 1782,1942.9 1783,1943.4 1784,1943.3 1784,1943.0 1784,1943.0 1785,1942.7 1786,1942.6 1786,1942.3 1786,1941.8 1787,1942.2 1788,1942.1 1788,1942.4 1788,1942.2 1789,1942.5 1790,1942.4 1790,1942.6 1790,1942.2 1791,1942.4 1792,1942.1 1792,1942.2 1792,1941.9 1793,1942.5 1794,1942.6 1794,1942.8 1794,1943.0 1795,1943.2 1796,1942.7 1796,1943.0 1796,1942.8 1797,1943.2 1798,1942.3 1798,1942.1 1798,1942.1 1799,1941.6 1800,1941.8 1800,1942.3 1800,1942.2 1801,1942.7 1802,1942.3 1802,1942.6 1802,1942.5 1803,1942.6 1804,1942.7 1804,1942.5 1804,1942.6 1805,1942.5 1806,1941.8 1806,1941.6 1806,1942.0 1807,1942.2 1808,1941.7 1808,1942.1 1808,1942.2 1809,1941.8 1810,1942.1 1810,1942.7 1810,1943.0 1811,1942.8 1812,1942.5 1812,1942.4 1812,1942.1 1813,1942.1 1814,1942.5 1814,1942.6 1814,1942.1 1815,1941.9 1816,1942.0 1816,1942.3 1816,1942.8 1817,1943.2 1818,1943.3 1818,1942.9 1818,1942.4 1819,1942.6 1820,1942.9 1820,1942.7 1820,1942.7 1821,1942.8 1822,1942.9 1822,1942.8 1822,1943.4 1823,1943.4 1824,1943.7 1824,1943.6 1824,1943.6 1825,1943.5 1826,1943.4 1826,1943.0 1826,1942.7 1827,1942.1 1828,1941.9 1828,1942.0 1828,1942.5 1829,1942.6 1830,1942.5 1830,1942.6 1830,1942.6 1831,1942.3 1832,1942.8 1832,1943.1 1832,1942.4 1833,1941.9 1834,1941.5 1834,1941.3 1834,1941.1 1835,1941.7 1836,1942.2 1836,1941.5 1836,1941.3 1837,1941.9 1838,1941.6 1838,1941.7 1838,1942.3 1839,1942.6 1840,1942.3 1840,1942.5 1840,1942.9 1841,1942.4 1842,1941.1 1842,1938.2 1842,1932.1 1843,1918.5 1844,1893.9 1844,1854.3 1844,1799.7 1845,1735.8 1846,1676.1 1846,1635.0 1846,1625.0 1847,1648.1 1848,1698.6 1848,1760.9 1848,1821.6 1849,1870.5 1850,1904.0 1850,1923.5 1850,1933.5 1851,1938.3 1852,1940.4 1852,1940.8 1852,1941.4 1853,1941.6 1854,1941.1 1854,1941.4 1854,1941.3 1855,1941.6 1856,1941.6 1856,1942.2 1856,1942.4 1857,1942.5 1858,1942.7 1858,1943.4 1858,1943.3 1859,1943.5 1860,1942.7 1860,1942.5 1860,1942.0 1861,1942.1 1862,1941.7 1862,1941.5 1862,1941.2 1863,1940.9 1864,1940.9 1864,1941.3 1864,1941.1 1865,1941.3 1866,1941.6 1866,1941.5 1866,1942.0 1867,1941.8 1868,1941.9 1868,1942.2 1868,1941.7 1869,1942.1 1870,1942.0 1870,1941.8 1870,1942.4 1871,1941.9 1872,1942.2 1872,1941.9 1872,1941.5 1873,1942.0 1874,1941.8 1874,1941.6 1874,1942.0 1875,1942.1 1876,1941.9 1876,1941.6 1876,1941.8 1877,1941.9 1878,1942.2 1878,1942.4 1878,1942.7 1879,1942.1 1880,1941.7 1880,1942.4 1880,1943.1 1881,1943.2 1882,1943.3 1882,1943.2 1882,1943.6 1883,1943.5 1884,1943.6 1884,1943.3 1884,1943.1 1885,1942.5 1886,1942.4 1886,1942.8 1886,1942.4 1887,1941.7 1888,1941.8 1888,1941.2 1888,1941.3 1889,1940.8 1890,1941.3 1890,1941.4 1890,1941.0 1891,1940.9 1892,1941.3 1892,1941.4 1892,1941.6 1893,1941.7 1894,1942.0 1894,1942.0 1894,1942.0 1895,1941.8 1896,1942.4 1896,1942.2 1896,1941.7 1897,1942.3 1898,1942.2 1898,1942.1 1898,1941.7 1899,1941.6 1900,1941.8 1900,1941.4 1900,1941.2 1901,1941.8 1902,1941.9 1902,1941.9 1902,1942.4 1903,1943.0 1904,1943.2 1904,1943.4 1904,1943.1 1905,1943.0 1906,1942.8 1906,1942.7 1906,1942.3 1907,1941.8 1908,1941.2 1908,1941.3 1908,1941.3 1909,1942.0 1910,1942.6 1910,1942.8 1910,1942.4 1911,1943.5 1912,1943.6 1912,1943.5 1912,1943.6 1913,1943.3 1914,1942.8 1914,1942.4 1914,1942.5 1915,1943.1 1916,1941.9 1916,1941.7 1916,1941.8 1917,1941.3 1918,1941.0 1918,1941.3 1918,1941.7 1919,1941.3 1920,1941.2 1920,1941.6 1920,1941.7 1921,1942.2 1922,1942.9 1922,1943.5 1922,1942.9 1923,1942.9 1924,1942.9 1924,1942.7 1924,1942.6 1925,1943.6 1926,1943.1 1926,1942.6 1926,1942.2 1927,1943.1 1928,1942.6 1928,1943.0 1928,1942.9 1929,1943.1 1930,1941.9 1930,1942.2 1930,1942.4 1931,1942.5 1932,1942.1 1932,1942.3 1932,1942.2 1933,1942.2 1934,1942.7 1934,1943.3 1934,1943.2 1935,1943.7 1936,1943.6 1936,1943.4 1936,1943.0 1937,1942.9 1938,1942.2 1938,1941.3 1938,1941.3 1939,1941.3 1940,1940.9 1940,1940.8 1940,1941.0 1941,1941.4 1942,1941.4 1942,1942.0 1942,1942.8 1943,1942.7 1944,1942.5 1944,1942.2 1944,1942.8 1945,1943.0 1946,1943.4 1946,1943.5 1946,1943.6 1947,1943.0 1948,1942.8 1948,1942.9 1948,1943.1 1949,1942.7 1950,1942.3 1950,1941.8 1950,1942.0 1951,1942.4 1952,1942.5 1952,1942.8 1952,1942.8 1953,1943.1 1954,1943.5 1954,1943.6 1954,1943.7 1955,1943.4 1956,1943.5 1956,1944.1 1956,1943.3 1957,1943.6 1958,1942.8 1958,1942.4 1958,1942.8 1959,1943.0 1960,1942.7 1960,1942.2 1960,1942.1 1961,1942.7 1962,1942.4 1962,1942.9 1962,1943.0 1963,1942.8 1964,1942.8 1964,1943.1 1964,1943.4 1965,1943.0 1966,1942.8 1966,1943.0 1966,1942.8 1967,1942.7 1968,1942.9 1968,1942.5 1968,1942.2 1969,1941.6 1970,1942.1 1970,1942.5 1970,1942.1 1971,1942.1 1972,1942.2 1972,1942.1 1972,1942.2 1973,1942.2 1974,1943.0 1974,1943.0 1974,1942.5 1975,1943.1 1976,1943.3 1976,1943.0 1976,1943.2 1977,1943.6 1978,1943.4 1978,1943.2 1978,1942.8 1979,1943.0 1980,1943.2 1980,1943.1 1980,1943.0 1981,1942.8 1982,1942.0 1982,1942.6 1982,1942.4 1983,1942.2 1984,1942.4 1984,1941.8 1984,1941.7 1985,1941.6 1986,1941.8 1986,1942.2 1986,1941.3 1987,1941.3 1988,1942.2 1988,1941.5 1988,1941.9 1989,1941.8 1990,1941.5 1990,1941.2 1990,1941.1 1991,1941.4 1992,1941.7 1992,1940.6 1992,1941.0 1993,1940.9 1994,1940.9 1994,1941.2 1994,1941.5 1995,1941.4 1996,1941.7 1996,1941.4 1996,1942.1 1997,1942.0 1998,1941.8 1998,1942.0 1998,1941.3 1999,1941.5 2000,1941.6 2000,1941.4 2000,1941.4 2001,1941.5 2002,1941.4 2002,1941.7 2002,1941.8 2003,1942.4 2004,1942.0 2004,1942.7 2004,1943.2 2005,1943.6 2006,1943.3 2006,1943.3 2006,1942.8 2007,1942.3 2008,1942.5 2008,1942.3 2008,1941.7 2009,1941.0 2010,1940.6 2010,1940.8 2010,1941.7 2011,1941.4 2012,1941.2 2012,1941.0 2012,1940.9 2013,1940.7 2014,1941.0 2014,1940.9 2014,1940.9 2015,1941.4 2016,1941.9 2016,1942.7 2016,1942.9 2017,1943.1 2018,1943.2 2018,1943.1 2018,1943.2 2019,1942.7 2020,1941.5 2020,1941.7 2020,1941.5 2021,1942.0 2022,1941.9 2022,1942.0 2022,1942.1 2023,1942.0 2024,1942.0 2024,1942.4 2024,1942.1 2025,1942.3 2026,1942.4 2026,1942.5 2026,1942.7 2027,1943.1 2028,1943.4 2028,1943.6 2028,1943.6 2029,1943.3 2030,1943.1 2030,1942.4 2030,1942.8 2031,1942.7 2032,1942.1 2032,1942.5 2032,1942.6 2033,1942.6 2034,1942.5 2034,1942.5 2034,1942.7 2035,1942.2 2036,1941.9 2036,1942.5 2036,1942.0 2037,1942.0 2038,1941.9 2038,1942.9 2038,1942.8 2039,1943.1 2040,1942.9 2040,1942.9 2040,1942.8 2041,1943.5 2042,1943.5 2042,1943.4 2042,1942.7 2043,1943.2 2044,1942.9 2044,1943.0 2044,1943.1 2045,1943.2 2046,1942.4 2046,1942.3 2046,1942.3 2047,1942.6 2048,1942.0 2048,1942.3 2048,1942.1"/>
<text x="1489.8" y="1595.1" font-size="12.5" text-anchor="middle" font-weight="normal" fill="#c8414e" class="dj">LM</text>
<text x="1844.0" y="1616.7" font-size="12.5" text-anchor="middle" font-weight="normal" fill="#c8414e" class="dj">UM</text>
<text class="dj" transform="translate(1623.9,1781.6) rotate(-90)" x="0" y="0" font-size="12.5" text-anchor="middle" font-weight="bold" fill="#3a3ad0">236</text>
<line x1="1491.2" y1="1966.0" x2="1491.2" y2="1973.0" stroke="#666" stroke-width="1.3" />
<text class="dj" transform="translate(1495.5,1974.5) rotate(-90)" x="0" y="0" font-size="12.5" text-anchor="end" font-weight="normal" fill="#3c3c3c">1</text>
<line x1="1553.6" y1="1966.0" x2="1553.6" y2="1973.0" stroke="#666" stroke-width="1.3" />
<text class="dj" transform="translate(1557.9,1974.5) rotate(-90)" x="0" y="0" font-size="12.5" text-anchor="end" font-weight="normal" fill="#3c3c3c">100</text>
<line x1="1604.0" y1="1966.0" x2="1604.0" y2="1973.0" stroke="#666" stroke-width="1.3" />
<text class="dj" transform="translate(1608.3,1974.5) rotate(-90)" x="0" y="0" font-size="12.5" text-anchor="end" font-weight="normal" fill="#3c3c3c">200</text>
<line x1="1648.6" y1="1966.0" x2="1648.6" y2="1973.0" stroke="#666" stroke-width="1.3" />
<text class="dj" transform="translate(1652.9,1974.5) rotate(-90)" x="0" y="0" font-size="12.5" text-anchor="end" font-weight="normal" fill="#3c3c3c">300</text>
<line x1="1680.8" y1="1966.0" x2="1680.8" y2="1973.0" stroke="#666" stroke-width="1.3" />
<text class="dj" transform="translate(1685.1,1974.5) rotate(-90)" x="0" y="0" font-size="12.5" text-anchor="end" font-weight="normal" fill="#3c3c3c">400</text>
<line x1="1711.0" y1="1966.0" x2="1711.0" y2="1973.0" stroke="#666" stroke-width="1.3" />
<text class="dj" transform="translate(1715.3,1974.5) rotate(-90)" x="0" y="0" font-size="12.5" text-anchor="end" font-weight="normal" fill="#3c3c3c">500</text>
<line x1="1732.6" y1="1966.0" x2="1732.6" y2="1973.0" stroke="#666" stroke-width="1.3" />
<text class="dj" transform="translate(1736.9,1974.5) rotate(-90)" x="0" y="0" font-size="12.5" text-anchor="end" font-weight="normal" fill="#3c3c3c">600</text>
<line x1="1750.0" y1="1966.0" x2="1750.0" y2="1973.0" stroke="#666" stroke-width="1.3" />
<text class="dj" transform="translate(1754.3,1974.5) rotate(-90)" x="0" y="0" font-size="12.5" text-anchor="end" font-weight="normal" fill="#3c3c3c">700</text>
<line x1="1756.3" y1="1966.0" x2="1756.3" y2="1973.0" stroke="#666" stroke-width="1.3" />
<text class="dj" transform="translate(1760.6,1974.5) rotate(-90)" x="0" y="0" font-size="12.5" text-anchor="end" font-weight="normal" fill="#3c3c3c">800</text>
<line x1="1762.7" y1="1966.0" x2="1762.7" y2="1973.0" stroke="#666" stroke-width="1.3" />
<text class="dj" transform="translate(1767.0,1974.5) rotate(-90)" x="0" y="0" font-size="12.5" text-anchor="end" font-weight="normal" fill="#3c3c3c">900</text>
<line x1="1769.0" y1="1966.0" x2="1769.0" y2="1973.0" stroke="#666" stroke-width="1.3" />
<text class="dj" transform="translate(1773.3,1974.5) rotate(-90)" x="0" y="0" font-size="12.5" text-anchor="end" font-weight="normal" fill="#3c3c3c">1000</text>
<line x1="1775.3" y1="1966.0" x2="1775.3" y2="1973.0" stroke="#666" stroke-width="1.3" />
<text class="dj" transform="translate(1779.6,1974.5) rotate(-90)" x="0" y="0" font-size="12.5" text-anchor="end" font-weight="normal" fill="#3c3c3c">1100</text>
<line x1="1781.7" y1="1966.0" x2="1781.7" y2="1973.0" stroke="#666" stroke-width="1.3" />
<text class="dj" transform="translate(1786.0,1974.5) rotate(-90)" x="0" y="0" font-size="12.5" text-anchor="end" font-weight="normal" fill="#3c3c3c">1200</text>
<line x1="1788.0" y1="1966.0" x2="1788.0" y2="1973.0" stroke="#666" stroke-width="1.3" />
<text class="dj" transform="translate(1792.3,1974.5) rotate(-90)" x="0" y="0" font-size="12.5" text-anchor="end" font-weight="normal" fill="#3c3c3c">1500</text>
<line x1="1799.8" y1="1966.0" x2="1799.8" y2="1973.0" stroke="#666" stroke-width="1.3" />
<text class="dj" transform="translate(1804.1,1974.5) rotate(-90)" x="0" y="0" font-size="12.5" text-anchor="end" font-weight="normal" fill="#3c3c3c">2000</text>
<line x1="1816.2" y1="1966.0" x2="1816.2" y2="1973.0" stroke="#666" stroke-width="1.3" />
<text class="dj" transform="translate(1820.5,1974.5) rotate(-90)" x="0" y="0" font-size="12.5" text-anchor="end" font-weight="normal" fill="#3c3c3c">3000</text>
<line x1="1846.4" y1="1966.0" x2="1846.4" y2="1973.0" stroke="#666" stroke-width="1.3" />
<text class="dj" transform="translate(1850.7,1974.5) rotate(-90)" x="0" y="0" font-size="12.5" text-anchor="end" font-weight="normal" fill="#3c3c3c">6000</text>
<text x="1210.4" y="1580.0" font-size="33" text-anchor="start" font-weight="normal" fill="#111" >m¹A-IP-seq</text>
<text x="1210.4" y="1616.5" font-size="33" text-anchor="start" font-weight="normal" fill="#111" >+AlkB</text>
<text x="1210.4" y="1653.0" font-size="33" text-anchor="start" font-weight="normal" fill="#111" >replicate1</text>
<text x="1635.2" y="1712.0" font-size="33" text-anchor="middle" font-weight="normal" fill="#111" >236 bp</text>
<line x1="1617.4" y1="1716.8" x2="1617.4" y2="1750.7" stroke="#000" stroke-width="3.2" />
<polygon points="1607.8,1748.7 1617.4,1748.7 1627.0,1748.7 1617.4,1767.2" fill="#000"/>
<text x="1617.2" y="2032.6" font-size="33" text-anchor="middle" font-weight="normal" fill="#111" >size (bp)</text>
</svg>
</body></html>
